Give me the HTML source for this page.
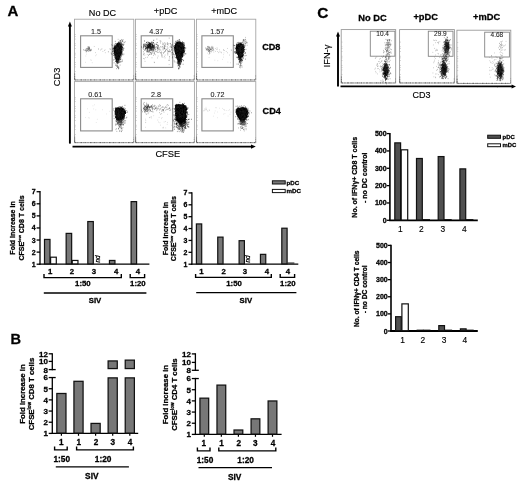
<!DOCTYPE html>
<html lang="en">
<head>
<meta charset="utf-8">
<title>Figure</title>
<style>
html,body{margin:0;padding:0;background:#fff;}
body{width:520px;height:482px;overflow:hidden;}
svg{display:block;filter:grayscale(1) blur(0.3px);}
</style>
</head>
<body>
<svg width="520" height="482" viewBox="0 0 520 482" font-family='"Liberation Sans", Arial, Helvetica, sans-serif'>
<rect width="520" height="482" fill="#fff"/>
<text x="7.6" y="15.8" font-size="15px" font-weight="bold" stroke="#000" stroke-width="0.28">A</text>
<text x="102.5" y="15.9" font-size="9.1px" text-anchor="middle" stroke="#000" stroke-width="0.14">No DC</text>
<text x="165.6" y="13.6" font-size="9.1px" text-anchor="middle" stroke="#000" stroke-width="0.14">+pDC</text>
<text x="224.2" y="13.6" font-size="9.1px" text-anchor="middle" stroke="#000" stroke-width="0.14">+mDC</text>
<text x="262.2" y="50.4" font-size="9.1px" font-weight="bold" stroke="#000" stroke-width="0.28">CD8</text>
<text x="262.6" y="114.4" font-size="9.1px" font-weight="bold" stroke="#000" stroke-width="0.28">CD4</text>
<text transform="translate(60.3 77) rotate(-90)" font-size="9.3px" text-anchor="middle" stroke="#000" stroke-width="0.14">CD3</text>
<text x="167.8" y="157.4" font-size="9.3px" text-anchor="middle" stroke="#000" stroke-width="0.14">CFSE</text>
<line x1="69.9" y1="143.6" x2="69.9" y2="25" stroke="#000" stroke-width="1.9"/>
<path d="M69.9 21.6L67.9 26.5L71.9 26.5Z" fill="#000"/>
<line x1="72.5" y1="146.6" x2="252" y2="146.6" stroke="#000" stroke-width="1.9"/>
<path d="M255.8 146.6L251 144.5L251 148.7Z" fill="#000"/>
<rect x="74.5" y="19.2" width="59.3" height="60.8" fill="none" stroke="#a2a2a2" stroke-width="0.85"/>
<line x1="75.1" y1="79.9" x2="133.2" y2="79.9" stroke="#4a4a4a" stroke-width="0.8" stroke-dasharray="1.2 1.1 0.5 0.9 0.4 1.3 1.6 1.2 0.5 0.8"/>
<line x1="75.3" y1="72" x2="75.3" y2="31.2" stroke="#888" stroke-width="0.7" stroke-dasharray="0.5 4.3 0.5 2.2 0.5 1.3"/>
<line x1="74.7" y1="79.7" x2="74.7" y2="73.2" stroke="#444" stroke-width="0.8" stroke-dasharray="2.2 0.6 1.2 0.7 0.6 0.8"/>
<line x1="133.6" y1="79.7" x2="133.6" y2="75" stroke="#777" stroke-width="0.7" stroke-dasharray="1.6 0.8 0.8 1.0"/>
<rect x="80.6" y="35.8" width="31.6" height="31.6" fill="none" stroke="#8a8a8a" stroke-width="1.1"/>
<text x="96" y="33.9" font-size="7.2px" text-anchor="middle" fill="#1c1c1c" stroke="#1c1c1c" stroke-width="0.08">1.5</text>
<rect x="135.5" y="19.2" width="58.9" height="60.8" fill="none" stroke="#a2a2a2" stroke-width="0.85"/>
<line x1="136.1" y1="79.9" x2="193.8" y2="79.9" stroke="#4a4a4a" stroke-width="0.8" stroke-dasharray="1.2 1.1 0.5 0.9 0.4 1.3 1.6 1.2 0.5 0.8"/>
<line x1="136.3" y1="72" x2="136.3" y2="31.2" stroke="#888" stroke-width="0.7" stroke-dasharray="0.5 4.3 0.5 2.2 0.5 1.3"/>
<line x1="135.7" y1="79.7" x2="135.7" y2="73.2" stroke="#444" stroke-width="0.8" stroke-dasharray="2.2 0.6 1.2 0.7 0.6 0.8"/>
<line x1="194.2" y1="79.7" x2="194.2" y2="75" stroke="#777" stroke-width="0.7" stroke-dasharray="1.6 0.8 0.8 1.0"/>
<rect x="141.2" y="35.8" width="31.5" height="31.6" fill="none" stroke="#8a8a8a" stroke-width="1.1"/>
<text x="156.2" y="33.9" font-size="7.2px" text-anchor="middle" fill="#1c1c1c" stroke="#1c1c1c" stroke-width="0.08">4.37</text>
<rect x="196.4" y="19.2" width="59.4" height="60.8" fill="none" stroke="#a2a2a2" stroke-width="0.85"/>
<line x1="197" y1="79.9" x2="255.2" y2="79.9" stroke="#4a4a4a" stroke-width="0.8" stroke-dasharray="1.2 1.1 0.5 0.9 0.4 1.3 1.6 1.2 0.5 0.8"/>
<line x1="197.2" y1="72" x2="197.2" y2="31.2" stroke="#888" stroke-width="0.7" stroke-dasharray="0.5 4.3 0.5 2.2 0.5 1.3"/>
<line x1="196.6" y1="79.7" x2="196.6" y2="73.2" stroke="#444" stroke-width="0.8" stroke-dasharray="2.2 0.6 1.2 0.7 0.6 0.8"/>
<line x1="255.6" y1="79.7" x2="255.6" y2="75" stroke="#777" stroke-width="0.7" stroke-dasharray="1.6 0.8 0.8 1.0"/>
<rect x="201.9" y="35.8" width="31.4" height="31.6" fill="none" stroke="#8a8a8a" stroke-width="1.1"/>
<text x="217.2" y="33.9" font-size="7.2px" text-anchor="middle" fill="#1c1c1c" stroke="#1c1c1c" stroke-width="0.08">1.57</text>
<rect x="74.5" y="81.6" width="59.3" height="61.1" fill="none" stroke="#a2a2a2" stroke-width="0.85"/>
<line x1="75.1" y1="142.6" x2="133.2" y2="142.6" stroke="#4a4a4a" stroke-width="0.8" stroke-dasharray="1.2 1.1 0.5 0.9 0.4 1.3 1.6 1.2 0.5 0.8"/>
<line x1="75.3" y1="134.7" x2="75.3" y2="93.6" stroke="#888" stroke-width="0.7" stroke-dasharray="0.5 4.3 0.5 2.2 0.5 1.3"/>
<line x1="74.7" y1="142.4" x2="74.7" y2="135.9" stroke="#444" stroke-width="0.8" stroke-dasharray="2.2 0.6 1.2 0.7 0.6 0.8"/>
<line x1="133.6" y1="142.4" x2="133.6" y2="137.7" stroke="#777" stroke-width="0.7" stroke-dasharray="1.6 0.8 0.8 1.0"/>
<rect x="80.6" y="98.8" width="31.6" height="32.1" fill="none" stroke="#8a8a8a" stroke-width="1.1"/>
<text x="95.3" y="97.3" font-size="7.2px" text-anchor="middle" fill="#1c1c1c" stroke="#1c1c1c" stroke-width="0.08">0.61</text>
<rect x="135.5" y="81.6" width="58.9" height="61.1" fill="none" stroke="#a2a2a2" stroke-width="0.85"/>
<line x1="136.1" y1="142.6" x2="193.8" y2="142.6" stroke="#4a4a4a" stroke-width="0.8" stroke-dasharray="1.2 1.1 0.5 0.9 0.4 1.3 1.6 1.2 0.5 0.8"/>
<line x1="136.3" y1="134.7" x2="136.3" y2="93.6" stroke="#888" stroke-width="0.7" stroke-dasharray="0.5 4.3 0.5 2.2 0.5 1.3"/>
<line x1="135.7" y1="142.4" x2="135.7" y2="135.9" stroke="#444" stroke-width="0.8" stroke-dasharray="2.2 0.6 1.2 0.7 0.6 0.8"/>
<line x1="194.2" y1="142.4" x2="194.2" y2="137.7" stroke="#777" stroke-width="0.7" stroke-dasharray="1.6 0.8 0.8 1.0"/>
<rect x="141.2" y="98.8" width="31.5" height="32.1" fill="none" stroke="#8a8a8a" stroke-width="1.1"/>
<text x="156" y="97.3" font-size="7.2px" text-anchor="middle" fill="#1c1c1c" stroke="#1c1c1c" stroke-width="0.08">2.8</text>
<rect x="196.4" y="81.6" width="59.4" height="61.1" fill="none" stroke="#a2a2a2" stroke-width="0.85"/>
<line x1="197" y1="142.6" x2="255.2" y2="142.6" stroke="#4a4a4a" stroke-width="0.8" stroke-dasharray="1.2 1.1 0.5 0.9 0.4 1.3 1.6 1.2 0.5 0.8"/>
<line x1="197.2" y1="134.7" x2="197.2" y2="93.6" stroke="#888" stroke-width="0.7" stroke-dasharray="0.5 4.3 0.5 2.2 0.5 1.3"/>
<line x1="196.6" y1="142.4" x2="196.6" y2="135.9" stroke="#444" stroke-width="0.8" stroke-dasharray="2.2 0.6 1.2 0.7 0.6 0.8"/>
<line x1="255.6" y1="142.4" x2="255.6" y2="137.7" stroke="#777" stroke-width="0.7" stroke-dasharray="1.6 0.8 0.8 1.0"/>
<rect x="201.9" y="98.8" width="31.4" height="32.1" fill="none" stroke="#8a8a8a" stroke-width="1.1"/>
<text x="217.4" y="97.3" font-size="7.2px" text-anchor="middle" fill="#1c1c1c" stroke="#1c1c1c" stroke-width="0.08">0.72</text>
<path d="M118.95 42.55C119.56 42.74 120.35 44.05 120.85 44.92C121.35 45.78 121.89 46.56 121.94 47.74C121.99 48.91 121.47 50.56 121.15 51.97C120.83 53.38 120.45 54.83 120.04 56.19C119.62 57.55 119.13 59.04 118.66 60.15C118.19 61.26 117.66 63.02 117.21 62.85C116.77 62.68 116.34 60.43 115.98 59.16C115.61 57.89 115.31 56.42 115.01 55.22C114.7 54.02 114.39 53.02 114.15 51.97C113.91 50.91 113.42 49.87 113.59 48.9C113.76 47.92 114.54 46.98 115.15 46.12C115.75 45.26 116.59 44.34 117.22 43.75C117.85 43.15 118.35 42.35 118.95 42.55Z" fill="#000"/>
<path d="M116.13 45.38h0.8M118.88 50.28h0.8M117.51 59.7h0.8M118.63 50.57h0.8M120.99 48.72h0.8M116.58 60h0.8M118.67 50.03h0.8M118.89 52.13h0.8M117.69 47.54h0.8M114.15 53.97h0.8M120.05 48.35h0.8M117.57 58.61h0.8M120.43 53.73h0.8M118.69 54.22h0.8M118.61 56.46h0.8M119.63 49.04h0.8M113.52 48.52h0.8M112.81 51.2h0.8M114.95 52.16h0.8M115.15 48.1h0.8M119.28 47.9h0.8M117.75 53.72h0.8M117.79 54.87h0.8M117.7 51.28h0.8M115.92 50.17h0.8M118.71 46.24h0.8M117.98 43.16h0.8M117.77 52.55h0.8M116.66 47.54h0.8M117.84 45.48h0.8M116.4 51.09h0.8M117.79 58.82h0.8M115.37 53.2h0.8M116.53 56.39h0.8M115.59 47.62h0.8M119.85 51.2h0.8M120.42 53.42h0.8M117.09 58.68h0.8M116.87 61.33h0.8M116.6 53.78h0.8M117.45 59.8h0.8M115.75 49.47h0.8M116.85 52.24h0.8M115.17 51.05h0.8M116.2 61.17h0.8M118.58 46.3h0.8M114.88 51.23h0.8M115.1 52.63h0.8M115.79 47.3h0.8M118.96 57.56h0.8M117.58 52.73h0.8M115.63 53.62h0.8M119.82 47.17h0.8M121.18 45.88h0.8M120.53 44.16h0.8M118.3 52.35h0.8M114.27 51.24h0.8M115.2 48.87h0.8M118.87 51.56h0.8M120.76 53.79h0.8M115.7 48.25h0.8M117.36 60.54h0.8M118.57 56.9h0.8M120.9 51.94h0.8M120.14 59.55h0.8M115.79 48.88h0.8M118.33 47.66h0.8M116.23 48.13h0.8M117.69 46.27h0.8M120.02 54.51h0.8M119.04 51.37h0.8M116.08 50.9h0.8M116.17 58.44h0.8M117.34 49.73h0.8M116.94 46.58h0.8M115.73 48.25h0.8M114.75 53.47h0.8M116.9 49.79h0.8M117.82 53.58h0.8M114.49 50.7h0.8M115.36 46.81h0.8M119.54 54.42h0.8M117.26 49.13h0.8M120.98 55.99h0.8M113.36 53.14h0.8M119.32 56.81h0.8M115.81 50.73h0.8M117.48 54.5h0.8M117.64 53.18h0.8M120.26 47.93h0.8M119.55 44.71h0.8M116.61 50.46h0.8M119.81 54.84h0.8M114.79 47.08h0.8M113.57 47.01h0.8M118.42 48.37h0.8M117.87 44.65h0.8M117.79 49.72h0.8M115.91 55.05h0.8M121.31 52.13h0.8M117.78 49.2h0.8M117.46 59.62h0.8M121.64 44.47h0.8M120.61 48.96h0.8M116.57 51.47h0.8M115.2 47.91h0.8M119.51 42.75h0.8M119.82 55.86h0.8M117.18 50.68h0.8M121.4 47.31h0.8M118.46 50.93h0.8M119.8 45.64h0.8M117.46 45.68h0.8M114.2 47.14h0.8M119.08 51.39h0.8M117.29 49.64h0.8M118.13 54.94h0.8M115.21 48.06h0.8M121.06 52.15h0.8M117.52 60.08h0.8M122.04 47.86h0.8M119.05 55.97h0.8M118.1 58.32h0.8M119.37 49.12h0.8M119.12 56.91h0.8M117.57 54.72h0.8M117.13 51.63h0.8M121.02 52.75h0.8M117.26 56.51h0.8M116.21 50.64h0.8M118.43 46.59h0.8M120.66 48.46h0.8M117.86 47.1h0.8M115.27 52.47h0.8M115.32 49.62h0.8M122.05 50.81h0.8M118.68 50.7h0.8M116.29 49.58h0.8M116.91 58.52h0.8M116.95 61.87h0.8M117.04 58.82h0.8M121.25 46.19h0.8M117.4 47.81h0.8M115.54 57.64h0.8M117.3 51.71h0.8M116.04 48.01h0.8M121.73 45.12h0.8M118.37 49.83h0.8M120.52 45.31h0.8M114.2 51.89h0.8M114.75 50.26h0.8M119.47 44.49h0.8M118.29 49.63h0.8M116.53 48.78h0.8M116.6 50.57h0.8M118.21 46.25h0.8M118.43 57.8h0.8M114.28 48.83h0.8M121.89 49.51h0.8M118.71 55.82h0.8M115.43 54.31h0.8M113.48 48.77h0.8M116.46 45.79h0.8M116.69 53.47h0.8M116.37 50h0.8M115.72 54.65h0.8M116.56 46.06h0.8M115.86 60.05h0.8M118.37 45.93h0.8M117.05 53.27h0.8M118.6 61.88h0.8M118.27 43.3h0.8M120.59 45.29h0.8M117.19 59.32h0.8M114.69 50.58h0.8M114.37 46.01h0.8M119.84 44.39h0.8M117.98 49.23h0.8M116.4 56.18h0.8M117.79 46.05h0.8M117.07 46.25h0.8M115.33 51.72h0.8M117.65 43.14h0.8M117.15 43.63h0.8M114.15 49.24h0.8M121.24 47.76h0.8M117.93 61.78h0.8M118.27 49.13h0.8M114.1 52.8h0.8M120.27 61.88h0.8M119.02 50h0.8M116.17 58.23h0.8M119.08 46.07h0.8M118.47 56.06h0.8M117.18 51.2h0.8M114.6 47.03h0.8M114.64 50.76h0.8M117.92 46.11h0.8M116.49 46.17h0.8M118 47.99h0.8M117.8 49.03h0.8M118.17 47.83h0.8M114.2 54.85h0.8M120.16 46.67h0.8M119.77 51.19h0.8M115.91 56.43h0.8M118.79 47.69h0.8M120.07 54.22h0.8M115.7 45.57h0.8M120.3 48.73h0.8M117.82 54.85h0.8M117.04 58.22h0.8M116.67 56.99h0.8M116.79 55.95h0.8M116.68 45.47h0.8M118.98 54.28h0.8M117.28 57.74h0.8M118.48 58.85h0.8M119.59 47.41h0.8M115.51 57.56h0.8M116.58 59.18h0.8M118.29 46.7h0.8M120.93 46.01h0.8M118.04 59.51h0.8M116.37 61.2h0.8M115.69 46.09h0.8M118.24 50.2h0.8M116.02 47.39h0.8M116.84 61.31h0.8M118.05 56.81h0.8M117.29 50.35h0.8M119.5 58.3h0.8M120.62 54.89h0.8M121.21 47.96h0.8M115.23 49.12h0.8M117.5 46.2h0.8M115.74 50.22h0.8M120.06 52.37h0.8M116.62 57.8h0.8M119.5 52.73h0.8M117.62 57.16h0.8M117.92 58.01h0.8M118.55 52.72h0.8M114.64 49.93h0.8M118.13 48h0.8M118.01 49.35h0.8M118.1 50.57h0.8M117.06 57.03h0.8M119 54.09h0.8M114.37 57.22h0.8M116.64 50.73h0.8M116.76 57.19h0.8M117.74 47.78h0.8M117.79 55.83h0.8M117.11 54.29h0.8M117.14 48.41h0.8M120.9 49.28h0.8M116.31 47.91h0.8M115.67 48.32h0.8M116.79 54.9h0.8M120.68 42.98h0.8M119.4 47.87h0.8M117.56 44.91h0.8M117.91 57.05h0.8M116.61 58.18h0.8M118.27 48.32h0.8M117.31 43.82h0.8M116.27 52.3h0.8M116.78 52.76h0.8M117 50.98h0.8M119.9 55.64h0.8M118.01 52.27h0.8M118.82 56.48h0.8M115.4 51.98h0.8M114.53 51.82h0.8M120.85 47.83h0.8M115.8 47.98h0.8M118.74 59.19h0.8M115.24 53.49h0.8M114.48 48.66h0.8M119.94 58.02h0.8M118.41 54.34h0.8M118.87 46.16h0.8M120.04 44.79h0.8M119.64 48.88h0.8M118.04 48.51h0.8M115.17 49.96h0.8M121.06 53.84h0.8M116.72 44.22h0.8M119.55 46.99h0.8M118.89 43.42h0.8M117.39 63.37h0.8M116.92 58.62h0.8M117 44.47h0.8M118.06 57.33h0.8M116.1 55.08h0.8M118.02 58.07h0.8M120.17 49.22h0.8M117.74 54.65h0.8M117.22 49.48h0.8M115.48 55.52h0.8M120.91 48.3h0.8M117.74 53.05h0.8M119.16 47.03h0.8M118.59 59.9h0.8M120.51 46.61h0.8M117.44 47.97h0.8M121.34 52.58h0.8M118.66 46.52h0.8M117.75 54.96h0.8M115.89 54.52h0.8M119.61 45.33h0.8M120.3 52.19h0.8M121.28 50.78h0.8M115.47 46.34h0.8M116.52 60.69h0.8M119.94 51.89h0.8M114.57 52.59h0.8M118.77 50.67h0.8M117.03 48.78h0.8M118.2 47.94h0.8M114.45 49.5h0.8M117.64 46.38h0.8M121.22 46.89h0.8M116.14 52.59h0.8M117.74 48.69h0.8M118.88 45.69h0.8M120.46 54.96h0.8M116.14 51.39h0.8M121.02 50.08h0.8M118.57 46.92h0.8M114.26 48.34h0.8M114.61 48.27h0.8M119.79 48.49h0.8M120.36 49.5h0.8M120.85 53.96h0.8M120.85 46.8h0.8M119.81 46.69h0.8M118.6 53.1h0.8M119.07 56.02h0.8M119.67 50.59h0.8M121.16 48.12h0.8M121.42 49.23h0.8M115.97 46.58h0.8M118.16 53.82h0.8M115.37 57.82h0.8M117.73 53.28h0.8M121.81 47.4h0.8M120.42 46.62h0.8M118.3 52.84h0.8M117.64 53.08h0.8M115.75 44.53h0.8M114.81 53.74h0.8M117.32 50.33h0.8M117.01 61h0.8M113.69 50.17h0.8M115.2 50.6h0.8M117.23 44.31h0.8M118.69 47.41h0.8M118 47.53h0.8M121.17 49.38h0.8M115.42 51.93h0.8M115.91 51.33h0.8M118.7 56.85h0.8M116.81 53.14h0.8M116.34 48.33h0.8M117.47 54.49h0.8M119.99 47.09h0.8M116.21 58.45h0.8M121.54 51.76h0.8M117.67 57.81h0.8M114.22 50.27h0.8M119.12 59h0.8M120.19 51.07h0.8M118.1 54.47h0.8M118.68 49.57h0.8M117.89 50.49h0.8M118.91 49.09h0.8M117.13 47.69h0.8M118.01 52.14h0.8M114.53 54.08h0.8M122.05 47.95h0.8M117.38 61.05h0.8M119.42 52.04h0.8M117.62 52.38h0.8M115.52 56.06h0.8M119.82 53.63h0.8M115.59 53.26h0.8M117.94 55.21h0.8M118.33 59.68h0.8M118.76 44.1h0.8M121.35 51.6h0.8M118.04 53.23h0.8M117.44 56.66h0.8M117.81 44.09h0.8M116.78 56.59h0.8M118.24 46.55h0.8M113.35 55.19h0.8M118.7 51.19h0.8M120.3 44.98h0.8M116.94 58.39h0.8M119.88 48.43h0.8M116.3 48.89h0.8M117.76 49.86h0.8M117.26 55.36h0.8M118.91 47.59h0.8M117.76 62.56h0.8M119.05 48.44h0.8M117.65 59.1h0.8M117.18 46.23h0.8M117.57 44.73h0.8M116.74 48.08h0.8M119.78 50.43h0.8M114.56 47.69h0.8M117.44 59.12h0.8M115.21 58.51h0.8M117.43 47.28h0.8M120.28 47.26h0.8M116.27 47.23h0.8M119.96 44.96h0.8M115.04 58.93h0.8M118.09 49.06h0.8M117 56.6h0.8M116.53 52.97h0.8M117.01 47.98h0.8M117.02 50.05h0.8M115.78 48.37h0.8M118.21 50.24h0.8M119.82 47.03h0.8M120.06 47.31h0.8M119.92 57.07h0.8M114.71 47.25h0.8M113.62 48.51h0.8M118.55 48.16h0.8M119.6 43.6h0.8M119.91 52.12h0.8M117.51 52.77h0.8M116.8 53.44h0.8M118.78 47.87h0.8M116.88 47.01h0.8M119.54 56.7h0.8M118.52 51.31h0.8M114.1 55.15h0.8M118.7 58.94h0.8M118.73 50.53h0.8M114.23 48.81h0.8M114.47 49.33h0.8M116.96 45.58h0.8M116.72 46.01h0.8M114.06 52.66h0.8M119.05 48.05h0.8M121.01 49.53h0.8M116.61 45.72h0.8M115.72 54.75h0.8M118.81 54.26h0.8M118.06 53.21h0.8" stroke="#000" stroke-width="0.8" fill="none"/>
<path d="M118.01 43.12h0.65M117.75 62.53h0.65M117.24 46.28h0.65M119.58 53.92h0.65M116.81 52.83h0.65M120.56 47.86h0.65M118.56 50.37h0.65M120.38 51.15h0.65M118.52 57.28h0.65M116.81 51.91h0.65M121.66 53.05h0.65M114.68 55.51h0.65M119.21 51.38h0.65M115.61 47.82h0.65M117.21 55.66h0.65M117.88 44.58h0.65M114.4 59.14h0.65M122.94 44.7h0.65M119.23 45.42h0.65M120.17 44.68h0.65M118.11 50.35h0.65M114.84 46.71h0.65M114.94 54.83h0.65M114.25 45.51h0.65M118.93 42.9h0.65M121.46 61.67h0.65M119.95 49.65h0.65M114.42 56.61h0.65M118.45 43.81h0.65M112.59 45.57h0.65M118.16 50.69h0.65M122.47 48.67h0.65M115.07 53.17h0.65M119.38 45.01h0.65M116.14 55.41h0.65M118.87 50.3h0.65M111.09 53.26h0.65M120.55 55.84h0.65M117.87 56.6h0.65M115.98 55.78h0.65M117.05 49.05h0.65M111.58 54.48h0.65M117.67 51.39h0.65M120.35 45.47h0.65M115.91 50.92h0.65M115.76 46.43h0.65M123.63 48.27h0.65M113.13 59.94h0.65M121.08 48.56h0.65M114.59 46.71h0.65M113.9 44.33h0.65M118.51 41.68h0.65M120.03 40.55h0.65M117.33 47.5h0.65M119.83 49.66h0.65M118.27 49.22h0.65M116.63 51.71h0.65M115.19 51.74h0.65M118.32 57.99h0.65M120.78 42.54h0.65M115.47 53.55h0.65M118.53 47.8h0.65M120.81 43.65h0.65M112.9 47.54h0.65M117.84 54.07h0.65M120.91 44.55h0.65M119.91 45.57h0.65M122.31 47.22h0.65M119.56 47.53h0.65M119.22 60.99h0.65M119.52 60.3h0.65M115.31 49.68h0.65M115.68 43.95h0.65M117.49 57.27h0.65M120.88 44.44h0.65M111.97 49.64h0.65M115.12 49.87h0.65M117.39 57.47h0.65M117.02 47.98h0.65M117.97 43.27h0.65M122.96 45.4h0.65M115.92 53.96h0.65M116.42 46.6h0.65M122.34 54.5h0.65M115.8 46.86h0.65M116.82 54.06h0.65M117.03 55.15h0.65M112.46 51.49h0.65M115.93 50.94h0.65M114.71 55.94h0.65M117.93 47.23h0.65M115.57 49.53h0.65M115.47 53.48h0.65M116.96 50.11h0.65M117.61 47.36h0.65M115.07 59.12h0.65M115.4 56.9h0.65M118.51 51.96h0.65M119.32 51.99h0.65M117.18 58.56h0.65M116.3 48.73h0.65M119.52 53.37h0.65M116.03 52.13h0.65M119.16 43.94h0.65M116.75 48.63h0.65M116.38 54.55h0.65M118.95 49.39h0.65M115.97 48.6h0.65M116.92 48.46h0.65M117.66 54.06h0.65M117.91 53.73h0.65M116.35 56.7h0.65M117.71 49.89h0.65M118.5 50.27h0.65M115.49 61.44h0.65M116.37 56.55h0.65M119.66 50.56h0.65M122.58 54.98h0.65M122.27 53.33h0.65M120.58 54.36h0.65M119.71 47.48h0.65M115.32 49.22h0.65M119.39 51.59h0.65M120.93 48.36h0.65M115.93 50.63h0.65M118.87 48.77h0.65M112.11 48.53h0.65M117.81 52.47h0.65M116.85 54.57h0.65M113.72 62.85h0.65M113.69 50.89h0.65M120.72 45.06h0.65M118.97 50.13h0.65M116.62 45.92h0.65M121.94 47.25h0.65M116.86 60.05h0.65M122.07 46.71h0.65M114.59 46.45h0.65M119.7 44.79h0.65M122.24 40.57h0.65M117.16 57.91h0.65M114.1 49.98h0.65M119.72 44.01h0.65M116.02 47.39h0.65M115.7 58.72h0.65M121.08 46.94h0.65M118.04 45.36h0.65M117.1 60.64h0.65M115.09 43.42h0.65M120.79 52.39h0.65M115.95 49.18h0.65M117.88 58.1h0.65M119.31 54.87h0.65M113.15 53.34h0.65M115.53 51.69h0.65M122.31 61.06h0.65M115.05 57.36h0.65M116.74 48.28h0.65M118.53 47.97h0.65M115.67 45.42h0.65M119.6 46.38h0.65M119.44 55h0.65M120.61 51.79h0.65M117.09 47.42h0.65M118.68 46.48h0.65M112.72 51.54h0.65M118.36 48.56h0.65M120.7 57.99h0.65M119.28 45.23h0.65M121.93 41.35h0.65M120.04 48.42h0.65M123.13 48.05h0.65M114.18 46.93h0.65M116.52 58.24h0.65M117.64 55.69h0.65M114.9 41.36h0.65M118.17 51.74h0.65M118.71 49.76h0.65M114.17 49.8h0.65M120.05 49.27h0.65M117.62 48.6h0.65M116.87 47.59h0.65M119.06 52.07h0.65M120.48 45.83h0.65M117.38 60.75h0.65M117.67 56.03h0.65M115.49 64.13h0.65M116.04 49.78h0.65M116.3 54.89h0.65M120.14 44.16h0.65M115.95 45.47h0.65M119.07 46.68h0.65M120.86 50.71h0.65M119.32 57.69h0.65M118.87 57.63h0.65M115.57 52.24h0.65M119.52 46.59h0.65M120.83 49.32h0.65M116.34 48.39h0.65M117.42 52.37h0.65M118.34 50.03h0.65M115.2 57.04h0.65M116.31 43.49h0.65M118.28 54.64h0.65M117 47.33h0.65M117.76 57.63h0.65M117.98 48.51h0.65M116.94 58.11h0.65M111.47 44.86h0.65M119.18 54.72h0.65M117.05 48.86h0.65M116.05 49.55h0.65M116.5 50.21h0.65M116.55 57.67h0.65M116.42 57.82h0.65M123.15 50.29h0.65M119.36 55.68h0.65M118.44 60.58h0.65M120.06 49.15h0.65M123.27 49.21h0.65M116.67 48.88h0.65M121.68 59.82h0.65M117.65 51.6h0.65M123.58 54.08h0.65M117.2 56.28h0.65" stroke="#222" stroke-width="0.65" fill="none"/>
<path d="M116.85 63.02h0.6M117.06 67.01h0.6M118.17 68.74h0.6M115.24 61.49h0.6M118.32 68.61h0.6M117.84 60.35h0.6M116.82 62.49h0.6M116.11 62.49h0.6M117.74 61.58h0.6M118.25 61.16h0.6M117.3 60.64h0.6M116.32 62.35h0.6M117.23 60.66h0.6M116.83 61.06h0.6M116.67 63.48h0.6M115.09 65.53h0.6M118.66 68.08h0.6M116.71 65.2h0.6M117.44 60.1h0.6M117.54 66.96h0.6M116.92 65.23h0.6M116.89 61.68h0.6M115.53 60.49h0.6M115.35 61.32h0.6M117.78 60.06h0.6M118.15 67.42h0.6M117 66.21h0.6M117.52 60.25h0.6M117.57 60.44h0.6M116.4 68.67h0.6M117.68 67.59h0.6M116.42 66.43h0.6M118.3 60.33h0.6M118.13 62.98h0.6M117.4 60.72h0.6M117.59 67.55h0.6M119.78 65.09h0.6M116.55 62.34h0.6M116.17 65.35h0.6M118.49 66.68h0.6M118.02 60.35h0.6M117.45 63.74h0.6M119.09 61.86h0.6M117.5 65.99h0.6M119.22 62.57h0.6" stroke="#333" stroke-width="0.6" fill="none"/>
<path d="M122.51 41.68h0.55M121.35 41.13h0.55M123.76 44.4h0.55M120.13 41.54h0.55M120.56 42.7h0.55M125.41 41.74h0.55M122.07 41.54h0.55M120.99 43.25h0.55M123.39 39.81h0.55M120.19 41.87h0.55M119.63 45.72h0.55M122.69 44.84h0.55M122.17 39.84h0.55M123.08 42.13h0.55M120.2 40.51h0.55M119.27 41.3h0.55M121.68 45h0.55M120.18 44h0.55M122.01 44.08h0.55M121.39 39.48h0.55M123.49 43.9h0.55M119.22 42.47h0.55M121 47.5h0.55M124.23 42.7h0.55M121.03 44.06h0.55M121.9 43.9h0.55M120.97 40.11h0.55M117.84 39.32h0.55M118.41 42.4h0.55M122.54 46.18h0.55M121.85 47.2h0.55M124.44 42.15h0.55M120.38 42.96h0.55M120.5 41.46h0.55M121.44 43.56h0.55M117.82 42.63h0.55M121.44 44.17h0.55M119.66 43.63h0.55M119.58 40.34h0.55M119.85 42.77h0.55" stroke="#444" stroke-width="0.55" fill="none"/>
<path d="M88.99 48.84h0.65M86.92 49.85h0.65M89.78 50.56h0.65M90.09 49.4h0.65M87.93 49.67h0.65M88.67 48.07h0.65M87.72 50.61h0.65M90.46 50.63h0.65M85.96 51.58h0.65M89.25 48.98h0.65M89.01 50.47h0.65M88.24 47.41h0.65M86.47 50.04h0.65M88.53 51.38h0.65M89.84 50.72h0.65M87.88 49.02h0.65M89.04 49.32h0.65M85.82 50.61h0.65M85.95 48.45h0.65M85.64 49.67h0.65M89.17 48.19h0.65M88.16 48.32h0.65M88.23 46.76h0.65M89.16 47.67h0.65M88.24 49.68h0.65M87.91 48.27h0.65M88.74 48.78h0.65M87.01 48.84h0.65M86.9 48.42h0.65M87 50.44h0.65M83.35 49.82h0.65M85.33 50.58h0.65M87.47 47.01h0.65M89.23 47.02h0.65" stroke="#444" stroke-width="0.65" fill="none"/>
<path d="M91.4 50.4h0.55M90.74 50.22h0.55M90.23 50.67h0.55M107.93 51.76h0.55M104.8 49.82h0.55M104.92 52.69h0.55M98.36 48.68h0.55M86.83 51.13h0.55M100.93 49.26h0.55M93.91 46.46h0.55M88.35 49.54h0.55M98.33 49.33h0.55M109.32 48.89h0.55M95 52.6h0.55M110.12 49.24h0.55M86.42 50.81h0.55M108.48 51.78h0.55M84.37 50.34h0.55M110.72 53.03h0.55M88.76 48.24h0.55M102.65 51.43h0.55M104.14 50.52h0.55M90.94 49.29h0.55M84.75 50.1h0.55M91.01 49.48h0.55M110.04 49.17h0.55M101.72 48.82h0.55M100.14 50.04h0.55M85.73 49.22h0.55M85.81 52.01h0.55" stroke="#777" stroke-width="0.55" fill="none"/>
<path d="M86.28 54.13h0.5M91.9 62.7h0.5M95 55.73h0.5M96.31 54.78h0.5M85.6 56.03h0.5M90.54 59.9h0.5M91.12 60.28h0.5M85.52 62.32h0.5" stroke="#999" stroke-width="0.5" fill="none"/>
<path d="M178.81 41.6C179.84 41.57 181.18 42.28 182.01 43.17C182.84 44.06 183.6 45.54 183.8 46.95C184 48.36 183.59 49.94 183.21 51.61C182.83 53.28 182.12 55.18 181.51 56.98C180.9 58.77 179.98 61.03 179.56 62.4C179.15 63.77 179.25 65.37 179 65.2C178.75 65.03 178.51 62.85 178.06 61.4C177.61 59.95 176.83 57.98 176.32 56.5C175.81 55.01 175.29 54.07 175 52.49C174.71 50.9 174.44 48.49 174.58 46.97C174.71 45.45 175.09 44.26 175.8 43.37C176.5 42.47 177.77 41.63 178.81 41.6Z" fill="#000"/>
<path d="M180.06 57.38h0.8M178.48 56.52h0.8M182.22 45.35h0.8M181.08 45h0.8M177.41 54.37h0.8M182.28 47.42h0.8M177.5 46.32h0.8M178.66 55.28h0.8M182.55 47.92h0.8M175.79 52.38h0.8M175.35 53.16h0.8M179.11 45.03h0.8M179.19 63.44h0.8M179.32 47.96h0.8M177.83 43.4h0.8M180.49 59.58h0.8M177.87 46.08h0.8M178.43 46.91h0.8M179.4 40.99h0.8M179.76 46.12h0.8M180.59 45.61h0.8M174.58 45.66h0.8M174.42 47.49h0.8M176.05 46.11h0.8M182.27 51.04h0.8M183.22 46.23h0.8M178.92 47.57h0.8M178.18 49.62h0.8M177.89 45.43h0.8M180.17 46.78h0.8M181.41 44.87h0.8M176.21 52.59h0.8M174.35 47.61h0.8M179.6 52.08h0.8M177.64 43.11h0.8M174.56 47.97h0.8M184.47 50.11h0.8M179.05 44.39h0.8M181.06 62.02h0.8M175.24 44.16h0.8M176.36 46.59h0.8M181.49 43.28h0.8M177.9 57.49h0.8M178.86 57.33h0.8M180.8 45.42h0.8M177.27 52.79h0.8M177.52 57.3h0.8M176.25 46.65h0.8M176.03 50.92h0.8M180.04 49.77h0.8M175.44 54.06h0.8M176.18 51.54h0.8M180.14 58.71h0.8M181.54 48.65h0.8M180.87 58.69h0.8M176.98 47.33h0.8M173.84 48.88h0.8M178.34 52.89h0.8M175.6 46.3h0.8M181.56 48.11h0.8M176.58 53.84h0.8M181.31 43.45h0.8M179.06 58.69h0.8M183.28 43.41h0.8M181.63 47.96h0.8M180.39 45.2h0.8M177.71 46.9h0.8M181.68 46.55h0.8M181.97 56.51h0.8M177.16 57.21h0.8M177.86 49h0.8M179.95 44.54h0.8M182.94 52.62h0.8M179.6 53.14h0.8M180.34 60.12h0.8M178.32 52.99h0.8M177.72 47.96h0.8M181.85 48.78h0.8M176.1 51.97h0.8M178.42 56.13h0.8M178.88 43.37h0.8M176.03 44.51h0.8M179.67 61.48h0.8M182.03 51.45h0.8M175.98 47.63h0.8M175.69 52.33h0.8M174.6 46.51h0.8M181.99 49.6h0.8M178.1 45.66h0.8M175.64 52.11h0.8M180.3 57.38h0.8M181.06 47.4h0.8M178.36 50.93h0.8M183.3 50.28h0.8M180.39 48.53h0.8M176.27 56.05h0.8M176.77 53.62h0.8M181.76 43.37h0.8M178.11 49.87h0.8M181.34 46.35h0.8M175.97 50.61h0.8M176.89 44.37h0.8M176.91 51.43h0.8M184.14 47.86h0.8M177.76 62.77h0.8M181.59 53.08h0.8M176.57 48.94h0.8M182.4 44.71h0.8M179.93 51.65h0.8M177.1 46.8h0.8M176.77 58.8h0.8M177.15 49.31h0.8M179.15 53.21h0.8M179.4 61.02h0.8M181.14 60h0.8M182.59 47.35h0.8M182.12 51.15h0.8M176.78 50.7h0.8M177.65 58.51h0.8M176.39 54.24h0.8M183.81 45.36h0.8M180.53 48.91h0.8M177.24 44.83h0.8M181.38 43.94h0.8M181.91 47.52h0.8M178.77 56.05h0.8M177.01 43.83h0.8M179.83 45.15h0.8M176.5 55.85h0.8M178.2 50.96h0.8M179.1 45.83h0.8M180.58 48.83h0.8M177.08 51.53h0.8M181.58 59.34h0.8M181.74 55.23h0.8M177.69 47.08h0.8M178.6 52.22h0.8M182.85 48.2h0.8M180.14 52.49h0.8M180.83 60.1h0.8M178.86 50.94h0.8M176.65 49.63h0.8M181.62 45.1h0.8M183.36 52.27h0.8M183.64 51.95h0.8M182.35 55.89h0.8M180.36 44.49h0.8M180.59 58.15h0.8M178.05 47.79h0.8M178.17 46.24h0.8M181.94 41.9h0.8M181.66 53.74h0.8M180.58 48.15h0.8M180.82 45.29h0.8M182.58 50.91h0.8M180.46 53.02h0.8M177.04 50.3h0.8M182.5 49.14h0.8M179.64 45.87h0.8M180.9 45.18h0.8M174.57 49.25h0.8M179.63 58.69h0.8M181.75 42.73h0.8M176.6 56.92h0.8M180.55 60.72h0.8M181.73 51.86h0.8M179.31 59.78h0.8M178.82 47.55h0.8M178.81 44.58h0.8M177.65 58.47h0.8M182.51 46.86h0.8M176.71 45.32h0.8M178.95 60.14h0.8M181.12 61.46h0.8M176.83 53.37h0.8M179.2 54.31h0.8M176.09 52.12h0.8M177.99 54.75h0.8M177.15 54.45h0.8M176.63 44.31h0.8M181.91 51.14h0.8M179.26 61.62h0.8M179.55 49.23h0.8M176.37 54.61h0.8M181.7 59.8h0.8M179.82 58.66h0.8M177.47 55.78h0.8M176.49 46h0.8M182.88 48.56h0.8M177.71 59.32h0.8M182.03 48.4h0.8M180.89 57.65h0.8M180.67 50.53h0.8M175.55 45.91h0.8M182.75 44.42h0.8M179.73 51.22h0.8M175.08 51.68h0.8M178.04 43.06h0.8M177.78 59.85h0.8M183.35 50.62h0.8M180.12 46.15h0.8M177.77 43.24h0.8M176.8 54.19h0.8M175.79 48.08h0.8M182.53 51.83h0.8M180.75 45.12h0.8M179.07 50.48h0.8M181.92 54.19h0.8M179.53 58.54h0.8M179.11 47.24h0.8M177.62 57.56h0.8M181.66 51.92h0.8M179.44 53.5h0.8M180.18 60.24h0.8M183.74 53.31h0.8M181.67 55.47h0.8M175.59 50.12h0.8M181.57 49.58h0.8M180.49 48.92h0.8M180.34 46.08h0.8M174.8 50.55h0.8M174.91 51.68h0.8M178.05 45.4h0.8M177.59 49.44h0.8M176.57 47.28h0.8M178.42 57.63h0.8M180.18 48.26h0.8M177.64 47.51h0.8M182.79 52.93h0.8M178.24 49.81h0.8M177.14 47.35h0.8M179.77 56.39h0.8M174.59 51.95h0.8M179.8 58.72h0.8M176.42 50.57h0.8M182.2 52.71h0.8M179.5 59.54h0.8M181.71 51.4h0.8M176.34 49.5h0.8M182.12 52.13h0.8M179.22 45.06h0.8M177.79 55.64h0.8M178.32 51.26h0.8M181.65 49.02h0.8M179.87 55.89h0.8M177.2 54.85h0.8M174.62 48.66h0.8M178.5 44.63h0.8M179.04 50.47h0.8M183.47 47.61h0.8M179.56 51.78h0.8M182.36 48.09h0.8M177.26 46.07h0.8M177.25 60.92h0.8M181.87 52.31h0.8M178.82 46.94h0.8M175.42 49.51h0.8M177.61 56.1h0.8M175.93 52.94h0.8M182.55 47.04h0.8M177.19 55.56h0.8M177.75 43.8h0.8M176.85 49.73h0.8M177.35 51.66h0.8M181.63 51.69h0.8M182.16 52.74h0.8M180.25 56.72h0.8M176.41 44.99h0.8M176.07 57.48h0.8M176.93 53.26h0.8M176.67 52.71h0.8M177.16 56.64h0.8M181.48 55.22h0.8M182.31 48.35h0.8M180 42.58h0.8M178.99 62.41h0.8M179.19 44.08h0.8M176.14 45.21h0.8M179.21 60.06h0.8M178.33 44.59h0.8M178.43 59.68h0.8M183.53 48.19h0.8M175.48 57.59h0.8M178.29 53.46h0.8M182.66 50.19h0.8M181.99 56.38h0.8M179.43 53.67h0.8M180.77 50.06h0.8M176.82 55.89h0.8M179.99 46.7h0.8M181.96 48.05h0.8M179.31 57.27h0.8M183 51.06h0.8M174.71 43.23h0.8M176.41 47.31h0.8M175.41 45.5h0.8M178.74 53.48h0.8M183.48 47.52h0.8M180.13 54.55h0.8M178.66 58.89h0.8M181.51 50.1h0.8M180.55 58.44h0.8M182.1 44.77h0.8M173.78 47.95h0.8M175.66 53.15h0.8M179.46 50.65h0.8M174.49 47.53h0.8M181.59 51.98h0.8M177.15 44.15h0.8M178.36 52.08h0.8M177.59 44.52h0.8M179.2 56.44h0.8M179.58 46.01h0.8M174.79 51.8h0.8M177.53 44.33h0.8M182.4 45.76h0.8M177.81 48.72h0.8M177.02 54.61h0.8M180.98 43.36h0.8M181.19 50.62h0.8M179.87 52.03h0.8M178.73 52.14h0.8M179.46 57.22h0.8M180.91 48.35h0.8M178.86 62.46h0.8M182.37 48.63h0.8M183.58 46.51h0.8M182.74 47.75h0.8M174.99 48.69h0.8M177.9 44.46h0.8M175.99 47.13h0.8M176.53 54.71h0.8M179.46 47.62h0.8M179.75 55.93h0.8M179.74 58.47h0.8M177.15 51.72h0.8M178.29 47.89h0.8M181.72 53.35h0.8M179.63 53.36h0.8M177.68 62.36h0.8M185.33 48.07h0.8M178.79 43.78h0.8M176.62 56.42h0.8M181.93 43.68h0.8M178.67 56.84h0.8M177.98 50.83h0.8M182.21 56.16h0.8M179.88 47.84h0.8M178.28 61.47h0.8M180.17 48.08h0.8M181.72 46.15h0.8M177.32 49.88h0.8M181.45 47.26h0.8M181.87 48.66h0.8M183.26 52.32h0.8M176.69 47.9h0.8M181.18 54.78h0.8M180.98 54.74h0.8M179.16 47.49h0.8M181.39 55.31h0.8M181.06 54.2h0.8M179.5 43.43h0.8M182.75 50.91h0.8M177.8 43.21h0.8M175.95 58.03h0.8M175.59 52.33h0.8M177.74 43.26h0.8M179.05 52.05h0.8M179.77 46.92h0.8M179.03 56.19h0.8M176.42 49.85h0.8M175.11 52.17h0.8M179.01 56.02h0.8M177.05 57.09h0.8M178.41 52.93h0.8M180.29 43.12h0.8M179.84 49.33h0.8M182.17 46.81h0.8M179.93 47.8h0.8M179.22 59.76h0.8M178.79 55.45h0.8M181.72 46.83h0.8M181.44 53.57h0.8M176.46 53.27h0.8M182.43 44.55h0.8M176.62 53.64h0.8M182.16 49.36h0.8M174.67 49.6h0.8M177.7 57.81h0.8M181.79 54.42h0.8M183.22 47.96h0.8M182.58 48.55h0.8M176.1 47.16h0.8M180.68 44.7h0.8M176.17 43.67h0.8M180.12 61.03h0.8M176.36 43.34h0.8M180.42 43.59h0.8M183.72 51.08h0.8M177.78 47.59h0.8M180.68 54.03h0.8M177.77 48.27h0.8M177.73 48.98h0.8M181.9 51.73h0.8M178.08 48.4h0.8M182.19 43.25h0.8M179.94 51.45h0.8M176.73 43.73h0.8M176.5 53.57h0.8M179.67 64.52h0.8M178.05 65.42h0.8M183.41 50.67h0.8M181.07 52.24h0.8M176.88 49.63h0.8M180.91 50.44h0.8M179.54 53.39h0.8M179.07 49.49h0.8M179.81 51.65h0.8M179.77 53.07h0.8M175.92 50.07h0.8M177.14 54.07h0.8M180.89 51.77h0.8M176.7 42.17h0.8M178.72 42.32h0.8M176.13 52.17h0.8M179.23 57.72h0.8M181.16 56.3h0.8M181.37 53.95h0.8M177.4 47.11h0.8M178.58 62.34h0.8M176.21 46.91h0.8M180.65 49.92h0.8M177.2 59.57h0.8M182.27 54.62h0.8M175.74 53.3h0.8M180.45 51.94h0.8M175.39 53.26h0.8M175.72 48.75h0.8M178.07 58.42h0.8M181.11 44.36h0.8M175.05 46.96h0.8M180.94 54.79h0.8M179.42 49.42h0.8M183.03 50.46h0.8M177.22 47.13h0.8M176.15 45.84h0.8M179.66 47.55h0.8M181.05 50.84h0.8M179.12 52.63h0.8M181.39 45.86h0.8M177.5 53.12h0.8M179.94 52.11h0.8M177.05 44.91h0.8M183.24 44.84h0.8M180.14 63.21h0.8M184.04 51.23h0.8M176.1 54.82h0.8M181.36 57.28h0.8M182.34 48.79h0.8M182.49 50.95h0.8M181.29 48.55h0.8M179.04 44.17h0.8M180.43 57.56h0.8M178.79 55.88h0.8M180.86 47.5h0.8M181.96 55.87h0.8M179 43.29h0.8M180.99 52.82h0.8M179.32 61.55h0.8M179.56 47.94h0.8M181.36 55.73h0.8M177.05 49.54h0.8M179.58 61.95h0.8M180.45 48.65h0.8M179.2 55.72h0.8M175.23 47.48h0.8M182.19 57.06h0.8M179.69 56.35h0.8M181.1 55.65h0.8M179.02 51.16h0.8M177.92 50.32h0.8M182.65 49.99h0.8M178.27 48.73h0.8M183.38 47.71h0.8M182.43 47.25h0.8M183.06 52.28h0.8M182.84 42.52h0.8M179.99 52.6h0.8M181.53 43.61h0.8M177.93 63.57h0.8M178.04 48.56h0.8M175.18 46.48h0.8M178.37 52.16h0.8M180.79 51.1h0.8M176.98 56.48h0.8M180.81 56.55h0.8M176.32 47.66h0.8M178.26 47.1h0.8M181.49 45.22h0.8M183.74 45.64h0.8M176.91 48.46h0.8M179.06 51.8h0.8M183.68 52.13h0.8M180.6 50.55h0.8M183.14 49.83h0.8M178.66 46.78h0.8M181.46 55.58h0.8M178.59 43.2h0.8M182.67 54.32h0.8M177.76 47.47h0.8M177.16 46.35h0.8M179.74 51.84h0.8M183.6 51.65h0.8M177.91 44.4h0.8M182.13 48.21h0.8M180.54 50.16h0.8M183.89 47.98h0.8M181.53 54.29h0.8M176.95 45.75h0.8M179.85 54.44h0.8M177.36 42.66h0.8M177.39 43.95h0.8M175 49.21h0.8M181 51.85h0.8M178.41 45.14h0.8M176.39 49.81h0.8M178.01 61.04h0.8M179.86 59.86h0.8M176.77 44.36h0.8M177.88 55.23h0.8M183.39 49.85h0.8M181.96 50.13h0.8M182.6 52.73h0.8M176.92 53.67h0.8M176.31 56.76h0.8M182.42 54.32h0.8M177.84 44.24h0.8M181.24 53.94h0.8M179.53 44.02h0.8M175.82 54.19h0.8M179.02 62.85h0.8M178.25 49.4h0.8M180.54 48.68h0.8M181.1 51.01h0.8M177.98 55.19h0.8M178.24 62.05h0.8M181.1 42.88h0.8M180.04 49.14h0.8M179.48 48.34h0.8M177.36 42.68h0.8M177.63 47.42h0.8M177.44 56.58h0.8" stroke="#000" stroke-width="0.8" fill="none"/>
<path d="M176.38 57.82h0.65M176.13 52.43h0.65M179.41 57.61h0.65M185.57 53.8h0.65M179.19 49.08h0.65M181.83 51h0.65M176.47 48.23h0.65M179.04 63.34h0.65M175.08 52.76h0.65M183.39 52.12h0.65M177.74 53.23h0.65M184.58 47.82h0.65M176.6 49.05h0.65M180.43 60.53h0.65M180.19 50.84h0.65M185.08 53.82h0.65M172.28 56.89h0.65M177.99 55.53h0.65M178.5 57.77h0.65M182.04 43.81h0.65M177.13 48.97h0.65M179.17 48.9h0.65M180.21 52.21h0.65M177 56.77h0.65M175.41 41.71h0.65M179.64 47.94h0.65M178.46 56.61h0.65M179.31 42.54h0.65M176.5 42.19h0.65M176.87 51.73h0.65M176.09 43.65h0.65M180.26 49.81h0.65M184.03 44.82h0.65M171.92 57.85h0.65M174.23 45.72h0.65M179.02 39.58h0.65M177.44 54.8h0.65M176.49 50.82h0.65M173.4 45.99h0.65M175.98 52.17h0.65M182.01 48.43h0.65M181.57 55.91h0.65M179.18 47.26h0.65M177.86 43.71h0.65M178.81 54.14h0.65M179.42 54.69h0.65M178.47 60.6h0.65M174.29 46.17h0.65M179.9 56.41h0.65M183.89 54.95h0.65M177.27 51.25h0.65M179.81 50.7h0.65M177.33 50.54h0.65M175.16 49.38h0.65M180.68 45.84h0.65M176.79 45.22h0.65M176.31 46.88h0.65M181.16 45.46h0.65M177.38 46.62h0.65M179.92 55.81h0.65M180.12 45.62h0.65M181.52 46.89h0.65M178.38 47.92h0.65M176.85 47.71h0.65M179.71 48.15h0.65M172.08 52.55h0.65M177.17 54.95h0.65M177.93 50.83h0.65M181.82 44.93h0.65M183.3 51.96h0.65M179.3 57.68h0.65M178.13 44.34h0.65M183.13 55.91h0.65M173.99 54.9h0.65M177.17 41.08h0.65M183.83 44.16h0.65M181.96 44.27h0.65M181.49 43.7h0.65M178.62 51.64h0.65M182.11 48.07h0.65M178.64 55.41h0.65M172.91 53.74h0.65M182.3 46.27h0.65M176.38 57.37h0.65M171.34 52.88h0.65M178.83 52.15h0.65M179.84 50.6h0.65M176.57 44h0.65M179.8 53.33h0.65M184.18 47.24h0.65M182.76 53.3h0.65M175.61 45.16h0.65M180.04 57.84h0.65M177.04 44.72h0.65M179.33 43.12h0.65M178.67 49.88h0.65M175.73 42.67h0.65M176.08 46.78h0.65M177.68 59.3h0.65M174.59 56.87h0.65M179.69 48.98h0.65M184.35 43.04h0.65M175.84 50.5h0.65M177.84 59.01h0.65M176.45 43.58h0.65M175.97 42.33h0.65M178.63 54.61h0.65M181.88 51.14h0.65M171.33 49.38h0.65M176.31 57.44h0.65M177.93 41.86h0.65M182.45 44.98h0.65M183.25 60.75h0.65M180.04 42.1h0.65M179.96 44.93h0.65M177.39 61.53h0.65M181.57 45.37h0.65M176.99 44.61h0.65M181.19 56.5h0.65M176.78 48.45h0.65M179.08 58.55h0.65M180.33 58.87h0.65M176.53 57.81h0.65M180.05 52.46h0.65M176.21 56.07h0.65M177.15 57.93h0.65M176.03 54.4h0.65M181.2 46.15h0.65M176.83 56.11h0.65M180.7 54.71h0.65M182.37 49.91h0.65M180.48 42.99h0.65M177.37 51.56h0.65M176.92 59.11h0.65M173.24 46.7h0.65M180.96 57.26h0.65M178.24 43.89h0.65M178.83 44.65h0.65M177.38 63.54h0.65M179.27 56.48h0.65M178.74 60.86h0.65M179.26 44.32h0.65M177.86 40.29h0.65M178.51 46.97h0.65M174.04 50.69h0.65M183.37 45h0.65M177.38 47.74h0.65M176.28 45.46h0.65M178.13 42.56h0.65M175.47 49.48h0.65M181.43 50.7h0.65M181.43 51.8h0.65M173.78 50.38h0.65M177.31 56.49h0.65M179.76 41.8h0.65M181.04 46.28h0.65M178.93 58.7h0.65M183.16 60.24h0.65M177.13 53.57h0.65M182.71 49.41h0.65M174.12 49.13h0.65M177 48.18h0.65M179.92 55.16h0.65M179.03 48.69h0.65M180.28 48.46h0.65M180.62 63.42h0.65M179.52 57.73h0.65M183.21 45.15h0.65M177.25 58.85h0.65M182.31 45.62h0.65M174.64 61.98h0.65M178.24 44.92h0.65M179.03 45.13h0.65M177.61 59.15h0.65M178.08 53.94h0.65M179.02 53.57h0.65M180.08 59.85h0.65M180.84 44.92h0.65M183.53 50.19h0.65M180.33 49.41h0.65M175.44 52.74h0.65M179.79 50.85h0.65M179.31 54.87h0.65M178.84 49.54h0.65M179.53 52.52h0.65M176.41 47.08h0.65M179.29 47.83h0.65M181.84 55.22h0.65M184.27 49.55h0.65M176.9 40.74h0.65M181.48 59.46h0.65M184.28 48.82h0.65M178.55 48.55h0.65M182.35 54.38h0.65M176.7 54.38h0.65M183.62 47.18h0.65M181.53 45.08h0.65M175.65 41.18h0.65M182.32 47.03h0.65M183.47 46.76h0.65M178.8 39.81h0.65M178.95 52.77h0.65M181.01 49.53h0.65M179.26 54.63h0.65M175.67 55.33h0.65M180.71 58.69h0.65M179.48 65.33h0.65M179.91 46.09h0.65M180.35 46.42h0.65M179.82 55.07h0.65M172.78 54.5h0.65M182.53 51.96h0.65M180.6 50.83h0.65M176.19 51.71h0.65M176.9 62.53h0.65M178.93 44.34h0.65M182.03 49.03h0.65M183.2 49.3h0.65M178.18 50.03h0.65M181.12 50.62h0.65M180.03 63.18h0.65M178.1 62.52h0.65M180.9 57.22h0.65M183.08 49.67h0.65M179.69 56.46h0.65M181.27 43.4h0.65M176.12 43.41h0.65M183.48 55.27h0.65M179.69 44.29h0.65M182.54 46.34h0.65M178.84 58.92h0.65M178.7 56.07h0.65M177.41 47.09h0.65M181.15 44.5h0.65M180.52 59.31h0.65M178.76 48.15h0.65M181.11 46.17h0.65M182.43 49.49h0.65M178.58 41.87h0.65M181.71 56.81h0.65M178.65 45.03h0.65M177.59 54.63h0.65M182.76 64.26h0.65M181.18 56.73h0.65M181.25 57.73h0.65M176.82 62.02h0.65M179.88 57.44h0.65M180.88 61.32h0.65M177.98 55.43h0.65M182.65 47.71h0.65M175.53 51.02h0.65M180.41 44.97h0.65M173.8 60.9h0.65M177.89 55.39h0.65M177.88 58.02h0.65" stroke="#222" stroke-width="0.65" fill="none"/>
<path d="M178.2 64.3h0.6M179.15 64.37h0.6M179.68 67.34h0.6M178.55 67.36h0.6M177.7 64.38h0.6M178.95 64.87h0.6M178.91 63.91h0.6M179.28 68.66h0.6M179.97 62.12h0.6M179.1 62.79h0.6M178.79 66.89h0.6M179.47 66.88h0.6M178.49 68.25h0.6M176.9 63.44h0.6M179.68 64.65h0.6M179.07 65.78h0.6M179.06 62.83h0.6M179.31 62.19h0.6M178.39 68.53h0.6M179.51 65.76h0.6M180.32 63.12h0.6M180.51 64.51h0.6M179.78 66.77h0.6M178.7 64.94h0.6M178.24 62.26h0.6M178.93 63.16h0.6M177.84 62.28h0.6M178.85 62.72h0.6M179.02 62.05h0.6M180.26 63.95h0.6M180.41 62.26h0.6M179.22 66.41h0.6M178.25 64.63h0.6M178.34 68.91h0.6M178.4 68.73h0.6M179.74 62.81h0.6M178.79 63.76h0.6M177.92 63.11h0.6M177.48 65.86h0.6M180.44 62.46h0.6" stroke="#333" stroke-width="0.6" fill="none"/>
<path d="M144.79 46.4h0.7M152.21 46.44h0.7M150.57 48.54h0.7M149.27 43.06h0.7M147.71 45.93h0.7M147.64 46.85h0.7M146.84 45.27h0.7M145.13 47.38h0.7M149.25 44.27h0.7M150.09 48.41h0.7M152.88 47.63h0.7M150.9 42.78h0.7M153.72 48.15h0.7M156.3 44.22h0.7M149.31 45.71h0.7M149.61 47.41h0.7M151.5 49.32h0.7M145.87 46.77h0.7M150.32 47.19h0.7M149.07 47.57h0.7M150.44 47.48h0.7M151.18 47.35h0.7M152.93 42.49h0.7M151.61 47.7h0.7M148.38 44.06h0.7M150.27 50.65h0.7M151.3 46.95h0.7M153.12 46.18h0.7M150.56 44.81h0.7M148.75 46.9h0.7M147.82 45.66h0.7M149.88 43.89h0.7M150.8 49.2h0.7M146.99 51.13h0.7M149.05 44.25h0.7M152.78 46.09h0.7M146.73 44.2h0.7M145.47 46.34h0.7M147.63 46.79h0.7M147.91 46.25h0.7M152.61 46.45h0.7M152.34 46.69h0.7M150.25 44.17h0.7M146.75 49.25h0.7M146.94 45.22h0.7M147.65 47.28h0.7M146.24 42.59h0.7M149.07 46.24h0.7M149.48 45.64h0.7M147.83 48.59h0.7M147.18 48.72h0.7M149.36 54.34h0.7M148.04 44.59h0.7M151 42.06h0.7M151.94 49.33h0.7M152.74 46.08h0.7M149.1 43.96h0.7M150.5 47.76h0.7M148.15 44.56h0.7M148.88 48.67h0.7M152.36 42.19h0.7M150.57 44.81h0.7M151.27 48.57h0.7M148.76 46.67h0.7M148.29 47.81h0.7M148.13 46.78h0.7M149.67 44.83h0.7M149.34 50.1h0.7M151.81 47.05h0.7M150.85 43.61h0.7M149.29 45.39h0.7M153.55 50.14h0.7M147.8 51.37h0.7M151.29 44.43h0.7M143.38 47.2h0.7M151.65 49.59h0.7M155.48 49.03h0.7M149.52 49.48h0.7M149.59 42.76h0.7M149.64 45.28h0.7M148.62 47.25h0.7M150.17 46.33h0.7M153.47 47.92h0.7M148.27 44.82h0.7M150.34 52.56h0.7M146.28 47.67h0.7M153.19 49.43h0.7M145.3 48.96h0.7M149.24 45.57h0.7M152.86 47.18h0.7M145.36 48.75h0.7M150.23 46.44h0.7M150.77 48.37h0.7M149.18 50.96h0.7M149.5 45.43h0.7M147.78 46.02h0.7M149.96 46.97h0.7M149.06 43.27h0.7M152.79 45.33h0.7M149.48 47.48h0.7M152.37 46.33h0.7M148.08 42.79h0.7M146.28 48.73h0.7M148.22 42.71h0.7M149.9 44.56h0.7M152.25 44.18h0.7M147.66 47.19h0.7M148.21 47.67h0.7M148.03 47.6h0.7M151.68 50.13h0.7M150.27 45.07h0.7M145.7 45.7h0.7M150.07 46.26h0.7M152.37 44.56h0.7M146.79 51.69h0.7M148.98 44.66h0.7M147.3 47.53h0.7M152.29 45.68h0.7M149.7 44.63h0.7M149.62 43.87h0.7M152.68 45.47h0.7M148.28 46.54h0.7M152.74 45.82h0.7M149.05 48.55h0.7M149.53 43.52h0.7M150.01 49.26h0.7M150.36 43.62h0.7M149.66 46.11h0.7M147.46 46.26h0.7M151.68 44.76h0.7M147.12 47.68h0.7M151.69 42.93h0.7M149.95 47.88h0.7M153.95 45.6h0.7M148.83 43.5h0.7M150.68 47.92h0.7M146.18 47.88h0.7M152.55 48.36h0.7M151.97 45.56h0.7M149.58 45.96h0.7M149.13 46.57h0.7M152.67 46.84h0.7M151.19 49.69h0.7M146.59 47.88h0.7M150.76 46.18h0.7M148.47 46.81h0.7M151.73 44.68h0.7M142.78 48.04h0.7M151.11 53.08h0.7M152.42 47.03h0.7M153.8 47.92h0.7M151.85 45.71h0.7M145.28 48.45h0.7M148.69 51.53h0.7M149.51 43.84h0.7M147.2 49.06h0.7M148.62 46.26h0.7M143.27 46.24h0.7M147.21 49.84h0.7M149.7 48.22h0.7M149.44 42.76h0.7M149.25 44.55h0.7M149.29 45.24h0.7M150.14 46.35h0.7M147.15 47.93h0.7M154.67 49.62h0.7M154.74 47.21h0.7M152.88 49.67h0.7M152.63 45.69h0.7M146.06 42.39h0.7M153.85 48.06h0.7M147.02 47.47h0.7M150.11 43.68h0.7M146.22 47.37h0.7M149.01 46.19h0.7M144.02 45.38h0.7M149.52 44.31h0.7M153.22 50.86h0.7M147.28 45.83h0.7M148.34 47.48h0.7M151.41 46.84h0.7M152.08 47.44h0.7M146.29 50.97h0.7M144.67 50.18h0.7M152.43 44.87h0.7M148.03 44.6h0.7M147.61 47.15h0.7M149.94 45.89h0.7M148.16 46.05h0.7M147.09 45.15h0.7M157.49 47.98h0.7M145.85 45.86h0.7M152.54 51.12h0.7M148.13 45.9h0.7M150.28 46.06h0.7M149.97 44.25h0.7M147.59 41.87h0.7M148.5 44.33h0.7M148.75 46.26h0.7M152.56 46.81h0.7M148.62 52.45h0.7M148.79 47.45h0.7M148.19 46.92h0.7M150.28 45.66h0.7M149.97 49.81h0.7M148.89 46.44h0.7M147.4 43.89h0.7M151.92 46.8h0.7M147.36 46.75h0.7M151.84 46.32h0.7M152.17 46.53h0.7M150.26 43.44h0.7M145.43 44.25h0.7M150.92 46.62h0.7M152.5 47.71h0.7M143.62 46.82h0.7M151.91 48.26h0.7M148.48 45.7h0.7M149.66 46.63h0.7M151.76 44.06h0.7M151.18 50.69h0.7M141.17 47h0.7M150.87 47.72h0.7M150.18 47.99h0.7M149.99 44.76h0.7M149.76 46.42h0.7M150.27 48.57h0.7M147.31 45.8h0.7M153.07 42.71h0.7M152.23 45.99h0.7M149.85 47.43h0.7M149.78 47.75h0.7M148.42 50.35h0.7M149.4 46.1h0.7M153.35 47.43h0.7M143.88 45.03h0.7M151.29 47.61h0.7M149.56 46.4h0.7M147.27 48.1h0.7M145.82 44.56h0.7" stroke="#111" stroke-width="0.7" fill="none"/>
<path d="M158.36 46.91h0.6M152.13 43.92h0.6M144.45 41.11h0.6M157.1 50.68h0.6M155.51 51.32h0.6M167.33 43.83h0.6M159.81 40.86h0.6M160.27 52.84h0.6M152.8 46.63h0.6M146 48.46h0.6M169.78 46.98h0.6M170.07 43.64h0.6M160.61 41.29h0.6M164.63 45.75h0.6M145.29 46.29h0.6M164.55 46.02h0.6M159.21 47.97h0.6M150.68 47.03h0.6M160.93 53.61h0.6M164.7 48.81h0.6M156.09 44.57h0.6M155.53 44.24h0.6M168.65 51.57h0.6M151.64 47h0.6M143.23 45.47h0.6M162.87 47.94h0.6M171.85 44.85h0.6M163.85 45.31h0.6M167.47 52.07h0.6M147.07 50.22h0.6M150.95 45.81h0.6M153.95 43.89h0.6M151.54 46.84h0.6M144.74 44.25h0.6M163.16 44h0.6M154.5 47.85h0.6M146.75 47.06h0.6M143.53 44.06h0.6M149.6 46.28h0.6M158.24 48.31h0.6M170.91 47.52h0.6M168.68 51.47h0.6M157.74 49.35h0.6M158.61 49.81h0.6M170.29 43.88h0.6M162.77 48.79h0.6M166.85 46.74h0.6M152.27 52.17h0.6M171.02 44.96h0.6M164.9 44.67h0.6M165.69 49.81h0.6M144.68 43.73h0.6M163.82 46.55h0.6M152.92 43.65h0.6M154.07 44.47h0.6M162.77 49.87h0.6M158.26 45.86h0.6M157.03 48.76h0.6M151.3 45.48h0.6M154.38 46.5h0.6M171.38 46.08h0.6M157.59 47.12h0.6M143.79 44.43h0.6M154.18 46.32h0.6M171.42 46.93h0.6M160.03 46.8h0.6M150.15 47.68h0.6M152.78 46.41h0.6M157.07 46h0.6M150.85 43.29h0.6M158.02 45.69h0.6M164.75 46.6h0.6M162.04 46.63h0.6M157.03 47.9h0.6M153.2 40.46h0.6M167.65 48.05h0.6M143.16 51.81h0.6M166.92 44.38h0.6M157.43 48.6h0.6M153.8 48.08h0.6M161.19 52.07h0.6M144.58 46.61h0.6M151.2 54.39h0.6M151.51 44.94h0.6M170.48 46.13h0.6M171.5 48.97h0.6M147.96 49.05h0.6M155.9 46.55h0.6M168.68 51.89h0.6M145.07 48.94h0.6M151.99 47.74h0.6M146.88 44.91h0.6M164.09 48.68h0.6M171.04 50.6h0.6M161.65 47.06h0.6M146.83 42.72h0.6M168.67 43.52h0.6M147.06 50.75h0.6M163.22 53.09h0.6M165.11 51.3h0.6M143.66 49.21h0.6M164.37 48.23h0.6M143.08 44.96h0.6M164.26 51.68h0.6M153.61 47.46h0.6M152.54 50.49h0.6M153.59 40.19h0.6M149.41 50.67h0.6M155.83 47.43h0.6M152.01 46.16h0.6M156.61 39.07h0.6M167.8 44.95h0.6M166.26 49.34h0.6M171.15 47.65h0.6M166.99 42.82h0.6M169.66 51.04h0.6M154.24 46.43h0.6M143.2 44.73h0.6M143.01 47.03h0.6M171.8 45.04h0.6M143.46 54.01h0.6M153.44 48.44h0.6M162.51 43.11h0.6M157.16 52.25h0.6M165.07 50.57h0.6M156.86 42.49h0.6M157.34 45.44h0.6M156.79 42.63h0.6M164.33 47.97h0.6M152.71 47.98h0.6M162.54 44.63h0.6M153.94 53.24h0.6M165.55 43.29h0.6M154.05 45.6h0.6M160.54 50.07h0.6M143.98 40.89h0.6M144.86 45.56h0.6M168.85 38.12h0.6M163.97 42.92h0.6M163.85 47.56h0.6M146.42 44.36h0.6M167.79 50.94h0.6M149.31 44.16h0.6M157.48 44.66h0.6M157.2 47.24h0.6M156.27 51.68h0.6M171.31 46.99h0.6M169.34 49.77h0.6M154.05 52.13h0.6M160.32 42.96h0.6" stroke="#333" stroke-width="0.6" fill="none"/>
<path d="M151.72 53.43h0.55M162.66 57.35h0.55M157.31 57.93h0.55M161.66 54.68h0.55M143.14 49.12h0.55M168.97 58.97h0.55M167.08 50.57h0.55M168.82 64.59h0.55M154.32 62.58h0.55M164.07 52.27h0.55M155.18 54.79h0.55M153.63 52.95h0.55M167.59 55.04h0.55M144.76 61.35h0.55M159.22 49.83h0.55M161.62 52.65h0.55M168.35 60.33h0.55M154.08 53.92h0.55M150.27 49.02h0.55M167.71 53.78h0.55M161.57 54.94h0.55M148.37 55.58h0.55M159.68 49.15h0.55M148.35 55h0.55M150.61 50.61h0.55M164.46 56.39h0.55M164.74 57.85h0.55M153.89 62.2h0.55M158.99 51.66h0.55M159.82 52.48h0.55M169.31 57.11h0.55M143.25 58.5h0.55M154.81 50.9h0.55M169.31 56.47h0.55M143.28 54.76h0.55M161.08 56.79h0.55M167.08 53.79h0.55M146.82 52.37h0.55M150.29 54.01h0.55M144.08 53.33h0.55M158.34 52.43h0.55M170.26 51.72h0.55M153.82 54.1h0.55M161.56 55.32h0.55M147.36 57.28h0.55M144.27 58.85h0.55M146.88 54.39h0.55M144.39 50.26h0.55M169.84 51.25h0.55M163.03 52.83h0.55M144.62 55.08h0.55M145.54 57.57h0.55M169.38 60.51h0.55M164.84 55.03h0.55M157.82 56.05h0.55M162.02 56.05h0.55M167.27 49.15h0.55M151.73 57.76h0.55M170.96 54.89h0.55M152.99 55.48h0.55" stroke="#555" stroke-width="0.55" fill="none"/>
<path d="M239.99 43.5C240.8 43.53 241.85 43.94 242.43 44.67C243 45.4 243.36 46.72 243.46 47.86C243.55 49 243.25 50.24 243 51.52C242.75 52.81 242.37 54.23 241.96 55.56C241.55 56.89 240.88 58.51 240.55 59.5C240.23 60.49 240.24 61.67 239.99 61.5C239.74 61.33 239.47 59.65 239.06 58.5C238.64 57.35 237.97 55.77 237.51 54.61C237.05 53.44 236.55 52.81 236.3 51.52C236.05 50.24 235.8 48.07 236.01 46.89C236.22 45.72 236.89 45.04 237.55 44.48C238.21 43.91 239.18 43.47 239.99 43.5Z" fill="#000"/>
<path d="M237.88 50h0.8M239.11 47.5h0.8M236.27 52.66h0.8M242.04 47.56h0.8M239.56 51.98h0.8M239.72 47.37h0.8M239.12 44.11h0.8M240.73 48.22h0.8M242.37 52.19h0.8M240.36 57.66h0.8M241.34 52.15h0.8M237.67 52.47h0.8M241.69 47.13h0.8M240.33 44.09h0.8M239.41 56.76h0.8M237.47 46.11h0.8M236.92 52.43h0.8M238.13 45.54h0.8M239.14 46.07h0.8M238.52 45.09h0.8M240.78 55.58h0.8M242.5 49.93h0.8M238.73 48.58h0.8M238.41 50.96h0.8M239.06 44.99h0.8M243.71 49.87h0.8M240.91 49h0.8M238.14 55.8h0.8M240.62 47.21h0.8M240.22 45.85h0.8M238.58 45.89h0.8M241.41 55.08h0.8M241 54.92h0.8M236.37 46.14h0.8M242.5 47.65h0.8M243.09 49.89h0.8M239.51 61.44h0.8M239.26 44.48h0.8M239.64 51.1h0.8M240.31 49.45h0.8M240.44 47.06h0.8M238.41 59.39h0.8M236.21 50h0.8M236.58 52.24h0.8M241.45 46.43h0.8M239.93 45.45h0.8M240.82 47.12h0.8M241.14 51.59h0.8M242.29 51.48h0.8M238.26 49.78h0.8M240.19 55.62h0.8M240.96 46.04h0.8M238.89 53.19h0.8M238.3 50.04h0.8M239.9 45.17h0.8M237.7 47.98h0.8M237.85 53.2h0.8M240.19 49.24h0.8M237.94 46.34h0.8M239.07 57.45h0.8M238.6 50.61h0.8M236.93 53.15h0.8M238.53 43.43h0.8M238.52 56.79h0.8M236.33 49.86h0.8M242.39 45.35h0.8M237.67 48h0.8M240.79 53.57h0.8M239.43 55.29h0.8M242.94 46.8h0.8M239.23 48.32h0.8M240.54 45.08h0.8M237.96 49.76h0.8M238.71 49.35h0.8M239.19 56.71h0.8M238.6 53.85h0.8M240.9 50.67h0.8M241.44 49.8h0.8M237.3 45.05h0.8M241.9 56.57h0.8M241.56 54.1h0.8M238.34 56.63h0.8M241.42 45.05h0.8M240.67 49.08h0.8M241.93 56.97h0.8M239.26 52.01h0.8M241.68 52.76h0.8M239.08 61.94h0.8M239.99 44.76h0.8M240.03 47.77h0.8M238.72 46.07h0.8M235.91 47.38h0.8M240.35 60.53h0.8M241.23 47.65h0.8M240.21 43.89h0.8M240.3 50.4h0.8M240.67 56.42h0.8M242.88 47.56h0.8M240 49.6h0.8M239.89 50.92h0.8M239.85 56.15h0.8M241.05 48.03h0.8M239.69 55.52h0.8M241.85 54.76h0.8M241.11 50.53h0.8M241.13 51.96h0.8M240.57 51.1h0.8M240.44 51.94h0.8M238.85 47.48h0.8M238.64 46.96h0.8M239.61 51.78h0.8M236.43 48.35h0.8M236.87 49.31h0.8M242.39 48.41h0.8M239.03 58.15h0.8M238.44 57.64h0.8M239.56 52.41h0.8M242.73 44.75h0.8M239.95 50.59h0.8M240.04 58.02h0.8M240.11 55.86h0.8M238.77 57.28h0.8M238.36 45.27h0.8M238.99 46.91h0.8M239.93 46.85h0.8M240.37 60.73h0.8M241.19 52.57h0.8M241.5 54.89h0.8M238.16 47.2h0.8M238.89 45.45h0.8M238.93 57.65h0.8M239.54 48.87h0.8M240.94 47.73h0.8M239.74 55.04h0.8M237.41 51.4h0.8M241.9 49.56h0.8M237.67 51.45h0.8M240.46 51.93h0.8M237.86 52.82h0.8M240.16 51.54h0.8M240.6 53.58h0.8M236.42 49.99h0.8M241.85 51.81h0.8M241.49 44.83h0.8M238.41 48.53h0.8M239.96 57.68h0.8M239.77 55.89h0.8M240.21 43.81h0.8M237.43 54.25h0.8M242.08 52.95h0.8M240.77 56.96h0.8M237.98 53.9h0.8M242.14 49.77h0.8M240.33 55.24h0.8M241.17 59.85h0.8M241.02 53.75h0.8M242.45 56.12h0.8M244.65 53.4h0.8M237.54 46.97h0.8M237.94 47.75h0.8M240.42 50.7h0.8M239.02 48.79h0.8M238.88 49.46h0.8M239.76 44.76h0.8M243.61 48.02h0.8M240.98 52.53h0.8M238.5 54.09h0.8M241.98 47.2h0.8M238.08 51.77h0.8M241.58 49.52h0.8M237.72 46.5h0.8M236.38 48.14h0.8M242.98 50.79h0.8M237.18 51.43h0.8M239.43 53.54h0.8M241.28 46.94h0.8M237.69 45.29h0.8M239.91 48.41h0.8M244.01 49.38h0.8M239.21 53.61h0.8M240.99 44.84h0.8M237.63 52.47h0.8M241.19 46.76h0.8M239.2 57.65h0.8M236.96 51.85h0.8M241.77 50.97h0.8M240.13 57.43h0.8M241.56 47.51h0.8M236.26 52.95h0.8M240.53 54.78h0.8M238.4 49.43h0.8M239.06 55.41h0.8M242.55 47.95h0.8M241.69 55.73h0.8M240.72 48.55h0.8M236.33 46.27h0.8M243.43 51.35h0.8M242.4 46.37h0.8M241.08 59.29h0.8M237.58 48.84h0.8M239.85 49.3h0.8M243.18 49.27h0.8M237.83 45.66h0.8M237.96 53.57h0.8M243.01 50.23h0.8M240.12 43.88h0.8M239.45 54.14h0.8M239.93 51.05h0.8M237.26 49.45h0.8M239.85 58.13h0.8M241.11 48.89h0.8M240.11 54.78h0.8M239.4 48.44h0.8M237.83 48.37h0.8M240.61 52.63h0.8M242.61 52.23h0.8M237.34 47.84h0.8M236.63 50.66h0.8M241.48 51.08h0.8M238.22 49.63h0.8M237.35 48.24h0.8M238.97 50.75h0.8M242.1 49.68h0.8M237.01 49.08h0.8M238.36 45.28h0.8M240.78 43.19h0.8M239.07 54.38h0.8M238.14 49.01h0.8M239.79 54.64h0.8M241.05 54.92h0.8M242.07 53.32h0.8M239.54 50.66h0.8M239.82 54.69h0.8M241.94 47.02h0.8M239.73 54.82h0.8M241.03 45.12h0.8M239.62 48.89h0.8M242.48 51.08h0.8M241.58 56.13h0.8M242.16 44.89h0.8M240.31 44.75h0.8M239.84 60.01h0.8M235.01 48.43h0.8M237.25 45.44h0.8M237.42 52.25h0.8M240.4 48.79h0.8M242.33 49.74h0.8M242.74 51.45h0.8M240.59 47.9h0.8M238.1 48.23h0.8M242.45 52.54h0.8M238.18 53.25h0.8M238.96 49.63h0.8M241.35 45.62h0.8M242.12 46.63h0.8M236.2 47.83h0.8M238.25 53.11h0.8M241.64 51.5h0.8M237.17 50.08h0.8M242.11 48.85h0.8M241.51 54.48h0.8M238.45 53.58h0.8M240.87 51.68h0.8M242.28 50.37h0.8M242.04 51.01h0.8M239.85 59.46h0.8M242.86 54.93h0.8M240.72 54.89h0.8M240.48 49.4h0.8M239.12 58.12h0.8M241.27 50.2h0.8M238.67 44.77h0.8M241.91 51.34h0.8M237.46 51.78h0.8M239.29 46.08h0.8M240.56 56.99h0.8M237.01 46.35h0.8M241.89 49.02h0.8M238.19 49.94h0.8M238.43 54.25h0.8M238.76 45.38h0.8M239.75 52.11h0.8M240.51 49.84h0.8M242.84 47.77h0.8M239.65 62.67h0.8M237.11 45.6h0.8M240.8 46.59h0.8M239.61 52.88h0.8M238.66 51.65h0.8M238.75 48.97h0.8M240.22 54.01h0.8M239.76 43.25h0.8M240.85 60.91h0.8M240.6 44.29h0.8M241.88 47.56h0.8M241.21 43.22h0.8M239.72 47.24h0.8M242.5 50.34h0.8M236.34 49.93h0.8M237.84 53.58h0.8M239.35 49.17h0.8M242.71 46.82h0.8M239.16 47.45h0.8M238.41 53.03h0.8M238.9 54.14h0.8M240.87 49.01h0.8M236.65 50.56h0.8M242.77 47.98h0.8M240.19 55.11h0.8M241.94 56.27h0.8M240.34 44.26h0.8M239.87 49.25h0.8M242.18 55.94h0.8M238.24 46.84h0.8M242.45 47.5h0.8M243.01 50.39h0.8M242.96 49.06h0.8M238.18 46.75h0.8M236.89 50.9h0.8M237.28 53.29h0.8M237.79 54.49h0.8M236.82 47.8h0.8M241.79 45.31h0.8M239.5 45.55h0.8M240.08 60.58h0.8M241.37 58.97h0.8M242.76 47.12h0.8M241.87 53.55h0.8M239.22 47.48h0.8M237.47 51.14h0.8M238.56 46.47h0.8M241.14 45.24h0.8M236.72 44.65h0.8M239.63 44.91h0.8M242.96 54.83h0.8M237.38 46.96h0.8M237.39 49.65h0.8M243.08 51.01h0.8M236.73 52.5h0.8M241.66 56.59h0.8M240.34 54.75h0.8M236.02 48.03h0.8M237.54 46.39h0.8M239.4 47.59h0.8M241.35 56.06h0.8M241.15 56.07h0.8M239.95 45.37h0.8M242.49 50.65h0.8M237.75 47.45h0.8M240.25 46.63h0.8M239.32 50.82h0.8M241.54 52.54h0.8M241.55 51.81h0.8M238.43 54.42h0.8M242.76 48.1h0.8M238.81 44.96h0.8M238.04 48.07h0.8M241.32 45.98h0.8M240.12 57.26h0.8M241.86 44.56h0.8M240.23 50.74h0.8M236.92 48.24h0.8M241.71 48.91h0.8M240.75 55.27h0.8M238.47 44.98h0.8M240.34 48.36h0.8M241.67 48.3h0.8M240.91 47.58h0.8M240.12 44.3h0.8M237.38 47.87h0.8M239.78 59.26h0.8M236.42 50.24h0.8M242.36 49.16h0.8M240.99 47.56h0.8M242.73 46.26h0.8M242.17 55.36h0.8M236.45 53.12h0.8M240.51 48.33h0.8M238.81 56h0.8M240.06 45.21h0.8M241.1 53.35h0.8M239.39 47.49h0.8M241.69 46.55h0.8M236.23 47.49h0.8M242.48 49.6h0.8M240.9 49.64h0.8M236.59 46.95h0.8M239.56 52.5h0.8M239.5 58.69h0.8M242.74 52.8h0.8M239.63 50.87h0.8M241.06 51.86h0.8M238.5 46.11h0.8M240.64 57.01h0.8M239.39 50.73h0.8M237.69 57.93h0.8M239.79 48.95h0.8M239.87 54.64h0.8M241.6 54.87h0.8M241.18 54.98h0.8M238.12 50.35h0.8M236.95 48.45h0.8M240.75 53.86h0.8M238.11 48.96h0.8M238.82 53.67h0.8M236.48 52.13h0.8M239.22 47.32h0.8M241.56 55.31h0.8M239.3 51.69h0.8M242.71 45.26h0.8M237.41 48.13h0.8M239.9 57.32h0.8M241.74 52.45h0.8M236.83 49.9h0.8M241.69 49.81h0.8M238.44 46.79h0.8M239.67 50.2h0.8M238.61 53.44h0.8M239.97 44.78h0.8M242.64 50.31h0.8M240.94 52.57h0.8M240.95 56.53h0.8M242.03 48.7h0.8M242.36 52.19h0.8M236.75 50.32h0.8M240.07 59.38h0.8M240.68 50.87h0.8M242.04 55.29h0.8M240.41 47.72h0.8M243.98 47.19h0.8M237.97 47.09h0.8M241.21 47.74h0.8M241.79 42.86h0.8M240.78 48.38h0.8M238.85 44.69h0.8M237.9 50.27h0.8M238.11 52.39h0.8M238.54 48.41h0.8M239.05 49.14h0.8M242.88 52.81h0.8M236.7 47.98h0.8M239.13 52.56h0.8M239.67 59.92h0.8M243.09 48.68h0.8M239.16 52.77h0.8M241.5 50.12h0.8M243.38 45.39h0.8M240.18 58.07h0.8M240.4 55.13h0.8M241.37 53.74h0.8M239.05 48.49h0.8M240.69 50.55h0.8M241.05 51.16h0.8M239.52 55.84h0.8M237.93 56.64h0.8M235.91 48.55h0.8M239.17 57.28h0.8M236.6 50.64h0.8M240.76 52.81h0.8M241.01 48.92h0.8M243.04 45.89h0.8M241.54 48.01h0.8M238.01 50.05h0.8M236.2 44.65h0.8M239.69 50.92h0.8M240.73 49.97h0.8M238.26 48.35h0.8M241.73 51.82h0.8M236.85 53.55h0.8M238.71 58.66h0.8M237.77 44.94h0.8M236.18 46.21h0.8M236.36 46.62h0.8M238.88 46.91h0.8M240.51 59.44h0.8M237.26 50.5h0.8M240.78 54.74h0.8M243.32 50.02h0.8M243.37 46.79h0.8M238.35 52.79h0.8" stroke="#000" stroke-width="0.8" fill="none"/>
<path d="M239.17 48.41h0.65M242.36 59.22h0.65M234.65 48.93h0.65M241.29 46.37h0.65M236.07 44.41h0.65M240.71 52.33h0.65M240.29 51.43h0.65M240.33 51.55h0.65M239.2 54.46h0.65M235.77 52.52h0.65M241.65 54.27h0.65M239.6 45.05h0.65M241.36 50.55h0.65M239.16 44.28h0.65M239.19 58.5h0.65M241.14 48.78h0.65M236.69 64.11h0.65M239.92 53.6h0.65M238.6 48.4h0.65M238.72 54.39h0.65M242.81 58.6h0.65M239.95 53.45h0.65M237.97 49.44h0.65M239.3 52.19h0.65M236.26 57.29h0.65M243.23 51.39h0.65M241.35 57.27h0.65M240.28 48.03h0.65M239.62 49.2h0.65M237.66 45.23h0.65M241.72 46.68h0.65M243.35 49.42h0.65M239.66 50.74h0.65M237.2 57.06h0.65M238.88 47.34h0.65M241.64 53.08h0.65M238.17 50.79h0.65M234.99 53.22h0.65M236 45.2h0.65M241.93 44.56h0.65M239.26 45.08h0.65M239.05 44.83h0.65M238.85 51.97h0.65M239.07 42.99h0.65M239.05 56.27h0.65M240.01 53.75h0.65M243.08 49.3h0.65M240.45 55.31h0.65M239.54 47.71h0.65M236.52 43.25h0.65M239.9 47h0.65M240.56 53.8h0.65M239.11 57.09h0.65M239.21 55.3h0.65M239.49 50.99h0.65M240.01 45.47h0.65M235.98 50.77h0.65M241.37 48.22h0.65M234.41 52.33h0.65M240.83 59.47h0.65M241.67 52.24h0.65M241.02 46.12h0.65M238.11 56.89h0.65M239.99 60.37h0.65M243.33 44.74h0.65M242.57 49.47h0.65M239.81 54.3h0.65M242.72 56.18h0.65M242.31 51.59h0.65M237.87 47.38h0.65M238.13 47.55h0.65M240.66 47.34h0.65M240.06 53.19h0.65M239.91 42.83h0.65M240.74 53.76h0.65M240.52 50.52h0.65M240.28 55.42h0.65M242.89 52.87h0.65M239.18 47.3h0.65M239.32 53.03h0.65M242.06 49.8h0.65M238.85 55.67h0.65M239.98 51.24h0.65M236.59 49.9h0.65M237.75 53.26h0.65M242.38 50.82h0.65M235.47 49.93h0.65M238.17 50.29h0.65M242.91 53.99h0.65M245.75 55.46h0.65M240.11 48.79h0.65M241.66 50.55h0.65M235.87 48.32h0.65M239.12 49.31h0.65M239.55 54.23h0.65M240.78 45.95h0.65M238.03 50.96h0.65M238.61 57.78h0.65M242.85 49.94h0.65M240.06 55.06h0.65M238.66 49.6h0.65M240.06 50.41h0.65M240.38 48.02h0.65M245.6 49.37h0.65M243.49 50.05h0.65M243.05 44.9h0.65M240.61 54.08h0.65M241.94 47.59h0.65M243.67 50.2h0.65M240.34 56.84h0.65M237.61 50.93h0.65M240.62 54.71h0.65M239.12 51.04h0.65M244.27 51.16h0.65M234.12 51.73h0.65M237.06 51.71h0.65M238.42 42.36h0.65M242.01 45.6h0.65M240.95 55.5h0.65M241.19 46.17h0.65M240.46 49.64h0.65M241.42 57.41h0.65M238.56 51.95h0.65M238.16 45.81h0.65M235.29 52.16h0.65M241.07 54.86h0.65M236.74 46.29h0.65M243.21 55.45h0.65M241.42 51.04h0.65M239.47 49.17h0.65M239.9 58.26h0.65M244.44 46.06h0.65M242.09 52.97h0.65M240.43 46.22h0.65M242.08 47.87h0.65M239.3 55.17h0.65M239.7 47.69h0.65M235.73 45.99h0.65M239.1 56.25h0.65M243.11 40.08h0.65M236.05 52.19h0.65M241.22 55.27h0.65M240.29 49.37h0.65M243.45 47.16h0.65M239.52 48.59h0.65M236.52 50.12h0.65M238.57 54.35h0.65M236.91 49.84h0.65M238.03 43.58h0.65M237.25 50.15h0.65M241.88 49.96h0.65M241.08 46.14h0.65M243.39 54.86h0.65M239.93 53.97h0.65M241.65 62.08h0.65M241.07 54.16h0.65M244.02 46.03h0.65M242.1 47.99h0.65M245.13 59.13h0.65M237.33 49.47h0.65M239.88 46.08h0.65M234.9 53.3h0.65M243.24 57.89h0.65M239.19 44.33h0.65M240.81 46.39h0.65M239.17 50.54h0.65M240.24 48.54h0.65M239.27 57.79h0.65M241.08 51.38h0.65M242.39 60.28h0.65M237.48 53.73h0.65M237.52 50.41h0.65M240.81 47.04h0.65M234.49 45.44h0.65M238.49 47.92h0.65M240.46 50.71h0.65M237.17 52.19h0.65M244.09 51.89h0.65M238.99 44.86h0.65M240.03 47.83h0.65M237.63 42.52h0.65M242.52 57.56h0.65M237.36 57.55h0.65M236.76 44.74h0.65M237.42 53.02h0.65M237.52 53.37h0.65M238.14 56.82h0.65M238.79 59.09h0.65M239.89 46.81h0.65M242.36 60.44h0.65M244.04 47.33h0.65M240 51.77h0.65M245.22 52.52h0.65M237.41 43.16h0.65M236.46 50.43h0.65M239.99 53.66h0.65M238.55 57.2h0.65M241.99 60.71h0.65M237.34 51.67h0.65M238.97 50.6h0.65M240.71 55.14h0.65M239.65 42.9h0.65M242.74 50.25h0.65M239.13 49.52h0.65M235.29 51.67h0.65M233.28 45.23h0.65M238.84 52.83h0.65M239.59 52.59h0.65M237.16 46.26h0.65M234.87 51.97h0.65M240.15 51.48h0.65M243 50.28h0.65M240.88 54.82h0.65M239.05 53.96h0.65M234.73 47.41h0.65M244.61 55.84h0.65M241.5 54.51h0.65M239.92 50.13h0.65M242.04 45.7h0.65M241.35 51.19h0.65M240.38 49.91h0.65M236.02 45.6h0.65M234.34 45.67h0.65M240.26 49.72h0.65M244.54 39.82h0.65" stroke="#222" stroke-width="0.65" fill="none"/>
<path d="M238.59 63.04h0.6M240.27 67.78h0.6M240.83 60.51h0.6M240.57 59.88h0.6M240.78 61.98h0.6M240.24 65.44h0.6M239.95 64.88h0.6M240.19 63.39h0.6M240.31 66.07h0.6M240.18 59.36h0.6M240.97 65.25h0.6M241.71 67.23h0.6M239.31 65.88h0.6M240.82 61.71h0.6M240.43 59.39h0.6M240.72 59.29h0.6M240.79 59.08h0.6M240.61 60.28h0.6M239.67 62.05h0.6M241.64 65.95h0.6M240.34 62.39h0.6M241.44 59.03h0.6M239.18 59.23h0.6M239.07 67.45h0.6M239.6 59.75h0.6M239.8 59.03h0.6M238.83 59.59h0.6M239.51 59.04h0.6M239.85 60.64h0.6M239.79 66.18h0.6M240.02 64.07h0.6M238.17 64.33h0.6M239.28 61.74h0.6M240.92 63.52h0.6M240.46 60.31h0.6M239.76 61.33h0.6M240.17 63.98h0.6M240.18 59.09h0.6M241.39 59.02h0.6M240.73 60.52h0.6M238.84 60.88h0.6M240.2 59.51h0.6M238.38 59.16h0.6M238.88 61.23h0.6M239.79 59.7h0.6" stroke="#333" stroke-width="0.6" fill="none"/>
<path d="M245.08 39.79h0.55M245.32 37.4h0.55M242.91 39.5h0.55M243.58 44.18h0.55M241.7 45.36h0.55M242.8 41.49h0.55M245.78 40.97h0.55M246.6 42.08h0.55M243.84 40.49h0.55M246.05 42.37h0.55M243.16 40.52h0.55M242.89 42.3h0.55M242.74 44.17h0.55M243.95 41.21h0.55M244.83 45.49h0.55M240.33 43.26h0.55M245.93 42.79h0.55M245.48 39.28h0.55M242.69 44.62h0.55M243.86 42.63h0.55M245.13 43.27h0.55M244.82 41.47h0.55M243.49 45.24h0.55M243.15 39.49h0.55M243.4 44.37h0.55M247.19 42.82h0.55M242.93 43.77h0.55M244.56 44.97h0.55M244.94 44.08h0.55M244.92 43.38h0.55M242.42 42.16h0.55M246.85 45.28h0.55M245.73 43.33h0.55M243.83 43.23h0.55M243.45 44.78h0.55M243.48 40.92h0.55M241.19 45.75h0.55M242.7 40.71h0.55M244.74 46.25h0.55M245.21 41.81h0.55" stroke="#444" stroke-width="0.55" fill="none"/>
<path d="M207.94 49.83h0.6M209.56 48.44h0.6M210.98 48.86h0.6M213.08 49.79h0.6M208.97 50.3h0.6M207.9 49.29h0.6M208.9 47.88h0.6M208.2 50.62h0.6M207.93 46.4h0.6M209.2 46.96h0.6M207.37 48.37h0.6M208.79 47.6h0.6M210.66 49.54h0.6M209.02 51.17h0.6M209.65 49.95h0.6M208.45 47.14h0.6M209.2 52.68h0.6M211.07 51.74h0.6M209.15 51.76h0.6M208.93 50.49h0.6M207.57 47.13h0.6M206.46 49.63h0.6M207.86 49.5h0.6M206.91 49.48h0.6M209.07 50.35h0.6M207.26 46.48h0.6M206.41 48.97h0.6M210.42 49.44h0.6M211.95 47.84h0.6M210.1 51.39h0.6M210.4 49.66h0.6M211.92 48.45h0.6M205.03 48.03h0.6M210.34 48.9h0.6M207.42 50.3h0.6M207.96 51.29h0.6M210.88 49.97h0.6M211.65 49.18h0.6M213.17 48.1h0.6M208.71 49.73h0.6M209.49 53.41h0.6M211.69 46.35h0.6M208.42 51.56h0.6M211.4 47.33h0.6M207.69 48.97h0.6M209.63 48.12h0.6M212.46 50.58h0.6M212.21 47.9h0.6" stroke="#444" stroke-width="0.6" fill="none"/>
<path d="M216.59 49.56h0.55M207.34 48.25h0.55M223.02 49.94h0.55M217.51 51.49h0.55M218.4 52.63h0.55M216.76 47.84h0.55M216.9 49.06h0.55M213.05 49.32h0.55M221.3 52.77h0.55M210.66 48.89h0.55M231.12 50.45h0.55M214.94 48.5h0.55M205.91 50.12h0.55M227.32 48.46h0.55M224.38 50.47h0.55M211.55 47.2h0.55M205.97 49.7h0.55M219.02 49.8h0.55M225.9 51.5h0.55M219.61 51.82h0.55M209.07 50.9h0.55M209.68 52.88h0.55M209.11 50.94h0.55M229.23 55.08h0.55M208.01 47.97h0.55M205.83 49h0.55M211.79 49.74h0.55M230.88 49.65h0.55M212.71 46.9h0.55M208.77 54.39h0.55M208.53 48.12h0.55M213.61 50.33h0.55M220.73 52.17h0.55M206.18 49.3h0.55M215.07 51.41h0.55M206.64 48.13h0.55M211.74 50.3h0.55M213.59 52.02h0.55M223.11 49.87h0.55M208.93 49.35h0.55M227.2 52.75h0.55M209.79 47.27h0.55" stroke="#777" stroke-width="0.55" fill="none"/>
<path d="M223.71 52.9h0.5M223.23 54.66h0.5M227.67 62.12h0.5M217.61 60.71h0.5M230.51 62.72h0.5M222.48 59.39h0.5M214.64 60.2h0.5M208.8 57.5h0.5M207.3 53.1h0.5M223.03 57.11h0.5" stroke="#999" stroke-width="0.5" fill="none"/>
<path d="M115.76 108.08C116.39 107.83 117.91 107.87 119.07 107.9C120.23 107.92 121.84 107.85 122.71 108.22C123.58 108.6 123.97 109.38 124.32 110.16C124.67 110.93 124.84 111.87 124.81 112.88C124.77 113.88 124.47 115.16 124.09 116.19C123.71 117.22 123.22 118.39 122.53 119.06C121.85 119.73 120.83 120.07 119.98 120.2C119.13 120.33 118.1 120.28 117.41 119.84C116.72 119.4 116.16 118.7 115.82 117.57C115.48 116.44 115.49 114.43 115.4 113.07C115.3 111.7 115.18 110.24 115.24 109.4C115.3 108.57 115.12 108.34 115.76 108.08Z" fill="#000"/>
<path d="M117.03 120.33h0.8M120.99 110.12h0.8M124.94 110.85h0.8M124.39 110.3h0.8M116.77 116.75h0.8M119.6 117.15h0.8M123.55 112.14h0.8M118.61 118.3h0.8M119.15 109.47h0.8M122.97 112.34h0.8M118.96 119.18h0.8M119.36 112.3h0.8M116.7 119.06h0.8M120.23 114.69h0.8M122.01 116.72h0.8M124.39 115.5h0.8M116.52 114.16h0.8M117.08 116.33h0.8M117.89 110.76h0.8M121.15 112.03h0.8M117.34 119.84h0.8M121.41 119.73h0.8M118.9 108.37h0.8M120.66 111.75h0.8M117.82 109.97h0.8M117.91 114.67h0.8M118.5 115.46h0.8M119.61 111.54h0.8M123.42 113.67h0.8M119.4 110.28h0.8M119.49 117.36h0.8M116.86 116.03h0.8M121.21 108.98h0.8M119.72 119.87h0.8M120.33 111.85h0.8M119.85 108.39h0.8M114.26 111.2h0.8M122.88 117.57h0.8M123.02 114.31h0.8M121.12 112.73h0.8M119.78 108.07h0.8M123.94 111.75h0.8M118.12 110.07h0.8M123.97 112.42h0.8M115.25 109.65h0.8M116.61 110.01h0.8M119.91 116.23h0.8M121.7 110.26h0.8M124.01 112.71h0.8M115.21 110.13h0.8M116.63 113.5h0.8M120.69 109.37h0.8M120.34 113.05h0.8M121.58 116.8h0.8M116.48 109.75h0.8M115.34 113.79h0.8M115.87 117.46h0.8M115.58 117.48h0.8M119.96 109.4h0.8M116.81 117.82h0.8M118.72 120.45h0.8M119.1 115.58h0.8M118.84 113.54h0.8M117.18 116.79h0.8M124.48 111.29h0.8M120.48 109.83h0.8M117.87 111.3h0.8M121.75 117.37h0.8M117.78 112.36h0.8M121.52 118.25h0.8M123.16 115.75h0.8M124.97 113.22h0.8M121.08 118.67h0.8M120.33 118.99h0.8M115.11 112.43h0.8M120.02 117.77h0.8M120.6 112.3h0.8M116.97 112.05h0.8M120.64 111.56h0.8M122.18 118.53h0.8M117.92 110.37h0.8M116.95 111.78h0.8M117.97 119.16h0.8M119.84 112.93h0.8M123.44 117.65h0.8M120.95 118.27h0.8M116.56 110.08h0.8M116.42 115.29h0.8M119.12 110.85h0.8M118.64 117.42h0.8M116.8 112.26h0.8M117.88 112.89h0.8M119.19 110.24h0.8M123.04 116.64h0.8M116.01 109.65h0.8M116.44 113.5h0.8M121.05 115.7h0.8M117.53 108.81h0.8M120.98 113.11h0.8M115.53 108.01h0.8M122.03 111.34h0.8M119.47 111.49h0.8M124.43 112.18h0.8M117.98 117.63h0.8M120.08 115.2h0.8M125.13 113.34h0.8M122.21 114.2h0.8M117.44 114.1h0.8M119.66 114.8h0.8M116.83 109.61h0.8M123.35 114.71h0.8M116.03 112.4h0.8M115.26 110.47h0.8M116.52 113.71h0.8M118.53 116.83h0.8M115.14 117.21h0.8M121.29 117.63h0.8M122.2 113.47h0.8M124.16 111.83h0.8M115.69 109.86h0.8M119.86 117.6h0.8M117.72 110.74h0.8M117.7 113.68h0.8M120.47 118.57h0.8M121.28 109.97h0.8M118.49 114.83h0.8M117.08 113.66h0.8M117.31 118.16h0.8M117.93 119.95h0.8M121.92 110.23h0.8M117.88 115.65h0.8M116.1 111.18h0.8M118.56 112.98h0.8M120.55 115.67h0.8M117.97 111.38h0.8M124.1 112.24h0.8M117.05 112.12h0.8M120.33 112.44h0.8M124.46 111.76h0.8M121.05 111.17h0.8M121.77 107.81h0.8M116.07 112.05h0.8M116.17 109.79h0.8M122.74 113.5h0.8M118.12 114.61h0.8M122.46 114h0.8M118.78 108.99h0.8M124.64 112.91h0.8M116.19 112.7h0.8M120.63 114.47h0.8M120.6 113.16h0.8M122.83 113.52h0.8M120.97 119.09h0.8M123.93 113.44h0.8M115.24 117.87h0.8M121.94 112h0.8M116.67 109.75h0.8M120.92 107.56h0.8M117.27 119.28h0.8M116.15 110.72h0.8M123.17 116.64h0.8M115.4 111.58h0.8M116.52 113.61h0.8M118.59 109.14h0.8M115.91 119.74h0.8M117.55 114.17h0.8M124.92 112.13h0.8M118.68 118.25h0.8M120.33 117.14h0.8M121.7 109.89h0.8M118.15 117.33h0.8M116.26 115.67h0.8M117.84 112.37h0.8M123.07 119.23h0.8M117.37 112.13h0.8M120.87 111.57h0.8M116.23 118.42h0.8M122.5 110.72h0.8M114.73 112.53h0.8M120.83 118.85h0.8M117.62 109h0.8M119.31 110.09h0.8M119.33 115.03h0.8M123.93 112.8h0.8M121.12 111.8h0.8M122.37 109.04h0.8M118.63 110.01h0.8M117.46 113.03h0.8M120.53 118.63h0.8M119.78 117.67h0.8M121.39 108.12h0.8M116.57 119.62h0.8M117.91 115.13h0.8M118.7 114.78h0.8M116.13 112.06h0.8M117.52 109.64h0.8M123.26 115.21h0.8M117.17 108.42h0.8M120.75 118.26h0.8M117.17 111.94h0.8M115.85 115.58h0.8M118.19 111.36h0.8M117.59 114.78h0.8M117.43 107.99h0.8M118.05 112.65h0.8M121.16 108.17h0.8M120.73 118.98h0.8M116.53 116.3h0.8M117.23 111.86h0.8M116.21 110.38h0.8M120.02 117.66h0.8M124.95 112.78h0.8M124.26 111.74h0.8M118.41 119.28h0.8M117.89 117.9h0.8M120.85 114.64h0.8M121.56 118.32h0.8M122.79 114.27h0.8M122.44 118.04h0.8M117.47 117.57h0.8M120.08 113.84h0.8M125.03 111.64h0.8M120 115.8h0.8M122.89 117.06h0.8M122.09 119.01h0.8M115.99 119.5h0.8M117.64 114.72h0.8M117.36 108.47h0.8M117.02 112.13h0.8M121.04 110.38h0.8M117.8 118.07h0.8M121.58 115.19h0.8M122.3 115.6h0.8M123.36 112.49h0.8M117.56 110.29h0.8M116.01 109.46h0.8M117.18 115.17h0.8M120.76 116.2h0.8M118.49 114.55h0.8M118.42 107.84h0.8M120.49 111.08h0.8M118.33 118.85h0.8M120.03 115.5h0.8M120.58 111.62h0.8M119.62 110.53h0.8M118.07 118.65h0.8M120.77 110.57h0.8M115.1 111.29h0.8M117.46 108.63h0.8M118.82 116.66h0.8M115.09 111.75h0.8M120.74 110.31h0.8M119.1 109.46h0.8M122.47 110.66h0.8M115.79 114.17h0.8M120.73 116.59h0.8M119.18 116.5h0.8M122.08 117.28h0.8M116.7 111.46h0.8M117.8 109.62h0.8M118.97 116.54h0.8M120.96 112.86h0.8M115.87 116.29h0.8M121.47 112.83h0.8M122.96 111.82h0.8M122.69 112.78h0.8M116.59 116.68h0.8M116.84 107.5h0.8M123.55 109.9h0.8M118.02 109.63h0.8M119.61 109.6h0.8M121.33 116.79h0.8M115.86 112.95h0.8M116.53 113.99h0.8M122.71 117.29h0.8M120.06 113.82h0.8M123.11 115.12h0.8M122.32 114.73h0.8M122.33 109.72h0.8M119.27 113.9h0.8M117.67 113.97h0.8M115.58 111.35h0.8M120.61 110.77h0.8M122.07 117.8h0.8M119.06 112.97h0.8M119.49 113.31h0.8M121.32 114.75h0.8M116.9 117.1h0.8M121.14 118.15h0.8M117.26 115.27h0.8M124.23 113.19h0.8M119.45 110.41h0.8M116.56 111.71h0.8M120.31 113.73h0.8M121.84 109.41h0.8M118.65 109.86h0.8M118.58 108.83h0.8M117.11 113.24h0.8M116.1 115.42h0.8M123.23 112.42h0.8M123.46 112.56h0.8M123.57 118.11h0.8M122.45 116.12h0.8M119.17 117.04h0.8M122.89 115.47h0.8M118.66 119.44h0.8M124.07 114.46h0.8M116.73 108.97h0.8M120.78 116.27h0.8M117.23 110.41h0.8M120.36 117.77h0.8M119.18 112.18h0.8M121.69 117.93h0.8M120.69 119.2h0.8M119.43 118.14h0.8M119.2 114h0.8M117.66 109.94h0.8M123.05 116.99h0.8M120.56 114.49h0.8M117.52 111.95h0.8M121.31 116.06h0.8M120.4 115.27h0.8M119.29 113.58h0.8M117.65 115.48h0.8M120.69 114.53h0.8M120.17 110.77h0.8M115.27 110.64h0.8M122.76 117.91h0.8M115.16 116.77h0.8M116.95 113.73h0.8M123.4 112.4h0.8M122.44 113.21h0.8M117.66 113.43h0.8M124.69 112.81h0.8M115.91 111.12h0.8M122.17 108.71h0.8M123.24 111.74h0.8M119.47 110.67h0.8M120.11 115.32h0.8M123.57 113.7h0.8M119.03 120.03h0.8M121.74 117.38h0.8M121.89 109.33h0.8M120.26 117.92h0.8M117.93 109.19h0.8M122.28 116.32h0.8M119.17 116.79h0.8M119.4 118.48h0.8M122.35 116.5h0.8M122.76 114.54h0.8M122.79 118.7h0.8M119.28 119.08h0.8M117.5 108.6h0.8M121.29 114.7h0.8M121.22 114.92h0.8M122.53 113.09h0.8M119.96 118.81h0.8M117.52 111.92h0.8M118.68 109.1h0.8M120.67 107.31h0.8M121.57 117.64h0.8M117.39 110.53h0.8M117.19 115.66h0.8M119.08 110.91h0.8M121.19 116.29h0.8M120.44 110.66h0.8M117.95 108.52h0.8M123.49 111.72h0.8M120.4 111.82h0.8M117.35 108.8h0.8M122.55 113.66h0.8M117.99 113.84h0.8M120.53 118.17h0.8M121.15 111.2h0.8M122.69 110.13h0.8M120.97 109.02h0.8M120.77 118.09h0.8M122.41 114.62h0.8M122.69 112.51h0.8M116.66 115.54h0.8M115.5 114.31h0.8M116.94 118.36h0.8M116.15 114.5h0.8M118.24 111.09h0.8M124.79 112.61h0.8M121.85 119.19h0.8M121.23 113.05h0.8M120.31 114.31h0.8M122.07 111.96h0.8M116.47 113.67h0.8M118.52 112.37h0.8M116.68 119.02h0.8M117.98 119.4h0.8M118.2 112.59h0.8M123.05 115.9h0.8M121.5 110.02h0.8M123.82 111.71h0.8M118.07 116.07h0.8M118.47 108.42h0.8M116.62 115.95h0.8M118.71 114.66h0.8M117.96 109.05h0.8M117.12 115.39h0.8M115.83 108.01h0.8M118.21 114.96h0.8M119.38 109.83h0.8M124.48 111.16h0.8M120.47 108.97h0.8M115.82 108.84h0.8M119.98 110.73h0.8M117.52 115.01h0.8M119.62 109.08h0.8M123.03 117.08h0.8M122.73 116.85h0.8M119.67 111.22h0.8M119.12 118.32h0.8M118.24 112.21h0.8M120.36 111.55h0.8M116.86 109.96h0.8M119.62 109.78h0.8M121.17 113.8h0.8M121.55 116.27h0.8M123.36 111.23h0.8M119.56 119.42h0.8M117.79 110.73h0.8M119.22 115.4h0.8M117.99 114.13h0.8M123.83 114.56h0.8M117.49 112.59h0.8M124.07 116.12h0.8M123.84 116.54h0.8M115.9 111.95h0.8M116.92 109.61h0.8M120.75 118.41h0.8M116.46 111.64h0.8M123.13 109.25h0.8M117.89 108.51h0.8M121.75 112.4h0.8M114.81 114.03h0.8M115.52 110.79h0.8M123.15 116.68h0.8M123.04 115.11h0.8M115.54 114.03h0.8M118.72 118.68h0.8M115.16 113.74h0.8M122.73 111.79h0.8M123.26 110.06h0.8M116.38 117.47h0.8M119.39 119.13h0.8M119.99 107.9h0.8M120.32 110.23h0.8M122.7 117.96h0.8M118.01 113.58h0.8M117.13 114.58h0.8M123.13 113.25h0.8M118.86 108.77h0.8M120.45 108.75h0.8M122.54 110.75h0.8M120.04 113.87h0.8M116.45 110.43h0.8M117.96 112.43h0.8M118.26 107.75h0.8M123.17 112.21h0.8M121.35 116.07h0.8M118.83 113.32h0.8M122.75 111.81h0.8M118.17 116.62h0.8M115.69 109.3h0.8M118.93 113.52h0.8M118.7 119.85h0.8M122.44 117.17h0.8M121.59 111.98h0.8M120.11 117.12h0.8M120.24 118.67h0.8M123.65 110.86h0.8M119.25 108.21h0.8M118.57 114.98h0.8M123.84 112.23h0.8M117.92 117.38h0.8M121.26 112.55h0.8M116.72 109.07h0.8M119.68 109.3h0.8M122.16 114.41h0.8M123.33 114.94h0.8M124.75 113.41h0.8M116.53 109.98h0.8M119.45 114.66h0.8M120.84 116.87h0.8M117.32 113.34h0.8M121.9 111.88h0.8M116.98 118.2h0.8M120.17 114.98h0.8M120.43 113.43h0.8M123.8 111.13h0.8M120.92 116.91h0.8M122.88 109.68h0.8M124.19 109.85h0.8M117.61 118.18h0.8M118.53 109.82h0.8M122.94 116.91h0.8M117.61 113.72h0.8M117.88 113.48h0.8M117.7 113.64h0.8M116.85 115.96h0.8" stroke="#000" stroke-width="0.8" fill="none"/>
<path d="M118.37 116.41h0.65M117.51 110.39h0.65M120.47 111.2h0.65M125.03 108.81h0.65M120.32 119.95h0.65M123.07 114.67h0.65M117.12 115.84h0.65M118.75 112.13h0.65M123.46 108.97h0.65M118.89 110.31h0.65M122.59 118.74h0.65M115.86 112.17h0.65M118.54 114.64h0.65M116.61 112.94h0.65M117.13 117.36h0.65M116.79 116.93h0.65M115.88 110.04h0.65M118.38 114.09h0.65M119.02 117h0.65M117.17 114.93h0.65M113.38 110.04h0.65M122.51 112.94h0.65M124.28 115.36h0.65M120.68 109.31h0.65M115.61 108.9h0.65M118.17 109.37h0.65M115.1 113.03h0.65M121.95 112.88h0.65M126.51 117.25h0.65M118.52 120.36h0.65M124.62 105.36h0.65M122.39 110.97h0.65M119.82 118.91h0.65M117.93 113.45h0.65M113.72 115.91h0.65M118.66 117h0.65M117.38 119.04h0.65M120 108.61h0.65M115.39 108.77h0.65M119.37 114.53h0.65M115.76 109.09h0.65M116.21 112.04h0.65M123.25 112.52h0.65M115.37 117.62h0.65M116.93 110.62h0.65M116.83 116.57h0.65M121.54 117.36h0.65M123.74 117.31h0.65M115.03 116.49h0.65M120.51 116.03h0.65M118.3 112.67h0.65M116.62 119.3h0.65M120.88 114.33h0.65M122.58 113.2h0.65M118.95 112.02h0.65M120.48 112.04h0.65M119.02 112.29h0.65M117 115.29h0.65M118.68 115.17h0.65M115.39 111.42h0.65M120.72 120.72h0.65M118.09 113.14h0.65M117.26 113.37h0.65M115.38 111.06h0.65M120.94 117.07h0.65M126.61 112.5h0.65M118.95 118.84h0.65M123.88 115.13h0.65M117.51 109.34h0.65M120.3 113.39h0.65M123.3 113.45h0.65M126.95 111.91h0.65M123.95 117.16h0.65M120.78 110.93h0.65M117.48 122.61h0.65M116.06 111.02h0.65M120.7 108.96h0.65M125.87 117.88h0.65M122.77 108.06h0.65M120.39 106.89h0.65M117.45 111.81h0.65M117.79 115.88h0.65M123.23 108.51h0.65M120.38 121.99h0.65M122.8 117.15h0.65M115.73 109.17h0.65M117.91 120.53h0.65M122.97 117.35h0.65M119.79 114.53h0.65M117.99 116.38h0.65M120.82 117.91h0.65M117.96 116.47h0.65M119.09 115.01h0.65M123.05 109.34h0.65M118.04 111.65h0.65M120.21 110.84h0.65M122.5 114.97h0.65M121.64 106.68h0.65M123.54 116.93h0.65M124.38 110.73h0.65M117.91 115.88h0.65M121.04 109.14h0.65M124.46 118.47h0.65M126.47 110.55h0.65M118.69 114.02h0.65M122.18 106.35h0.65M121.11 120.01h0.65M124.29 117.16h0.65M119.14 118.26h0.65M119.37 116.11h0.65M122.99 115.91h0.65M119.43 115.73h0.65M118.27 113.02h0.65M123.65 107.77h0.65M117.18 108.76h0.65M121.42 116.72h0.65M117.66 117.7h0.65M122.53 110.82h0.65M118.8 114.09h0.65M123.16 115.49h0.65M120.56 107.29h0.65M124.39 115.4h0.65M117.94 121.58h0.65M117.74 117.19h0.65M114.51 114.06h0.65M123.8 113.69h0.65M122.59 114.19h0.65M115.99 114.07h0.65M123.08 110.67h0.65M120.2 115.63h0.65M116.29 115.96h0.65M122.71 111.35h0.65M124.06 109.07h0.65M122.55 112.69h0.65M117.8 115.35h0.65M118.2 113.97h0.65M118.23 115.72h0.65M117.39 114.84h0.65M118.1 112.18h0.65M120.36 116.17h0.65M119.18 117.24h0.65M121.35 112.24h0.65M117.69 109.85h0.65M121.78 112.29h0.65M121.31 112.24h0.65M121.92 118.97h0.65M118.33 110.51h0.65M118.27 117.04h0.65M119.99 110.04h0.65M113.77 118.6h0.65M118.13 111.79h0.65M115.55 110.52h0.65M117.89 114.05h0.65M118.49 114.51h0.65M118.42 110.98h0.65M123.21 110.27h0.65M121.03 109.21h0.65M121.34 118.15h0.65M118.02 109.38h0.65M113.61 108.45h0.65M118.54 118.39h0.65M124.28 113.67h0.65M116.91 109.91h0.65M120.57 113.93h0.65M116.24 113.63h0.65M114.79 113.01h0.65M123.73 119.21h0.65M116.57 115.31h0.65M123.57 116.23h0.65M118.67 107.06h0.65M116.08 117.07h0.65M116.12 121.85h0.65M123 112.39h0.65M119.42 111.07h0.65M119.55 108.81h0.65M118 113.89h0.65M118.54 113.62h0.65M119.8 107.19h0.65M122.48 112.83h0.65M116.07 119.22h0.65M121.42 115.52h0.65M118.84 106.52h0.65M116.38 112.39h0.65M115.29 107.89h0.65M119.44 115.01h0.65M123.24 110.76h0.65M120.05 108.55h0.65M120.2 111.03h0.65M121.96 115.84h0.65M123.5 115.99h0.65M121.43 116.38h0.65M116.32 111.57h0.65M116.86 116.71h0.65M120.62 118.7h0.65M122.52 115.1h0.65" stroke="#222" stroke-width="0.65" fill="none"/>
<path d="M119.47 119.92h0.6M120.55 124.17h0.6M117.5 123.76h0.6M119.55 121.41h0.6M120.97 120.69h0.6M118.78 120.82h0.6M123.98 120.71h0.6M118.29 125.07h0.6M122.93 122.25h0.6M120.32 120.86h0.6M118.31 122.66h0.6M118.71 123.97h0.6M115.43 124.87h0.6M121.85 120.59h0.6M119.68 121.61h0.6M119.92 119.95h0.6M119.24 122.39h0.6M120.66 121.05h0.6M123.12 121.63h0.6M117.85 122.72h0.6M120.27 124.42h0.6M120 120.03h0.6M118.51 120.76h0.6M120.79 120.8h0.6M120.55 120.94h0.6M124.63 123.4h0.6M119.93 124.86h0.6M124.68 122.56h0.6M122.93 124.88h0.6M118.4 122.64h0.6M120.37 124.54h0.6M120.02 125.26h0.6M115.59 124.94h0.6M121.86 121.39h0.6M119.82 123.51h0.6M115.79 120.89h0.6M121.47 121.11h0.6M120.24 122.63h0.6M118.25 121.39h0.6M121.37 120.32h0.6M119 121.19h0.6M122.8 124.86h0.6M121.29 121.28h0.6M117.84 123.42h0.6M122.7 120.77h0.6M116.99 120.78h0.6M124.61 121.18h0.6M121.18 121.86h0.6M119.79 123.83h0.6M117.78 119.6h0.6M119.17 124.42h0.6M119.89 121.22h0.6M121.04 120.17h0.6M116.2 121.3h0.6M120.51 122.02h0.6M116.39 120.29h0.6M120.6 122.45h0.6M121.37 123.42h0.6M121.89 122.83h0.6M117.13 122.67h0.6M119.06 119.76h0.6M119.13 122.76h0.6M115.61 120.89h0.6M121.47 121.59h0.6M119.56 124.31h0.6M122.8 120.1h0.6M117.1 123.93h0.6M121.79 124.12h0.6M121.4 122.21h0.6M122.62 124.82h0.6M121 124.99h0.6M123.56 123.15h0.6M120.58 121.71h0.6M121.38 124.79h0.6M120.67 121.71h0.6M121.61 122.69h0.6M119.53 120.9h0.6M119.06 119.99h0.6M116.43 124.22h0.6M119.75 123.85h0.6M123.2 119.6h0.6M125.46 120.67h0.6M117.44 121.84h0.6M117.29 123.59h0.6M117.78 121.38h0.6M120.17 122.07h0.6M122.31 120.51h0.6M121.79 122.98h0.6M123.22 124.41h0.6M117.82 120.61h0.6" stroke="#222" stroke-width="0.6" fill="none"/>
<path d="M120.88 128.78h0.6M119.7 122.39h0.6M120.84 126.91h0.6M119.46 124.61h0.6M119.56 122.49h0.6M119.34 130.4h0.6M121.07 122.6h0.6M122.63 127.63h0.6M121.03 128.52h0.6M118.23 123.85h0.6M118.26 128.58h0.6M119.65 126.04h0.6M119.88 123.93h0.6M115.96 128.58h0.6M117.75 121.15h0.6M118.97 121.08h0.6M122.41 122.5h0.6M119.72 121.93h0.6M120.55 121.69h0.6M118.54 127.02h0.6M119.12 126.71h0.6M119.06 121.95h0.6M118.43 129.06h0.6M120.58 124.58h0.6M118.85 121.05h0.6M116.59 131.42h0.6M118.04 122.74h0.6M115.65 129.64h0.6M121.76 124.19h0.6M118.98 125.4h0.6M120.3 125.54h0.6M121.25 124.67h0.6M118.06 128.49h0.6M118.98 131.49h0.6M120.34 121.19h0.6M121.09 131.64h0.6M116.88 124.25h0.6M121.56 122.06h0.6M121.75 128.7h0.6M120.71 130.96h0.6M119.65 125.9h0.6M120.84 128.78h0.6M121.33 122.32h0.6M118.79 121.28h0.6M119.41 127.63h0.6M116.93 121.01h0.6M115.61 123.25h0.6M119.84 121.25h0.6M118.11 123.86h0.6M121.63 124.09h0.6M117.36 122.76h0.6M119.83 121.07h0.6M119.58 122.78h0.6M121.05 123.12h0.6M117.77 122.4h0.6M121.63 122.07h0.6M120.93 131.18h0.6M120.31 127.59h0.6M119.1 126.58h0.6M120.98 127.43h0.6M120.94 123.3h0.6M115.91 121.54h0.6M119.85 126.85h0.6M121.91 130.22h0.6M120.77 126.32h0.6M118.45 122.47h0.6M118.2 125.13h0.6M121.29 122.22h0.6M118.92 121.89h0.6M119.05 122.05h0.6" stroke="#444" stroke-width="0.6" fill="none"/>
<path d="M85.44 117.48h0.5M87.26 108.75h0.5M106.13 113.95h0.5M95.6 109.89h0.5M96.95 119.31h0.5M92.73 105.89h0.5M87.96 117.72h0.5M95.91 122.53h0.5M88.96 117.99h0.5M93.52 108.92h0.5M102.37 109.72h0.5M88.97 112.43h0.5M94.49 104.77h0.5M109.6 111.37h0.5" stroke="#aaa" stroke-width="0.5" fill="none"/>
<path d="M175.59 104.83C176.4 104.45 178.57 104.66 180.04 104.7C181.5 104.74 183.39 104.59 184.37 105.05C185.35 105.52 185.65 106.13 185.93 107.47C186.2 108.81 186.01 111.41 186.01 113.11C186.01 114.81 186.08 116.47 185.9 117.67C185.73 118.87 185.42 119.58 184.96 120.31C184.49 121.04 183.78 121.61 183.12 122.03C182.46 122.44 181.71 122.8 180.98 122.8C180.25 122.8 179.45 122.4 178.74 122.02C178.03 121.63 177.22 121.22 176.71 120.49C176.21 119.76 175.91 119.03 175.69 117.65C175.46 116.27 175.45 113.99 175.36 112.21C175.28 110.43 175.13 108.21 175.16 106.98C175.2 105.75 174.77 105.21 175.59 104.83Z" fill="#000"/>
<path d="M179.34 107.32h0.8M175.19 113.65h0.8M178 119.04h0.8M178.02 107.59h0.8M176.31 109.84h0.8M180.09 121.34h0.8M177.19 114.4h0.8M176.72 120.06h0.8M185.87 109.4h0.8M180.23 118.26h0.8M180.18 120.83h0.8M182.91 107.31h0.8M177.72 104.5h0.8M182.52 107.79h0.8M181.27 106.09h0.8M179.75 117.67h0.8M180.97 107.45h0.8M186.59 109.39h0.8M184.61 112.1h0.8M180.98 114.67h0.8M184.05 114.68h0.8M179.43 121.15h0.8M181.38 121.81h0.8M177.38 120.39h0.8M177.48 108.55h0.8M177.23 119.89h0.8M179.3 112.99h0.8M184.62 111.34h0.8M178.96 105.91h0.8M182.51 110.41h0.8M182.95 113.6h0.8M181.51 117.39h0.8M180.08 121.01h0.8M184.39 118.22h0.8M184.76 108.79h0.8M182.53 118.77h0.8M179 122.16h0.8M176.08 114.42h0.8M179.1 105.37h0.8M184 115.18h0.8M184.2 109.49h0.8M181.6 110.91h0.8M181.59 113.95h0.8M178.13 111.42h0.8M178.16 110.13h0.8M180.98 110.24h0.8M178.74 121.03h0.8M177.2 111.75h0.8M183.91 114.22h0.8M182.14 120.01h0.8M173.57 115.03h0.8M176.9 105.49h0.8M178.17 110.81h0.8M181.09 110.04h0.8M182.69 111.62h0.8M178.49 117.14h0.8M184.02 110.39h0.8M176.67 117.88h0.8M184.59 108.45h0.8M177.89 113.76h0.8M182.61 104.14h0.8M177.94 120.2h0.8M185.04 117.8h0.8M178.07 120.25h0.8M185.75 111.11h0.8M183.62 116.84h0.8M179.16 111.41h0.8M181.4 118.3h0.8M185.33 106.02h0.8M174.81 105.69h0.8M183.56 106.79h0.8M183.07 105.05h0.8M182.01 105.96h0.8M176.92 112.32h0.8M185.98 109.79h0.8M182.15 115.74h0.8M182.98 115.32h0.8M183.37 107.76h0.8M183.11 120.36h0.8M178.94 108.05h0.8M185.28 112.43h0.8M179.44 116.35h0.8M178.63 104.73h0.8M179.12 119.25h0.8M179.91 119.86h0.8M181.67 121.86h0.8M181.04 108.06h0.8M181.73 107.93h0.8M183.63 115.95h0.8M184.65 115.22h0.8M177.16 113.41h0.8M182.19 114.93h0.8M179.74 114.65h0.8M184.52 119.27h0.8M175.86 114.3h0.8M176.99 116.03h0.8M178.49 110h0.8M176.04 116.75h0.8M176.01 117.99h0.8M179.46 118.63h0.8M182.94 112h0.8M180.72 108.55h0.8M178.4 113.08h0.8M181.31 106.73h0.8M181.09 110.42h0.8M177.32 108.4h0.8M174.66 111.48h0.8M177.69 115.45h0.8M180.29 122.04h0.8M184.23 111.91h0.8M180.88 115.33h0.8M180.37 116.8h0.8M180.96 118.57h0.8M184.18 110.47h0.8M184.21 111.96h0.8M179.66 106.36h0.8M176.68 115.76h0.8M184.5 106.94h0.8M184.51 108.75h0.8M182.38 119.34h0.8M181.09 117.91h0.8M181.33 106.21h0.8M183.49 110.97h0.8M180.12 106.4h0.8M181.36 107.54h0.8M179.15 105.34h0.8M182.34 106.7h0.8M179.04 120.31h0.8M176.84 120.39h0.8M178.38 110.87h0.8M178.3 111.72h0.8M183.29 110.66h0.8M186.63 109.07h0.8M183.25 110.37h0.8M182.75 120.06h0.8M182.74 107.29h0.8M185.19 114.98h0.8M181.24 119.74h0.8M179.52 117.01h0.8M183.93 117.39h0.8M179.05 108.5h0.8M180.75 113.85h0.8M178.8 105.36h0.8M178.88 116.45h0.8M176.01 111.98h0.8M175.79 107.6h0.8M176.55 115.31h0.8M178.49 109.38h0.8M184.22 112.98h0.8M182.89 115.57h0.8M181.09 109.44h0.8M178.95 112.44h0.8M185.97 115.38h0.8M176.11 109.54h0.8M175.81 107.25h0.8M180.81 113.45h0.8M182.7 114.01h0.8M183.18 106.25h0.8M180.81 107.04h0.8M182.25 114.91h0.8M176.25 108.55h0.8M183.05 107.55h0.8M176.98 113.47h0.8M185.14 118.44h0.8M183.33 112.49h0.8M182.21 111.34h0.8M177.55 114.87h0.8M184.42 117.17h0.8M183.63 111.9h0.8M181.61 120.81h0.8M178.6 104.84h0.8M185.2 113.08h0.8M177.22 113.34h0.8M177.44 105.27h0.8M176.97 119.1h0.8M177.23 109.99h0.8M184.62 110.83h0.8M181.95 114.24h0.8M177.14 109.75h0.8M178.69 113.45h0.8M178.19 114.33h0.8M181.44 107.6h0.8M182.79 120.26h0.8M181.25 109.3h0.8M180.37 108.26h0.8M179.56 114.5h0.8M178.14 120.87h0.8M183.5 114.91h0.8M179.81 112.19h0.8M183.8 106.15h0.8M175.56 120.22h0.8M178.09 118.24h0.8M182.06 118.44h0.8M184.85 108.65h0.8M180.53 105.91h0.8M180.54 109.26h0.8M179.54 107.01h0.8M176.02 113.69h0.8M177.78 108.2h0.8M181.47 111.5h0.8M181.13 110h0.8M180.53 113.45h0.8M185.88 110.38h0.8M175.49 117.82h0.8M176.85 113.82h0.8M184.05 120.6h0.8M176.79 110.53h0.8M182.04 103.82h0.8M185.88 116.82h0.8M181.84 116.6h0.8M185.19 108.55h0.8M181.79 114.31h0.8M182.6 105.84h0.8M180.07 121.21h0.8M176.4 105.87h0.8M179.19 122.14h0.8M184.52 107.41h0.8M179.88 106.98h0.8M178.8 120.47h0.8M180.3 119.39h0.8M180.93 120.79h0.8M183.32 113.39h0.8M180.91 108.08h0.8M175.36 113.93h0.8M184.39 111.29h0.8M179.28 113.79h0.8M185.49 105.99h0.8M182.24 123.1h0.8M182.66 117.26h0.8M186.3 108.06h0.8M177.51 112.85h0.8M176.52 107.06h0.8M182.38 117.54h0.8M177.68 106.46h0.8M180.48 105.69h0.8M177.46 106.82h0.8M183.05 117.92h0.8M182.94 106.39h0.8M176.98 106.39h0.8M179.55 118.2h0.8M177.4 110.48h0.8M177.81 114.1h0.8M184.29 117.52h0.8M181.98 115.24h0.8M184.54 112.78h0.8M177.95 115.55h0.8M179.14 122.25h0.8M182.36 113.04h0.8M180.2 112.5h0.8M181.32 122.74h0.8M179.98 107.08h0.8M175.77 109.85h0.8M175.6 111.66h0.8M178.36 116.43h0.8M182.82 110.84h0.8M182.14 118.3h0.8M179.31 105.65h0.8M177.22 117.87h0.8M184.83 117.62h0.8M182.9 116.05h0.8M180.26 119.66h0.8M182.63 106.61h0.8M182.38 113.75h0.8M178.33 111.27h0.8M176.27 107.16h0.8M179.15 115.85h0.8M178.14 115.14h0.8M179.02 112.53h0.8M180.11 115.65h0.8M177.33 109.42h0.8M185.94 117.51h0.8M181.78 106.65h0.8M180.54 108.85h0.8M184.75 113.68h0.8M180.39 114.86h0.8M174.92 108.25h0.8M181.84 117.84h0.8M185.6 107.88h0.8M180.68 119.84h0.8M180.35 112.71h0.8M180.26 118.27h0.8M183.54 107.61h0.8M182.42 118.78h0.8M183.47 110.36h0.8M179.78 116.28h0.8M176.87 116.14h0.8M182.08 117.52h0.8M185.13 108.51h0.8M180.07 110.23h0.8M184.31 114.09h0.8M185.53 116.35h0.8M176.53 114.32h0.8M182.79 104.85h0.8M176.9 110.29h0.8M180.94 118.77h0.8M182.77 120.01h0.8M184.75 110.51h0.8M183.38 110.38h0.8M176.07 106.76h0.8M182.4 121.98h0.8M183.11 106.93h0.8M184.05 117.43h0.8M180.58 106.8h0.8M176.06 114.6h0.8M176.2 112.37h0.8M179.66 110.58h0.8M176.87 119.07h0.8M182.87 114.67h0.8M182.43 118.18h0.8M175.74 115.54h0.8M180.68 118.96h0.8M178.1 108.26h0.8M185.56 115.65h0.8M180.06 107.48h0.8M184.4 112.1h0.8M184.58 117.65h0.8M178.65 114.8h0.8M177.06 106.02h0.8M178 118.12h0.8M184.73 108.13h0.8M183.7 118.39h0.8M181.28 107.78h0.8M185.25 111.79h0.8M177.43 118.55h0.8M178.9 120.53h0.8M184.41 106.85h0.8M179.12 110.68h0.8M186.32 113.64h0.8M176.79 109.29h0.8M178.44 120.07h0.8M184.88 108.11h0.8M180.89 116.21h0.8M177.09 118.07h0.8M178.07 111.65h0.8M182.76 111.54h0.8M183.45 118.75h0.8M175.89 108.94h0.8M176.84 105.81h0.8M179.35 119.21h0.8M183.84 108.7h0.8M178.17 113.38h0.8M184.56 113.68h0.8M183.21 107.15h0.8M181.24 122.08h0.8M180.47 118.55h0.8M180.63 112.95h0.8M182.4 109.49h0.8M182.35 119.48h0.8M176.23 118.48h0.8M180.44 119.24h0.8M179.25 106.98h0.8M183.43 116.51h0.8M181.09 109.05h0.8M185.11 110.59h0.8M181.77 109.33h0.8M178.14 110.88h0.8M184.6 114.41h0.8M175.9 115.37h0.8M186.95 113.78h0.8M179.76 119.63h0.8M177.83 114.53h0.8M178.17 113.94h0.8M181.51 111.2h0.8M176.33 117.18h0.8M178.73 117.1h0.8M182.07 120.18h0.8M177.92 109.61h0.8M179.3 108.92h0.8M179.32 111.9h0.8M182.73 106.05h0.8M183.39 108.07h0.8M177.87 110.78h0.8M180.62 119.86h0.8M178.95 115.8h0.8M179.37 117.22h0.8M178.7 110.81h0.8M182.13 119.36h0.8M183.71 118.49h0.8M179.22 120.37h0.8M175.12 111.05h0.8M180.62 118.26h0.8M181.93 115.72h0.8M178.5 121.65h0.8M178.92 106.14h0.8M184.8 108.39h0.8M186.85 112.12h0.8M176.49 107.27h0.8M182.99 109.31h0.8M184.83 108.77h0.8M181.87 114.84h0.8M185.01 114.09h0.8M183.12 119.51h0.8M179.3 121.21h0.8M180.05 105.39h0.8M175.84 112.44h0.8M179.47 119.06h0.8M179.99 121.82h0.8M184.65 113.04h0.8M177.18 105.98h0.8M181.99 119.58h0.8M177.8 105.16h0.8M184.98 108.89h0.8M180.54 118.41h0.8M183.87 115.25h0.8M181.4 111.51h0.8M178.46 107.68h0.8M185.21 107.47h0.8M184.45 116.25h0.8M177.59 115.31h0.8M177.42 110.96h0.8M177.71 114.38h0.8M180.73 116.25h0.8M181.17 109.55h0.8M182.85 106.28h0.8M179.37 119.91h0.8M183.81 117.08h0.8M182.36 116.84h0.8M181.64 123.67h0.8M186.05 108.45h0.8M178.76 115.45h0.8M175.59 107.63h0.8M179.98 106.63h0.8M185.51 106.92h0.8M183.58 109.56h0.8M180.92 110.79h0.8M182.95 117.3h0.8M178.49 107.82h0.8M184.07 120.04h0.8M178.93 121.26h0.8M185.93 109.5h0.8M177.04 109.54h0.8M181.24 114.49h0.8M185.99 112.35h0.8M180.11 110.11h0.8M180.36 121.78h0.8M184.41 110.82h0.8M183.22 111.5h0.8M183.9 110.18h0.8M181.17 109.51h0.8M178.16 115.29h0.8M186.11 109.63h0.8M177.4 106.72h0.8M182.78 115.2h0.8M181.19 118.54h0.8M176.55 109.86h0.8M177.61 109.57h0.8M184.68 115.07h0.8M179.17 111.49h0.8M180.08 110.58h0.8M179.69 123.36h0.8M181.1 120.48h0.8M177.12 119.29h0.8M184.1 109.29h0.8M182.15 117.71h0.8M182.57 115.24h0.8M178.84 118.82h0.8M176.06 107.01h0.8M181.29 121.27h0.8M182.75 119.27h0.8M178.63 116.67h0.8M179.32 109.7h0.8M181.13 120.52h0.8M185.13 106.78h0.8M178.47 105.84h0.8M180.18 116.24h0.8M179.71 121.6h0.8M175.11 113.18h0.8M179.22 105.79h0.8M180.73 120.23h0.8M181.16 114.7h0.8M177.27 112.81h0.8M183.68 110.73h0.8M175.78 114.74h0.8M181.53 118.4h0.8M180.26 106.06h0.8M176.06 116.61h0.8M178.29 115.6h0.8M185.53 114.68h0.8M184.86 107.63h0.8M178.02 107.06h0.8M185 107.41h0.8M184.87 114.2h0.8M181.46 107.5h0.8M182.86 105.91h0.8M184.48 113.42h0.8M179.77 116.44h0.8M181.77 119.26h0.8M178.84 113.07h0.8M182.04 118.29h0.8M179.38 106.75h0.8M176.73 105.65h0.8M183.19 107.62h0.8M176.4 115.49h0.8M184.65 112.13h0.8M183.02 114.45h0.8M179.99 110.51h0.8M180.76 113.06h0.8M179.9 108.2h0.8M179.38 116.59h0.8M183.97 106.02h0.8M177.2 107.89h0.8M180.81 113.18h0.8M182.64 106.03h0.8M178.7 114.28h0.8M179.11 109.13h0.8M184.34 120.63h0.8M179.47 106.92h0.8M179.26 106.6h0.8M185.14 114.4h0.8M179.63 111.92h0.8M182.97 111.2h0.8M181.39 105.22h0.8M180.73 108.34h0.8M180.61 118.05h0.8M182.97 107.37h0.8M182.49 111.9h0.8M177.5 107.09h0.8M183.05 120.71h0.8M174.81 115.47h0.8M177.63 108.77h0.8M180.79 118.75h0.8M184.36 113.06h0.8M186.29 111.98h0.8M182.55 113.61h0.8M179.47 110.24h0.8M183.49 115.03h0.8M179.05 108.41h0.8M178.21 105.73h0.8M184.4 117.6h0.8M176.45 112.34h0.8M183.38 120.28h0.8M175.68 106.89h0.8M180.03 111.67h0.8M180.2 104.84h0.8M182.47 105.87h0.8M179.66 108.12h0.8M177.04 111.9h0.8M179.02 107.32h0.8M175.85 113.66h0.8M179.37 121.45h0.8M180.15 111.48h0.8M186.13 109.33h0.8M181.56 111.77h0.8M183.31 107.85h0.8M178.77 118.57h0.8M182.24 106.67h0.8M185.92 116.57h0.8M179.56 105.26h0.8M176.66 113.64h0.8M179.68 106.17h0.8M176.37 113.37h0.8M183.41 116.28h0.8M181.21 117.09h0.8M177.58 112h0.8M180.06 108.51h0.8M174.85 114.92h0.8M182.94 118.71h0.8M178.57 115.77h0.8M178.71 113.87h0.8M176.99 115.43h0.8M178.52 117.06h0.8M181.92 119.49h0.8M184.35 109.48h0.8M178.97 116.46h0.8M181.21 108.45h0.8M183.66 120.43h0.8M184.23 113.99h0.8M180.82 116.43h0.8M185.68 108.71h0.8M182.88 112.83h0.8M177.16 110.83h0.8M179.4 108.69h0.8M176.37 113.28h0.8M176.78 109.05h0.8M180.7 119.22h0.8M178.33 113.52h0.8M181.81 107.38h0.8M184.29 108.32h0.8M181.2 109.37h0.8M176.94 115.87h0.8M176.76 106.69h0.8M183.04 111.11h0.8M181.99 105.5h0.8M182.84 106.12h0.8M185.85 108.43h0.8M180.41 111.92h0.8M179.93 121.32h0.8M177.28 114.7h0.8M175.8 113.55h0.8M178.61 121.46h0.8M181.9 109.54h0.8M177.76 117.57h0.8M175.6 108.41h0.8M177.75 104.33h0.8M179.07 116.37h0.8M177.22 112.45h0.8M184.55 118.73h0.8M184.95 109.97h0.8M178.71 120.77h0.8M180.94 120.61h0.8M183.5 117.18h0.8M175.36 110.26h0.8M178.16 116.65h0.8M183.38 109.87h0.8M179.07 105.24h0.8M176.12 115.28h0.8M183.46 119.87h0.8M181.67 120.62h0.8M181.61 109.64h0.8M181.29 109.84h0.8M180.8 114.26h0.8M181.62 107.11h0.8M186.64 112.29h0.8M181.21 110.99h0.8M184.6 107.44h0.8M180.58 110.6h0.8M185.04 108.3h0.8M181.55 111.14h0.8M185.21 113.62h0.8M176.52 115.55h0.8M180.23 120.43h0.8M183.44 114.62h0.8M175.9 108.37h0.8M182.25 110.09h0.8M178.87 111.31h0.8M180.1 110.61h0.8M178.11 111.85h0.8M179.88 112.25h0.8M184.74 113.12h0.8M185.54 117.05h0.8M179.58 116.01h0.8M181.75 112.06h0.8M178.17 114.74h0.8M181.5 119.46h0.8M177.02 107.97h0.8M182.32 109.41h0.8M177.89 119.39h0.8M183.89 117.35h0.8M180.71 107.28h0.8M177.71 106.5h0.8M184.17 113.86h0.8M176.22 107.67h0.8M182.45 106.03h0.8M180.07 110.73h0.8M180.99 106.04h0.8M182.87 115.3h0.8M181.99 116.67h0.8M178.76 119.06h0.8M176.63 119.04h0.8M182.58 106.85h0.8M179.77 119.16h0.8M179.72 107.08h0.8M184.19 118.48h0.8M180.93 105.13h0.8M175.5 110.35h0.8M182.74 104.43h0.8M177.86 106.4h0.8M180.8 107.55h0.8M175.96 104.38h0.8M177.43 110.24h0.8M181.14 107.26h0.8M184.59 118.6h0.8M182.05 115.8h0.8M180.77 111.45h0.8M177.84 111.98h0.8M182.88 104.44h0.8M186.39 112.28h0.8M179.18 119.5h0.8M177.79 113.73h0.8M180.71 122.06h0.8M180.17 109.1h0.8M180.68 115.81h0.8" stroke="#000" stroke-width="0.8" fill="none"/>
<path d="M186.82 116.8h0.65M183.93 121.31h0.65M183.27 109.09h0.65M184.64 109.11h0.65M182.15 116.59h0.65M183.39 117.03h0.65M180.16 114.69h0.65M181.48 109.86h0.65M178.85 112.82h0.65M175.83 111.05h0.65M174.38 109h0.65M186.45 107.9h0.65M176.84 111.84h0.65M184.18 105.52h0.65M185.6 107.86h0.65M176.8 111.68h0.65M180.36 106.58h0.65M179.43 114.45h0.65M181.23 106.23h0.65M178.64 118.95h0.65M180.37 111.03h0.65M184.28 114.52h0.65M180.23 118.57h0.65M179.24 110.76h0.65M172.85 119.99h0.65M175.81 116.21h0.65M182.51 110.08h0.65M176.74 106.84h0.65M178.37 111.71h0.65M179.77 116.49h0.65M176.72 111.48h0.65M183.26 116.12h0.65M181.26 118.39h0.65M177.45 107.15h0.65M178.92 114.31h0.65M175.62 118.63h0.65M176.54 112.65h0.65M184.34 112.46h0.65M185.13 105.69h0.65M179.1 120.2h0.65M176.26 114.39h0.65M181.42 120.58h0.65M184.51 108.09h0.65M180.16 107.38h0.65M178.21 116.68h0.65M181.12 117.12h0.65M182.02 104.33h0.65M175.41 109.69h0.65M175.7 111.54h0.65M178.23 109.69h0.65M175.03 108.52h0.65M179.67 121.89h0.65M178.73 117h0.65M186.92 108.28h0.65M177.75 107.61h0.65M182.37 107.14h0.65M184.27 112.16h0.65M177.64 112.99h0.65M179.09 114.41h0.65M177.96 120.58h0.65M176.02 107.82h0.65M177.81 107.61h0.65M179.96 116.47h0.65M183.47 116.68h0.65M181.94 118.83h0.65M181.91 110.67h0.65M182.05 112.62h0.65M186.36 106.83h0.65M182.41 115.31h0.65M184.18 115.65h0.65M182.07 105.06h0.65M182.54 104.81h0.65M174.89 108.2h0.65M179.33 112.23h0.65M176.85 116.03h0.65M183.57 118.49h0.65M178.33 115.9h0.65M174.31 109.8h0.65M178.85 107.94h0.65M178.77 108.92h0.65M178.37 118.34h0.65M183.46 123.02h0.65M182.61 105.92h0.65M180.02 106.44h0.65M186.62 107.59h0.65M177.11 106.81h0.65M179.24 114.68h0.65M184.19 117.35h0.65M180.4 116.09h0.65M184.82 110.92h0.65M180.51 117.99h0.65M181.37 104.94h0.65M182.47 111.22h0.65M180.59 120.88h0.65M182.92 118.68h0.65M185.33 108.53h0.65M181.93 112.86h0.65M181.23 115.59h0.65M180.22 116.49h0.65M179.58 102.29h0.65M183.05 114.22h0.65M182.65 109.24h0.65M175.92 109.22h0.65M180.45 115.22h0.65M183.61 114.42h0.65M184.63 114.44h0.65M183.2 119.47h0.65M177.79 118.03h0.65M175.29 110.91h0.65M180.7 113.71h0.65M180.98 105.96h0.65M183.74 105.17h0.65M183.07 104.91h0.65M183.97 109.2h0.65M178.78 116.84h0.65M179.04 108.84h0.65M185.22 120.34h0.65M187.27 115.06h0.65M177.05 120.17h0.65M179.68 104.83h0.65M186.83 108.73h0.65M180.79 115.81h0.65M176.59 120.25h0.65M182.47 112.24h0.65M180.87 106.93h0.65M182.35 121.18h0.65M177.96 107.45h0.65M179.24 121.84h0.65M180.6 109.55h0.65M179.76 110.25h0.65M185.18 118.16h0.65M184.8 115.28h0.65M182.26 110.95h0.65M175.85 107.92h0.65M178.28 113.07h0.65M179.84 106.45h0.65M174.42 118.64h0.65M182.87 115.61h0.65M180.36 117.02h0.65M175.51 118.02h0.65M185.13 108.79h0.65M186.25 115.6h0.65M183.62 115.81h0.65M183.34 117.9h0.65M178.96 108.35h0.65M180.99 106.76h0.65M185.71 110.68h0.65M173.73 112.08h0.65M181.81 108.64h0.65M176.54 110.88h0.65M182.97 119.48h0.65M177.35 112.04h0.65M183.24 114.97h0.65M184.07 103.3h0.65M178.74 104.96h0.65M180.72 106.66h0.65M184.02 107.21h0.65M183.64 117.01h0.65M177 120.65h0.65M182.28 113.07h0.65M179 105.44h0.65M178.31 106.35h0.65M183.83 108.39h0.65M182.32 118.4h0.65M177.75 105.12h0.65M177.02 122.01h0.65M176.29 118.84h0.65M187.87 108.03h0.65M184.37 116.28h0.65M175.97 107.35h0.65M184.13 110.8h0.65M176.84 106.29h0.65M176.41 114.53h0.65M184.45 122.27h0.65M182.96 119.98h0.65M176.66 117.96h0.65M180 114.79h0.65M178.61 106.43h0.65M179.5 113.01h0.65M179.94 116.47h0.65M186.23 107.25h0.65M179.54 107.68h0.65M174.12 108.74h0.65M180.64 119.66h0.65M181.41 117.64h0.65M180.23 111.29h0.65M177.57 114.65h0.65M175.85 117.9h0.65M180.56 121.79h0.65M176.3 104.69h0.65M177.31 110.87h0.65M185 106.02h0.65M184.51 114.12h0.65M188.5 114.49h0.65M181.06 116.32h0.65M183.84 109.33h0.65M180.03 109.8h0.65M182.29 110.36h0.65M180.26 124.24h0.65M178.44 112.18h0.65M178.77 112.41h0.65M180.86 116.79h0.65M184.89 108.21h0.65M176.38 111.04h0.65M186.68 114.12h0.65M180.34 114.53h0.65M175.56 117.35h0.65M185.66 112.03h0.65M181.71 109.73h0.65M172.7 108.59h0.65M179.34 117.08h0.65M181.16 115.59h0.65M174.5 116.89h0.65M181.62 109.82h0.65M177.67 111.95h0.65M176.22 112.12h0.65M184.79 113.59h0.65M182.57 115.3h0.65M175.02 105.09h0.65M178.86 122.87h0.65M184.81 116.27h0.65M185.36 111.66h0.65M181.62 110.89h0.65M182.54 106.59h0.65M181.99 112.26h0.65M182.95 113.9h0.65M181.04 112.81h0.65M183.69 114.96h0.65M177.49 113.46h0.65M179.39 111.36h0.65M176.38 114.66h0.65M176.87 108.31h0.65M175.48 119.48h0.65M176.66 117.5h0.65M184.5 111.17h0.65M182.95 113.76h0.65M179.49 115.26h0.65M179.31 113.86h0.65M185.72 111.87h0.65M181.45 112.5h0.65M182.22 121.5h0.65M181.1 107.61h0.65M182.18 109.03h0.65M181.56 104.96h0.65M185.9 117.41h0.65M177.15 107.36h0.65M182.79 104.48h0.65M179.36 118.18h0.65M183.57 113.55h0.65M180.64 106.11h0.65M179.23 117.23h0.65M178.72 113.46h0.65M177.97 107.19h0.65M179.36 115.66h0.65M184.1 110.65h0.65" stroke="#222" stroke-width="0.65" fill="none"/>
<path d="M180.51 123.64h0.7M179.12 123.72h0.7M185.34 122.82h0.7M180.12 119.48h0.7M176.3 126.15h0.7M179.58 128.44h0.7M180.84 121.14h0.7M183.23 119.99h0.7M181.97 119.79h0.7M180.98 120.08h0.7M188.81 119.25h0.7M181.67 128.02h0.7M181.12 121.39h0.7M183.38 125.82h0.7M181.03 125.83h0.7M180.65 119.91h0.7M183.05 119.45h0.7M179.62 121.86h0.7M175.98 119.73h0.7M182.97 121.57h0.7M178.94 120.76h0.7M178.05 126.16h0.7M183.17 124.59h0.7M176.99 120.46h0.7M180.23 125.67h0.7M184.38 128.04h0.7M181.79 126.2h0.7M177.33 120.13h0.7M177.06 120.84h0.7M184.42 121.53h0.7M176.09 123.82h0.7M186.49 123.44h0.7M188.45 122.58h0.7M180.84 122.66h0.7M184.3 125.46h0.7M180.78 122.07h0.7M180.63 122.19h0.7M181.53 120.53h0.7M183.6 122.11h0.7M184.05 122.45h0.7M184.98 124.27h0.7M181.17 120h0.7M182.31 120.9h0.7M178.13 122.03h0.7M175.59 124.18h0.7M177.59 119.82h0.7M178.7 129.37h0.7M184.55 121.58h0.7M180.25 120.4h0.7M182.33 121.51h0.7M177.32 120.32h0.7M184.2 122.24h0.7M185.73 125.41h0.7M184.93 125.36h0.7M177.83 119.83h0.7M188.39 124.21h0.7M180.85 119.34h0.7M184.6 124.42h0.7M180.18 121.63h0.7M184.91 121.41h0.7M182.22 124.31h0.7M180.5 123.04h0.7M184.04 127.06h0.7M182.11 119.12h0.7M176.36 119.81h0.7M178.63 124.95h0.7M183.61 122.91h0.7M184.27 119.05h0.7M184.65 121.65h0.7M183 123.66h0.7M187.31 126.41h0.7M179.87 125.45h0.7M177.47 122h0.7M178.32 119.95h0.7M179.56 123.24h0.7M186.18 119.48h0.7M179.18 121.53h0.7M180.7 126.15h0.7M177.57 119.82h0.7M182.03 119.74h0.7M182.32 122.25h0.7M180.94 123.44h0.7M182.01 127.81h0.7M182.87 120.01h0.7M180.03 119.63h0.7M184.4 119.25h0.7M187.14 124.26h0.7M181.64 119.89h0.7M177.71 123.73h0.7M181.9 119.51h0.7M182.37 126.3h0.7M182.56 120.71h0.7M180.6 123.79h0.7M179.91 119.44h0.7M183.46 121.99h0.7M178.22 119.49h0.7M183.59 125.25h0.7M180.56 125.36h0.7M179.21 124.02h0.7M182.42 128.46h0.7M178.18 122.97h0.7M180.81 125.99h0.7M181.9 119.98h0.7M180.49 124.27h0.7M180.36 122.21h0.7M181.31 121.32h0.7M182.47 123.63h0.7M185.66 124.19h0.7M176.19 124.83h0.7M180.52 124.18h0.7M175.59 119.6h0.7M177.73 122.42h0.7M184.44 120.2h0.7M185.42 122.26h0.7M180.85 125.33h0.7M187.75 119.36h0.7M182.09 120.46h0.7M183.8 120.76h0.7M180.66 124.2h0.7M180.97 124.81h0.7M182.16 126.51h0.7M185.81 124.01h0.7M183.44 120.03h0.7M179.54 122.83h0.7M184.55 121.33h0.7M184.67 126.15h0.7M182.44 121.75h0.7M182.83 125.63h0.7M178.74 119.26h0.7M177.73 121.38h0.7M182.43 120.5h0.7M179.1 119.97h0.7M184.76 128.13h0.7M181.76 122.13h0.7M181.97 121.63h0.7M182.37 122.06h0.7M187.2 122.2h0.7M180.98 122.56h0.7M184.62 123.08h0.7M185.28 126.96h0.7M176.25 123.85h0.7M188.28 119.55h0.7M181.22 127.94h0.7M180.74 119.33h0.7M178.65 121.94h0.7M185.37 122.3h0.7M183.89 121.31h0.7M186.12 119.33h0.7M179.09 120.1h0.7M182.78 120.08h0.7M178.58 121.91h0.7M176.61 123.94h0.7M181.04 124.82h0.7M182.91 125.95h0.7M180.82 120.95h0.7M185.47 122.56h0.7M182.24 124.35h0.7M178.96 120.74h0.7M184.8 123.98h0.7M181.21 120.68h0.7M179.25 121.51h0.7M182.68 121.16h0.7M188.61 121.95h0.7M178.9 119.28h0.7M182.88 123.45h0.7M178.68 122.39h0.7M181.18 119.15h0.7M184.53 120.04h0.7M176.92 123.76h0.7M180.94 119.72h0.7M180.24 122.73h0.7M176.12 119.97h0.7M182.67 120.33h0.7M183.28 132.05h0.7M177.87 121.56h0.7M181.88 129.44h0.7M183.5 119.3h0.7M190.97 119.29h0.7M181.08 119.15h0.7M180.71 121.83h0.7M184.69 120.58h0.7M182.37 120.05h0.7M175.67 120.94h0.7M174.6 121.65h0.7M182.46 120.04h0.7M181.63 126.06h0.7M183.06 123.49h0.7M180.4 120.34h0.7M177.17 125.59h0.7M184.8 119.22h0.7M182.77 120.2h0.7M185.49 121.35h0.7M181.08 123.51h0.7M173.98 129.19h0.7M180.64 124.35h0.7M179.22 119.96h0.7M183.25 126.17h0.7M174.28 119.54h0.7M179.88 122.69h0.7M180.18 126.57h0.7M174.23 126.27h0.7M180.1 123.6h0.7M177.2 127.82h0.7M176.8 120.29h0.7M185 119.06h0.7M175.21 119.12h0.7M181.26 124.98h0.7M178.86 125.69h0.7M180.13 123.85h0.7M181.94 121.91h0.7M181.11 119.17h0.7M177.62 125.05h0.7M182.24 125.23h0.7M183.78 129.72h0.7M178.31 128.35h0.7M181.17 120.2h0.7M178.75 127.29h0.7M185.44 127.31h0.7M182.87 122.75h0.7M185.32 119.2h0.7M184.16 120.07h0.7M183.56 124.89h0.7M181.23 126.63h0.7M182.62 132.2h0.7M185.55 121.71h0.7M179.64 123.42h0.7M184 121.22h0.7M179.56 122.21h0.7M181.74 120.55h0.7M178.9 121.13h0.7M179.01 124.79h0.7M175.85 123.42h0.7M181.87 126.49h0.7M186.98 125.16h0.7M179.44 120.82h0.7M181.84 125.15h0.7M180 121.24h0.7M185.24 119.05h0.7M183.68 119.24h0.7M179.74 121.71h0.7M178.28 122.48h0.7M181.83 119.2h0.7M183.71 119.49h0.7M182.55 122.83h0.7M176.33 123.48h0.7M186.76 120.28h0.7M183.95 122.89h0.7M178.54 120.73h0.7M183.92 121.55h0.7M184.68 119.4h0.7M180.86 119.42h0.7M178.6 120.58h0.7M176.23 124.17h0.7M183.68 121.41h0.7M174.35 124.04h0.7M183.68 119.3h0.7M181.04 121.6h0.7M184.83 120.35h0.7M182.04 127.81h0.7M183.14 121.39h0.7M178.76 121.03h0.7M184.83 128.07h0.7M183.23 120.87h0.7M183.25 119.84h0.7M176.48 121.16h0.7M175.22 119.66h0.7M178.96 123.02h0.7M175.72 120.25h0.7M178.32 121.21h0.7M176.11 127.13h0.7M180.59 119.35h0.7M188.29 126.64h0.7M181 123.11h0.7M180.46 120.84h0.7M182.85 122.29h0.7M181.5 124.2h0.7M180.3 124.67h0.7M176.09 122.73h0.7M180.22 121.11h0.7M183.49 123.01h0.7M185.26 122.26h0.7M186.32 122.14h0.7M177.8 121.55h0.7M181.69 125.34h0.7M183.97 120.12h0.7M182.55 126.25h0.7M185.3 120.83h0.7M183.54 123.55h0.7M181.78 123.79h0.7M183.07 120.96h0.7M185.59 120.06h0.7M179.85 120.67h0.7M175.83 123.69h0.7M177.61 127.06h0.7M182.32 128.66h0.7M180.43 122.29h0.7M182.35 120.67h0.7M180.42 123.2h0.7M182.18 122.45h0.7M181.12 123.29h0.7M173.92 123.05h0.7M173.27 120.9h0.7M181.8 124.61h0.7M179.63 119.39h0.7M178.81 120.02h0.7M184.24 119.04h0.7M184.5 120.96h0.7M179.72 119.34h0.7M184.12 121.48h0.7M179.29 124.44h0.7M183.86 121.86h0.7M179.69 119.79h0.7M182.5 120.83h0.7M183.98 123.84h0.7M184.03 123.42h0.7M178.37 121.14h0.7M179.67 123.63h0.7M184.99 128.35h0.7M179.21 119.69h0.7M185.33 126.6h0.7M183.77 127.35h0.7M184.31 122.24h0.7M181.04 119.68h0.7M179.23 123.57h0.7M184.84 122.84h0.7M184.56 123.75h0.7M178.9 129.1h0.7M173.65 127.27h0.7M179.34 120.71h0.7M183.91 125.38h0.7" stroke="#0a0a0a" stroke-width="0.7" fill="none"/>
<path d="M179.55 126.71h0.6M181.21 130.23h0.6M180.34 129.98h0.6M179.33 126.26h0.6M179.26 128.47h0.6M181.56 131.62h0.6M177.77 129.17h0.6M182.89 126.49h0.6M183.18 130.24h0.6M183.29 129.24h0.6M187.89 127.42h0.6M179.46 129.12h0.6M181.48 126.5h0.6M185.32 127.31h0.6M178.83 127.39h0.6M180.77 126.21h0.6M179.44 127.04h0.6M182.5 126.04h0.6M182.08 130.5h0.6M180.14 129.98h0.6M181.46 129.71h0.6M176.59 127.37h0.6M182.77 127.16h0.6M177.52 127.8h0.6M179.98 127.84h0.6M180.19 126.26h0.6M177.73 128.76h0.6M178.77 126.1h0.6M182.86 130.4h0.6M181.71 126.01h0.6M178.76 126.4h0.6M177.72 131.28h0.6M182.31 131.21h0.6M179.95 128.38h0.6M180.08 126.41h0.6M179.43 131.65h0.6M182.08 130.55h0.6M175.5 126.85h0.6M176.93 131.58h0.6M178.81 129.72h0.6M185.99 128.56h0.6M182.39 129.15h0.6M178.63 126.51h0.6M181.01 131.93h0.6M188.79 127h0.6M182.32 131.11h0.6M180.39 126.37h0.6M180.02 131h0.6M181.44 127.56h0.6M184.28 130.9h0.6" stroke="#444" stroke-width="0.6" fill="none"/>
<path d="M146.71 107.43h0.62M145.74 106.92h0.62M144.35 111.63h0.62M144.47 109.14h0.62M145.43 108.69h0.62M143.67 104.73h0.62M150.28 110.51h0.62M147.01 107.47h0.62M143.79 108.74h0.62M154.35 109.37h0.62M143.75 107.14h0.62M147.41 106.9h0.62M151.3 107.4h0.62M146.05 109.35h0.62M146.35 108.51h0.62M150.62 106.5h0.62M146.08 107.67h0.62M146.74 111.04h0.62M141.23 110.15h0.62M144.77 109.48h0.62M149.4 107.26h0.62M142.04 111.75h0.62M146.68 110.85h0.62M149.69 107.08h0.62M146.09 107.76h0.62M146.88 107.58h0.62M149.77 107.02h0.62M145.28 111.54h0.62M147.11 106.73h0.62M147.6 106.52h0.62M147.38 108.33h0.62M148.04 106.59h0.62M146.63 105.55h0.62M147.5 107.71h0.62M146.95 109.78h0.62M148.24 106.07h0.62M149.18 107.73h0.62M150.95 111.51h0.62M145.09 107.96h0.62M146.94 108.49h0.62M144.14 106.56h0.62M145.09 110.45h0.62M149.87 110.19h0.62M148.23 106.2h0.62M144.02 107.84h0.62M147.68 106.79h0.62M145.69 110.03h0.62M149.75 107.59h0.62M145.87 107.21h0.62M148.2 105.07h0.62M145.31 106.64h0.62M145.73 107.11h0.62M146.07 114.17h0.62M144.39 109.61h0.62M148.21 109.81h0.62M152.37 107.26h0.62M145.13 106.17h0.62M143.84 102.48h0.62M147.24 106.62h0.62M147.18 109.64h0.62M145.32 106.5h0.62M146.32 111.44h0.62M147.14 111.68h0.62M146.54 107.28h0.62M149.25 109.04h0.62M148.51 107.28h0.62M144.15 105.52h0.62M146.49 104.93h0.62M148.88 106.7h0.62M146.42 107.31h0.62M144.07 107.4h0.62M151.19 105.6h0.62M143.99 109.2h0.62M148.09 105.64h0.62M143.43 103.78h0.62M146.09 107.08h0.62M144.86 109.62h0.62M148.23 105.52h0.62M147.67 106.12h0.62M146.69 104.35h0.62M144.02 111.83h0.62M147.09 107.86h0.62M147.02 108.26h0.62M145.79 109.54h0.62M147.77 106.18h0.62M143.13 108.46h0.62M146.47 109.55h0.62M147.38 110.04h0.62M146.63 105.59h0.62M149.79 109.43h0.62M148.84 107.64h0.62M148.05 110.77h0.62M148.9 111.03h0.62M144.81 106.16h0.62M150.97 106.4h0.62M145.25 110.47h0.62M152.2 107.93h0.62M147.4 106.41h0.62M149.29 107.31h0.62M147.99 104.38h0.62" stroke="#333" stroke-width="0.62" fill="none"/>
<path d="M149.53 107.2h0.58M147.4 108.33h0.58M156.19 106.85h0.58M167.28 109.43h0.58M143.49 109.11h0.58M143.4 108.57h0.58M152.76 108.15h0.58M152.83 111.94h0.58M146.27 103.01h0.58M158.08 108.33h0.58M147.72 108.62h0.58M150.52 107.41h0.58M164.62 107.77h0.58M154.87 105.73h0.58M145.19 105.94h0.58M147.5 108.23h0.58M164.06 108.39h0.58M152.18 109.99h0.58M159.11 104.7h0.58M154.87 107.82h0.58M155.37 108.08h0.58M169.19 108.42h0.58M151.67 108.66h0.58M167.39 104.59h0.58M163.49 109.56h0.58M162.93 107.02h0.58M147.72 113.69h0.58M155.23 108.28h0.58M160.03 108.39h0.58M161.48 111.33h0.58M144.81 112.52h0.58M143.87 110.35h0.58M155.77 107.97h0.58M151.59 106.68h0.58M165.5 107.43h0.58M158.75 108.93h0.58M151.76 107.88h0.58M148.54 112.75h0.58M166.15 107.75h0.58M161.46 113.67h0.58M148.02 109.51h0.58M149.37 107.24h0.58M167.82 108.93h0.58M169.64 108.06h0.58M156.81 108h0.58M169.22 108.25h0.58M146.09 108.9h0.58M150.01 106.12h0.58M170.08 110.36h0.58M147.03 105.04h0.58M158.99 110.07h0.58M169.45 110.42h0.58M159.84 109.45h0.58M158.12 106.71h0.58M154.27 106.12h0.58M151.88 105.84h0.58M156.99 108.4h0.58M151.48 106.58h0.58M163.44 109.47h0.58M162.54 107.48h0.58M149.11 109.22h0.58M147.56 108.38h0.58M171.87 109.61h0.58M155.79 108.01h0.58M166.19 109.64h0.58M146.55 103.79h0.58M153.89 106.64h0.58M150.73 106.8h0.58M154.03 105.34h0.58M163.68 112.14h0.58M153.35 106.3h0.58M161.32 107.76h0.58M166.69 106.96h0.58M162.3 109.64h0.58M144.01 107.64h0.58M157.34 109.69h0.58M154.83 108.54h0.58M162.1 109.74h0.58M159.31 112.65h0.58M144.56 110.37h0.58M151.99 109.39h0.58M146.77 110.96h0.58M145.48 110.83h0.58M144.8 109.13h0.58M159.98 105.92h0.58M159.07 106.13h0.58M147.43 110.98h0.58M143.77 107.79h0.58M163.04 110.15h0.58M156.22 109h0.58M166.62 105.27h0.58M151.4 105.83h0.58M168.07 105.42h0.58M150.44 111.16h0.58M152.14 111.7h0.58M162.84 110.62h0.58M161.98 106.67h0.58M165.17 110.18h0.58M161.61 110.11h0.58M168.1 108.94h0.58M163.26 110.42h0.58M146.15 107.99h0.58M157.92 105.87h0.58M169.93 109.34h0.58M165.09 106.65h0.58M162.6 110.88h0.58M152.3 104.52h0.58M147.76 107.75h0.58M152.72 106.18h0.58M156 110.66h0.58M143.17 108.01h0.58M160.06 114.26h0.58M152.91 108.77h0.58M143.63 108.87h0.58M160.27 105.4h0.58M152.49 108.76h0.58M169.22 107.95h0.58M148.71 107.21h0.58M154.73 108.91h0.58M145.98 107.11h0.58" stroke="#555" stroke-width="0.58" fill="none"/>
<path d="M149.37 117.64h0.5M167.32 114.29h0.5M161.8 117.52h0.5M161.28 118.58h0.5M149.21 117.41h0.5M151.1 117.97h0.5M145.62 120.57h0.5M162.14 127.82h0.5M145.09 119.17h0.5M159.69 122.74h0.5M143.17 110.46h0.5M157.6 120.07h0.5M158.21 122h0.5M145.07 113.75h0.5M153.57 115.71h0.5M171.38 125.29h0.5M165.17 121.46h0.5M166.86 124.31h0.5M151.3 116.7h0.5M165.58 127.93h0.5M163.26 127.29h0.5M163.83 121.98h0.5M145.3 127.29h0.5M158.82 117.42h0.5M149.97 117.12h0.5M145.13 122.58h0.5M162.99 127.94h0.5M160.47 125.14h0.5M167.17 122.41h0.5M145.61 122.3h0.5" stroke="#888" stroke-width="0.5" fill="none"/>
<path d="M238.5 108.12C239.45 107.7 240.8 107.77 242 107.8C243.2 107.83 244.83 107.84 245.68 108.31C246.54 108.78 246.84 109.69 247.11 110.65C247.38 111.6 247.46 112.89 247.3 114.02C247.14 115.15 246.61 116.33 246.13 117.43C245.64 118.53 245.03 119.81 244.39 120.64C243.75 121.47 242.98 122.44 242.28 122.4C241.58 122.36 240.87 121.33 240.17 120.43C239.47 119.52 238.74 118.1 238.09 116.96C237.45 115.81 236.6 114.67 236.3 113.57C236 112.46 235.93 111.25 236.3 110.34C236.66 109.43 237.55 108.54 238.5 108.12Z" fill="#000"/>
<path d="M238.44 112.97h0.8M244.35 108.8h0.8M239.73 110.24h0.8M240.46 119.78h0.8M242.51 112.59h0.8M243.51 112.59h0.8M240.69 111.1h0.8M241.77 112.14h0.8M239.93 119.08h0.8M244 117.33h0.8M237.63 110.59h0.8M247.21 114.36h0.8M239.43 116.58h0.8M245.92 108.75h0.8M246.01 115.97h0.8M237.78 110.38h0.8M240.9 119.78h0.8M237.64 110.83h0.8M245.33 108.2h0.8M242.29 113.52h0.8M241.18 119.79h0.8M237.75 116.71h0.8M242.53 120.78h0.8M244.49 114.71h0.8M242.9 112.1h0.8M238.63 110.72h0.8M244.25 110.22h0.8M236.09 111.76h0.8M240.11 120.9h0.8M239.19 115.51h0.8M245.67 119.62h0.8M247.03 114.15h0.8M239.82 109.97h0.8M244.25 111.51h0.8M244.29 116.71h0.8M242.36 115.26h0.8M246.59 116.34h0.8M243.6 122.28h0.8M239.52 111.88h0.8M243.15 118h0.8M245.23 116.76h0.8M237.93 114.82h0.8M238.96 118.41h0.8M241.03 111.12h0.8M242.62 120.22h0.8M244.82 108.47h0.8M243.14 108.93h0.8M241.81 111.84h0.8M239.07 115.79h0.8M244.3 114.39h0.8M246.55 114.75h0.8M243.3 110.53h0.8M237.99 114.55h0.8M237.51 116.03h0.8M240.74 116.93h0.8M247.06 111.33h0.8M246.69 113.19h0.8M241.32 112.33h0.8M243.38 120.55h0.8M239.76 109.3h0.8M239.66 108.77h0.8M242.43 120.49h0.8M239.19 109.27h0.8M242.27 119.48h0.8M240.31 114.98h0.8M245.31 108.55h0.8M241.95 115.73h0.8M237.49 114.17h0.8M242.27 112.26h0.8M246.99 109.72h0.8M246.46 116.92h0.8M236.89 114.48h0.8M242.8 117.82h0.8M246.21 109.18h0.8M240.52 115.1h0.8M243.19 114.95h0.8M239.64 109.62h0.8M238.88 118.67h0.8M243.12 113.36h0.8M241.29 121.19h0.8M238.6 111.82h0.8M243.75 110.15h0.8M242.27 121.04h0.8M240.34 119.99h0.8M237.62 110h0.8M241.91 107.88h0.8M245.66 117.63h0.8M237.54 113.37h0.8M246.73 116.54h0.8M245.01 110.04h0.8M245.95 110.29h0.8M238.96 115.09h0.8M243.79 115.84h0.8M239.13 117.6h0.8M238.14 110.1h0.8M244.53 114.04h0.8M241.06 111.29h0.8M244.82 114.9h0.8M240.25 119.58h0.8M246.94 111.91h0.8M238.09 112.04h0.8M246.74 117.19h0.8M243.13 118.02h0.8M242.35 113.85h0.8M241.42 115.06h0.8M242.8 114.84h0.8M243.92 109.91h0.8M237.34 110.42h0.8M243.14 108.83h0.8M245.55 110.86h0.8M243.63 120.68h0.8M244.28 117.04h0.8M240.06 110.89h0.8M239.77 111.49h0.8M244.67 112.54h0.8M242.16 109.82h0.8M236.59 113.42h0.8M247.33 113.73h0.8M241.71 115.53h0.8M240.35 112.36h0.8M242.7 113.86h0.8M239.77 115.25h0.8M241.85 118.43h0.8M238.4 112.66h0.8M244.35 112.99h0.8M238.85 117.82h0.8M244.29 111.06h0.8M242.78 108.87h0.8M236.9 111.48h0.8M241.88 116.46h0.8M236.94 115.76h0.8M237.72 113.66h0.8M238.28 111.78h0.8M244.01 117h0.8M241.83 112.43h0.8M243.73 116.21h0.8M244.62 114.28h0.8M243.42 112.59h0.8M243.67 117.93h0.8M239.36 110.73h0.8M239.35 111.83h0.8M243.56 108.84h0.8M239.96 109.67h0.8M241.12 111.41h0.8M242.91 113.69h0.8M242.14 111.15h0.8M242.47 114.76h0.8M245.25 109.15h0.8M241.65 114.8h0.8M241.05 109.98h0.8M236.43 114.53h0.8M240.9 119.52h0.8M240.72 116.9h0.8M237.43 109.35h0.8M239.02 114.88h0.8M237.41 107.83h0.8M245.9 117.22h0.8M242.1 118.41h0.8M241.26 120.3h0.8M242.89 120.79h0.8M242.41 118.97h0.8M237.81 113.93h0.8M237.81 110.79h0.8M244.6 111.45h0.8M240.6 113.05h0.8M239.94 113.07h0.8M240.12 116.67h0.8M244.83 117.74h0.8M236.37 110.09h0.8M246.03 111.06h0.8M242.76 121.35h0.8M236.74 110.17h0.8M239.61 112.91h0.8M241.36 109.04h0.8M238.29 110.6h0.8M245.84 112.18h0.8M245.49 111.11h0.8M241.3 112.69h0.8M240.5 117.95h0.8M237.43 114.37h0.8M244.1 118.09h0.8M243.88 112.57h0.8M245.29 112.65h0.8M242.61 111.29h0.8M246.24 114.63h0.8M241.5 109.02h0.8M247.68 110.23h0.8M244.66 116.82h0.8M239.91 120.25h0.8M238.79 113.63h0.8M243 111.34h0.8M238.41 117.73h0.8M242.18 113.19h0.8M241.82 117.92h0.8M239.77 115.38h0.8M242.91 108.12h0.8M241.45 119.34h0.8M241.26 117.31h0.8M241.74 109.95h0.8M241.97 120.97h0.8M240.04 115.15h0.8M244.88 110.31h0.8M242.09 116.08h0.8M237.79 113.49h0.8M243.85 111.51h0.8M241.04 114.96h0.8M241.96 113.26h0.8M244.68 117.24h0.8M239.94 118.24h0.8M244.44 110.65h0.8M244.44 111.76h0.8M241.53 113.43h0.8M243.01 120.67h0.8M244.36 118.33h0.8M240.76 114.73h0.8M247.13 111.93h0.8M244.24 114.2h0.8M242.74 115.69h0.8M238.8 112.25h0.8M247.15 110.98h0.8M244.02 118.01h0.8M244.34 113.23h0.8M244.33 108.39h0.8M240.7 114.59h0.8M241.42 110.2h0.8M240.57 108.47h0.8M238.66 109.02h0.8M238.9 109.13h0.8M242.81 113.31h0.8M246.39 111.91h0.8M243.85 111.43h0.8M243.53 116.2h0.8M241.82 114.87h0.8M242.01 114.91h0.8M245.18 115.17h0.8M241.51 108.9h0.8M240.09 109.95h0.8M242.73 109.43h0.8M237.7 113.72h0.8M241.63 111.28h0.8M243.96 109.95h0.8M240.87 109.01h0.8M245.12 116.55h0.8M245.85 110.39h0.8M237.17 111.12h0.8M241.55 117.35h0.8M239.83 113.39h0.8M241.8 109.05h0.8M241.29 111.06h0.8M244.63 110.99h0.8M243.35 108.77h0.8M243.52 116.49h0.8M246.12 115.15h0.8M245.22 107.03h0.8M243.79 119.71h0.8M238.5 113.27h0.8M241.08 112.49h0.8M245.04 117.71h0.8M244.56 111.4h0.8M241.28 115.65h0.8M246.39 110.5h0.8M239.87 116.11h0.8M244.73 111.63h0.8M244.11 113.05h0.8M239.37 118.13h0.8M245.55 109.63h0.8M244.32 114.64h0.8M244.85 109.87h0.8M240.73 112.14h0.8M244.13 107.87h0.8M239.04 113.29h0.8M241 114.49h0.8M239.46 116.45h0.8M236.18 109.15h0.8M241.62 107.31h0.8M245.57 108.33h0.8M244.7 114.81h0.8M238.64 119.09h0.8M236.28 111.34h0.8M237.71 108.6h0.8M237.26 112.96h0.8M236.78 110.87h0.8M238.08 112.66h0.8M242.36 115.28h0.8M241.12 109.27h0.8M243.06 109.73h0.8M242.25 121.03h0.8M243.79 109.19h0.8M241.2 113.85h0.8M239.02 113.72h0.8M242.23 119.49h0.8M242.56 114.94h0.8M243 118.3h0.8M242.05 112.96h0.8M240.14 110.87h0.8M240.64 118.33h0.8M243.01 117.25h0.8M241.07 112.21h0.8M239.94 115.91h0.8M243.75 116.99h0.8M239.86 112.85h0.8M240.62 110.08h0.8M245.04 111.1h0.8M238.6 110.93h0.8M242.49 115.21h0.8M242.63 119.24h0.8M242.92 117.74h0.8M240.23 118.26h0.8M246.39 115.97h0.8M239.89 117.96h0.8M242.78 113.2h0.8M245.26 112.09h0.8M236.47 109.37h0.8M247.31 112.68h0.8M240.65 110.88h0.8M243.39 114.48h0.8M241.47 113.44h0.8M241.06 115.26h0.8M241.35 112.05h0.8M237.75 114.28h0.8M240.9 108.73h0.8M245.54 112.05h0.8M245.98 116.16h0.8M243.24 109.47h0.8M245.41 117.37h0.8M240.17 111.34h0.8M239.86 118.27h0.8M243.47 109.54h0.8M245.71 112.03h0.8M241.31 109.18h0.8M241.93 107.53h0.8M241.95 120.03h0.8M237.85 117.19h0.8M241.11 120.28h0.8M245.21 111.83h0.8M241.75 108.41h0.8M244.45 109.91h0.8M243.53 112.9h0.8M238.68 115.14h0.8M243.17 109.24h0.8M242.15 120.37h0.8M241.78 118.94h0.8M243.11 112.81h0.8M238.55 112.63h0.8M239 109.83h0.8M245.75 114.41h0.8M243.11 112.98h0.8M243.5 109.74h0.8M241.79 110.03h0.8M244.6 118.23h0.8M238.81 110.41h0.8M240.3 109.38h0.8M242.58 115.18h0.8M237.49 111.89h0.8M243.32 111.2h0.8M245.3 115.13h0.8M241.68 119.08h0.8M245.63 118.11h0.8M242.13 114.07h0.8M246.22 117.06h0.8M240.87 109.61h0.8M240.73 107.66h0.8M236.33 111.86h0.8M241.8 118.07h0.8M246.12 113.17h0.8M242.5 115.36h0.8M244.89 111.18h0.8M244.49 113.34h0.8M244.15 109.2h0.8M239.8 115.57h0.8M245.12 114.67h0.8M243.16 110.59h0.8M245.92 109.21h0.8M237.23 108.77h0.8M237.35 109.73h0.8M239.64 111.07h0.8M240.87 117.35h0.8M245.13 114.44h0.8M245.73 115.58h0.8M245.61 109.47h0.8M239.99 113.42h0.8M243.55 114.68h0.8M238.61 112.07h0.8M243.43 111.79h0.8M241.19 111.23h0.8M242.93 113.36h0.8M245.68 117.21h0.8M239.41 109.41h0.8M238.71 117.13h0.8M245.03 117.93h0.8M245.85 112.66h0.8M242.65 107.39h0.8M243.22 116.91h0.8M237 112.46h0.8M239.37 110.96h0.8M241.95 110.67h0.8M240.58 117.84h0.8M242.16 110.5h0.8M237.61 114.96h0.8M243.7 108.49h0.8M242.75 115.22h0.8M242.88 109.31h0.8M241.82 109.81h0.8M245.33 113.2h0.8M240.52 111.12h0.8M243.6 116.13h0.8M237.45 109.87h0.8M242.54 110.01h0.8M245.64 113.6h0.8M242.03 116.44h0.8M244.33 115.16h0.8M238.44 111.51h0.8M244.85 115.52h0.8M247.55 115.36h0.8M243.05 116.68h0.8M238.92 113.73h0.8M241.5 108.72h0.8M240.39 115.27h0.8M243.51 111.18h0.8M240.7 114.68h0.8M236.81 110.37h0.8M243.38 108.14h0.8M240.47 112.9h0.8M247.53 113.18h0.8M241.38 119.46h0.8M244.79 116.2h0.8M246.75 116.67h0.8M238.48 109.66h0.8M236.3 113.34h0.8M245.49 113.76h0.8M238.46 113.14h0.8M247.34 111.49h0.8M239.5 115.15h0.8M247.48 111.38h0.8M243.91 111.36h0.8M238.8 114.28h0.8M242.86 115.72h0.8M239.13 116.6h0.8M245.71 115.84h0.8M245.3 113.13h0.8M243.56 115.33h0.8M246.8 110.48h0.8M241.36 111.6h0.8M240.07 110.45h0.8M236.88 112.06h0.8M239.83 117.32h0.8M245.26 109.01h0.8M244.49 111.21h0.8M244.02 114.15h0.8M237.13 113.92h0.8M239.26 112.55h0.8M244.68 117.24h0.8M243.28 120.03h0.8M246.34 112.72h0.8M244.24 108.81h0.8M243.99 119.47h0.8M243.35 112.03h0.8M246.48 116.86h0.8M246.23 111.73h0.8M247.23 114.24h0.8M238.61 110.67h0.8M244.25 109.8h0.8M246.1 112.79h0.8M241.28 119.02h0.8M245.46 116.55h0.8M244.54 121.76h0.8M245.83 112.57h0.8M240.47 109.43h0.8M246.62 111.69h0.8M245.69 112.37h0.8M238.38 113.32h0.8M242.35 114.17h0.8M242.67 108.89h0.8M240.03 112.26h0.8M243.74 114.56h0.8M238.42 110.11h0.8M240.84 118.58h0.8M238.48 112.04h0.8M237.6 116.02h0.8M241.09 111.99h0.8M236.09 110.77h0.8M237 111.81h0.8M241.72 108.83h0.8M238.89 109.93h0.8M240.46 111.03h0.8M240.39 119.48h0.8M238.55 110.67h0.8M243.49 115.57h0.8M241.43 117.65h0.8M241.39 113.56h0.8M240.22 119.34h0.8M243.01 113.71h0.8M241.97 111.11h0.8M243.09 112.64h0.8M245.06 119.42h0.8M242.26 108.32h0.8M242.62 110.65h0.8M240.84 109.92h0.8M245.89 113.6h0.8M247.5 113.55h0.8M242.48 119.51h0.8M244.75 115.53h0.8M244.16 118.52h0.8M237.2 108.88h0.8M241.47 119.86h0.8M240.88 114.97h0.8M244.76 114.57h0.8M238.09 116.57h0.8M245.31 109.84h0.8M242.18 109.06h0.8M240.99 117.74h0.8M238.24 109.49h0.8M239.27 110.22h0.8M245.86 115.97h0.8M239.84 111.71h0.8M237.59 114.23h0.8M240.1 119.17h0.8M242.09 112.84h0.8M239.4 113.88h0.8M243.13 118.29h0.8M241.52 111.54h0.8M236.73 113.71h0.8M243.64 114.76h0.8M241.64 111.28h0.8M240.48 119.6h0.8M243.39 113.78h0.8M243.57 117.89h0.8M244.13 113h0.8" stroke="#000" stroke-width="0.8" fill="none"/>
<path d="M240.64 108.54h0.65M242.15 115.65h0.65M240.02 121.09h0.65M241.69 118.64h0.65M239.73 106.8h0.65M241.86 115.56h0.65M243.53 117.35h0.65M246.21 114.46h0.65M248.81 112.85h0.65M241.21 119.51h0.65M240.4 111.46h0.65M243.38 112.59h0.65M243.35 111.83h0.65M242.44 119.75h0.65M239.58 114.7h0.65M245.43 109.22h0.65M244.5 111.49h0.65M243.74 118.88h0.65M242.34 118.43h0.65M240.24 111.53h0.65M243.46 120.15h0.65M240.64 117.76h0.65M243.71 112.5h0.65M242.08 112.83h0.65M247.02 123.52h0.65M246.2 111.06h0.65M245.67 118.33h0.65M241.72 115.65h0.65M237.41 106.1h0.65M239.42 119.72h0.65M242.66 121.01h0.65M239.07 116.47h0.65M241.15 114.63h0.65M245.95 108.02h0.65M235.44 116.7h0.65M235.21 112.51h0.65M238.81 113.36h0.65M234.88 110.08h0.65M242 110.33h0.65M243.5 114.74h0.65M241.14 116.49h0.65M239.49 110.72h0.65M241.89 119.51h0.65M243.89 116.05h0.65M247.66 109.13h0.65M241.98 109.74h0.65M237.52 113.31h0.65M238.03 107.17h0.65M243.32 118.44h0.65M243.91 114.75h0.65M240.47 109.17h0.65M238.95 111.52h0.65M242.42 120.16h0.65M242.78 117.44h0.65M241.16 105.85h0.65M239.02 114.48h0.65M245.03 118.2h0.65M239.85 115.8h0.65M248.14 112.47h0.65M238.86 115.06h0.65M244.12 110.93h0.65M239.53 106.24h0.65M243.6 121.05h0.65M245.97 109.76h0.65M242.8 118.6h0.65M241.82 107.06h0.65M241.32 111.93h0.65M241.99 114.63h0.65M238.48 109.69h0.65M242.47 111.92h0.65M237.61 116.61h0.65M240.47 115.33h0.65M242.98 111.18h0.65M242.12 107.43h0.65M242.97 107.38h0.65M239.83 111.04h0.65M244.73 115.29h0.65M241.42 109.32h0.65M238 109.03h0.65M240.96 114.74h0.65M241.16 114.05h0.65M244.58 116h0.65M235.73 106.32h0.65M237.39 112.38h0.65M245.56 110.43h0.65M245.68 113.9h0.65M240.43 111.59h0.65M238.49 112.46h0.65M240.78 111.81h0.65M241.74 109.97h0.65M240.81 112.07h0.65M240.37 113.95h0.65M243.8 113.93h0.65M238.15 107.52h0.65M243.26 107.35h0.65M247.55 108.29h0.65M240.6 117.92h0.65M243.42 121.39h0.65M241.82 118.36h0.65M235.75 109.98h0.65M248.03 112.5h0.65M245.01 112.4h0.65M241.38 116.79h0.65M243.87 118.54h0.65M243.71 105.71h0.65M237.07 109.1h0.65M241.45 121.64h0.65M241.92 115.98h0.65M243.24 107.47h0.65M245.02 116.1h0.65M244.53 117.12h0.65M248.84 114h0.65M242.47 110.08h0.65M251.25 112.76h0.65M244.31 116.21h0.65M240.59 118.15h0.65M243.8 114.94h0.65M242.79 114.67h0.65M236.72 114.88h0.65M241.63 117.57h0.65M249.6 111.03h0.65M244.97 107.31h0.65M245.12 108.67h0.65M244.13 116.19h0.65M240.87 107.9h0.65M243.87 110.6h0.65M238.13 110.11h0.65M245.6 114.29h0.65M247.17 110.77h0.65M243.63 122.57h0.65M245.7 113.05h0.65M238.86 115.17h0.65M236.66 109.38h0.65M244.52 116.72h0.65M247.15 115.27h0.65M239.9 116.64h0.65M244.6 113.86h0.65M244.84 117.24h0.65M239.85 112.85h0.65M240.64 108h0.65M235.05 111.45h0.65M244.22 117.05h0.65M247.92 119.62h0.65M240.09 111.13h0.65M245.56 110.92h0.65M245.02 116.26h0.65M237.33 119.21h0.65M245.11 112.59h0.65M246.1 110.48h0.65M242.09 118.81h0.65M238.81 111.14h0.65M248.11 116.51h0.65M237.21 118.17h0.65M238.96 112.98h0.65M244.43 114.02h0.65M243.17 111.58h0.65M238.1 113.74h0.65M246.13 114.89h0.65M247.72 115.18h0.65M242.26 113.97h0.65M243.53 108.96h0.65M242.22 111.46h0.65M243.92 120.98h0.65M242.75 120h0.65M243.05 111.01h0.65M246.25 118.11h0.65M245.01 116.59h0.65M244.64 112.43h0.65M238.53 109.86h0.65M242.83 112.34h0.65M243.49 115.78h0.65M244.2 116.3h0.65M242.78 116.02h0.65M242.72 110.8h0.65M242.55 118.06h0.65M245.6 117.2h0.65M245.48 118.42h0.65M246.34 114.26h0.65M239.19 108.73h0.65M242.36 108.59h0.65M242.55 114.74h0.65M239.72 117.53h0.65M239.72 111.69h0.65M240.96 115.32h0.65M239.57 110.87h0.65M238.91 113.02h0.65M243.99 115.41h0.65M246.59 120.24h0.65M243.26 113.76h0.65M244.67 111.29h0.65M240.35 112.89h0.65M247.63 112.94h0.65M239.04 115.35h0.65M248.06 116.43h0.65M242.07 111.79h0.65M239.62 116.97h0.65M245.25 111.41h0.65M243.42 116.09h0.65M242.92 114.78h0.65M246.44 113.54h0.65M236.98 108.46h0.65M241.62 113.14h0.65M243.67 113.7h0.65M238.73 119.29h0.65M241.11 119h0.65M242.57 111.62h0.65M243.33 118.4h0.65M243.24 111.06h0.65M243.67 117.22h0.65M244.36 112.76h0.65" stroke="#222" stroke-width="0.65" fill="none"/>
<path d="M243.71 123h0.6M240.35 124.27h0.6M240.75 122.19h0.6M244.18 121.21h0.6M239.74 119.96h0.6M242.24 122.67h0.6M241.6 123.19h0.6M243.47 124.14h0.6M240.92 120.47h0.6M238.9 121.74h0.6M242.5 123.16h0.6M243.16 120.28h0.6M243.61 121.93h0.6M240.34 124.21h0.6M240.74 123.41h0.6M246.13 123.15h0.6M243.33 121.54h0.6M240.21 123.33h0.6M243.91 120.09h0.6M245.25 124.57h0.6M243.95 121.35h0.6M241.79 123.28h0.6M244.6 121.96h0.6M241.72 122.32h0.6M245.45 123.06h0.6M244.87 123.5h0.6M242.91 121.12h0.6M241.49 123.32h0.6M243.52 122.32h0.6M244.67 121.15h0.6M244.7 120.1h0.6M243.66 123.62h0.6M243.12 123.09h0.6M241.58 122.76h0.6M241.02 120.86h0.6M241.42 124.68h0.6M242.51 120.66h0.6M241.47 121.55h0.6M241.46 124.42h0.6M242.81 123.36h0.6M241.66 120.43h0.6M244.25 120.82h0.6M242.44 122.48h0.6M246.56 119.9h0.6M243.79 119.7h0.6M241.34 123.62h0.6M242.34 120.14h0.6M238.83 124.44h0.6M243.78 124.94h0.6M244.86 123.39h0.6M240.19 122.36h0.6M244.26 123.07h0.6M238.4 123.65h0.6M240.34 121.64h0.6M242.45 120.91h0.6M239.37 123.29h0.6M241.28 122.59h0.6M241.87 122.48h0.6M238.73 123.35h0.6M241.97 124.43h0.6M244.4 124.24h0.6M245.86 119.54h0.6M238.73 121.04h0.6M244.2 124.64h0.6M245.83 124.91h0.6M243.78 122.86h0.6M239.91 121.65h0.6M242.31 121.22h0.6M242.14 122.82h0.6M240.39 119.79h0.6" stroke="#222" stroke-width="0.6" fill="none"/>
<path d="M243.9 130.88h0.6M242.14 127.28h0.6M242.55 124.79h0.6M241.15 128.41h0.6M240.35 124h0.6M240.59 121.05h0.6M242.21 124.44h0.6M241.32 123.62h0.6M243.44 124.65h0.6M245.54 122.13h0.6M241.35 124h0.6M241.98 127.99h0.6M244.22 121h0.6M245.13 126.07h0.6M244.66 126.84h0.6M240.5 127.92h0.6M245.2 121.79h0.6M241.35 123.07h0.6M242.48 127.91h0.6M245.9 126.6h0.6M244.58 121.43h0.6M240.26 123.86h0.6M238.39 127.94h0.6M243.03 121.06h0.6M241.55 121.17h0.6M240.34 124.4h0.6M239.71 122.59h0.6M237.37 123.92h0.6M240.64 127.7h0.6M243.6 124.48h0.6M242.09 128.49h0.6M242.88 127.63h0.6M244.05 129.14h0.6M241.71 121.61h0.6M242.39 121.16h0.6M244.82 122.59h0.6M241.67 123.6h0.6M240.39 122.96h0.6M242.63 121.55h0.6M242.04 124.51h0.6M244 124.4h0.6M241.46 126.11h0.6M243.14 124.44h0.6M240.21 130.19h0.6M245.62 124.88h0.6M245.51 121.22h0.6M240.52 121.08h0.6M244.44 125.68h0.6M240.25 121.2h0.6M240.37 126.61h0.6M242.03 125.3h0.6M243.01 121.32h0.6M239.69 121.4h0.6M242.76 124.72h0.6M241.68 126.32h0.6M243.38 125.27h0.6M241.62 128.37h0.6M243.2 129.67h0.6M241.34 121.29h0.6M240.82 123.64h0.6M243.2 129.35h0.6M245.8 129.7h0.6M245.73 128.51h0.6M242.14 121.17h0.6M243.7 122.63h0.6" stroke="#444" stroke-width="0.6" fill="none"/>
<path d="M204.5 110.65h0.5M209.01 110.42h0.5M205.62 108.76h0.5M206.35 109.03h0.5M208.91 109.91h0.5M203.09 110.75h0.5M205.21 109.8h0.5M204.42 109.07h0.5M207.73 111.32h0.5M206.11 109.78h0.5" stroke="#888" stroke-width="0.5" fill="none"/>
<path d="M212.99 116.18h0.5M214.08 113.04h0.5M215.8 107.82h0.5M229.75 114.33h0.5M224.64 110.53h0.5M230.73 112.16h0.5M215.72 107.55h0.5M223.53 114.15h0.5M222.4 108.41h0.5M217.14 112.01h0.5M205.75 107.32h0.5M219.16 108.2h0.5M223.36 109.45h0.5M226.6 110.54h0.5M214.87 110.91h0.5M224.69 113.58h0.5M228.67 110.46h0.5M229.44 109.43h0.5M227.79 116.1h0.5M224.06 109.57h0.5M207.3 110.62h0.5M217.21 117.69h0.5" stroke="#aaa" stroke-width="0.5" fill="none"/>
<line x1="40" y1="191.07" x2="40" y2="264.85" stroke="#000" stroke-width="1.3"/>
<line x1="36.6" y1="264.2" x2="40.1" y2="264.2" stroke="#000" stroke-width="1.3"/>
<text x="35.6" y="266.72" font-size="7px" font-weight="bold" text-anchor="end" stroke="#000" stroke-width="0.28">1</text>
<line x1="36.6" y1="252.12" x2="40.1" y2="252.12" stroke="#000" stroke-width="1.3"/>
<text x="35.6" y="254.64" font-size="7px" font-weight="bold" text-anchor="end" stroke="#000" stroke-width="0.28">2</text>
<line x1="36.6" y1="240.04" x2="40.1" y2="240.04" stroke="#000" stroke-width="1.3"/>
<text x="35.6" y="242.56" font-size="7px" font-weight="bold" text-anchor="end" stroke="#000" stroke-width="0.28">3</text>
<line x1="36.6" y1="227.96" x2="40.1" y2="227.96" stroke="#000" stroke-width="1.3"/>
<text x="35.6" y="230.48" font-size="7px" font-weight="bold" text-anchor="end" stroke="#000" stroke-width="0.28">4</text>
<line x1="36.6" y1="215.88" x2="40.1" y2="215.88" stroke="#000" stroke-width="1.3"/>
<text x="35.6" y="218.4" font-size="7px" font-weight="bold" text-anchor="end" stroke="#000" stroke-width="0.28">5</text>
<line x1="36.6" y1="203.8" x2="40.1" y2="203.8" stroke="#000" stroke-width="1.3"/>
<text x="35.6" y="206.32" font-size="7px" font-weight="bold" text-anchor="end" stroke="#000" stroke-width="0.28">6</text>
<line x1="36.6" y1="191.72" x2="40.1" y2="191.72" stroke="#000" stroke-width="1.3"/>
<text x="35.6" y="194.24" font-size="7px" font-weight="bold" text-anchor="end" stroke="#000" stroke-width="0.28">7</text>
<line x1="39.35" y1="264.2" x2="149.4" y2="264.2" stroke="#000" stroke-width="1.3"/>
<rect x="44.5" y="239.43" width="5.5" height="24.47" fill="#777" stroke="#111" stroke-width="1.2"/>
<rect x="50.6" y="257.19" width="5.7" height="6.71" fill="#fff" stroke="#111" stroke-width="1.2"/>
<rect x="66.15" y="233.39" width="5.5" height="30.51" fill="#777" stroke="#111" stroke-width="1.2"/>
<rect x="72.25" y="260.45" width="5.7" height="3.45" fill="#fff" stroke="#111" stroke-width="1.2"/>
<rect x="87.8" y="221.55" width="5.5" height="42.35" fill="#777" stroke="#111" stroke-width="1.2"/>
<rect x="109.45" y="260.45" width="5.5" height="3.45" fill="#777" stroke="#111" stroke-width="1.2"/>
<rect x="131.1" y="201.62" width="5.5" height="62.28" fill="#777" stroke="#111" stroke-width="1.2"/>
<text transform="translate(100.3 262.6) rotate(-90)" font-size="6.4px" font-style="italic" stroke="#000" stroke-width="0.25">nd</text>
<text transform="translate(15.3 228) rotate(-90)" font-size="7px" font-weight="bold" text-anchor="middle" stroke="#000" stroke-width="0.28">Fold increase in</text>
<text transform="translate(23.6 228) rotate(-90)" font-size="7px" font-weight="bold" text-anchor="middle" stroke="#000" stroke-width="0.28">CFSE<tspan font-size="4.06px" dy="-2.66">low</tspan><tspan dy="2.66"> CD8 T cells</tspan></text>
<text x="50.2" y="274" font-size="7.8px" font-weight="bold" text-anchor="middle" stroke="#000" stroke-width="0.28">1</text>
<text x="72" y="274" font-size="7.8px" font-weight="bold" text-anchor="middle" stroke="#000" stroke-width="0.28">2</text>
<text x="93.8" y="274" font-size="7.8px" font-weight="bold" text-anchor="middle" stroke="#000" stroke-width="0.28">3</text>
<text x="116.2" y="274" font-size="7.8px" font-weight="bold" text-anchor="middle" stroke="#000" stroke-width="0.28">4</text>
<text x="138" y="274" font-size="7.8px" font-weight="bold" text-anchor="middle" stroke="#000" stroke-width="0.28">4</text>
<path d="M44 274V277.6H121.3V274" fill="none" stroke="#000" stroke-width="1.4"/>
<path d="M130.2 274V277.6H144.6V274" fill="none" stroke="#000" stroke-width="1.4"/>
<text x="82.9" y="286.4" font-size="7.8px" font-weight="bold" text-anchor="middle" stroke="#000" stroke-width="0.28">1:50</text>
<text x="137.9" y="286.4" font-size="7.8px" font-weight="bold" text-anchor="middle" stroke="#000" stroke-width="0.28">1:20</text>
<line x1="43.8" y1="293" x2="146.4" y2="293" stroke="#000" stroke-width="1.3"/>
<text x="95" y="303.2" font-size="7.8px" font-weight="bold" text-anchor="middle" stroke="#000" stroke-width="0.28">SIV</text>
<line x1="191.9" y1="192.27" x2="191.9" y2="264.85" stroke="#000" stroke-width="1.3"/>
<line x1="188.5" y1="264.2" x2="192" y2="264.2" stroke="#000" stroke-width="1.3"/>
<text x="187.5" y="266.72" font-size="7px" font-weight="bold" text-anchor="end" stroke="#000" stroke-width="0.28">1</text>
<line x1="188.5" y1="252.32" x2="192" y2="252.32" stroke="#000" stroke-width="1.3"/>
<text x="187.5" y="254.84" font-size="7px" font-weight="bold" text-anchor="end" stroke="#000" stroke-width="0.28">2</text>
<line x1="188.5" y1="240.44" x2="192" y2="240.44" stroke="#000" stroke-width="1.3"/>
<text x="187.5" y="242.96" font-size="7px" font-weight="bold" text-anchor="end" stroke="#000" stroke-width="0.28">3</text>
<line x1="188.5" y1="228.56" x2="192" y2="228.56" stroke="#000" stroke-width="1.3"/>
<text x="187.5" y="231.08" font-size="7px" font-weight="bold" text-anchor="end" stroke="#000" stroke-width="0.28">4</text>
<line x1="188.5" y1="216.68" x2="192" y2="216.68" stroke="#000" stroke-width="1.3"/>
<text x="187.5" y="219.2" font-size="7px" font-weight="bold" text-anchor="end" stroke="#000" stroke-width="0.28">5</text>
<line x1="188.5" y1="204.8" x2="192" y2="204.8" stroke="#000" stroke-width="1.3"/>
<text x="187.5" y="207.32" font-size="7px" font-weight="bold" text-anchor="end" stroke="#000" stroke-width="0.28">6</text>
<line x1="188.5" y1="192.92" x2="192" y2="192.92" stroke="#000" stroke-width="1.3"/>
<text x="187.5" y="195.44" font-size="7px" font-weight="bold" text-anchor="end" stroke="#000" stroke-width="0.28">7</text>
<line x1="191.25" y1="264.2" x2="298.3" y2="264.2" stroke="#000" stroke-width="1.3"/>
<rect x="196.4" y="223.93" width="5.3" height="39.97" fill="#777" stroke="#111" stroke-width="1.2"/>
<rect x="217.75" y="237.12" width="5.3" height="26.78" fill="#777" stroke="#111" stroke-width="1.2"/>
<rect x="239.1" y="240.68" width="5.3" height="23.22" fill="#777" stroke="#111" stroke-width="1.2"/>
<rect x="260.45" y="254.35" width="5.3" height="9.55" fill="#777" stroke="#111" stroke-width="1.2"/>
<rect x="281.8" y="228.21" width="5.3" height="35.69" fill="#777" stroke="#111" stroke-width="1.2"/>
<line x1="287.6" y1="263" x2="294.4" y2="263" stroke="#000" stroke-width="0.9"/>
<text transform="translate(250 262.6) rotate(-90)" font-size="6.4px" font-style="italic" stroke="#000" stroke-width="0.25">nd</text>
<text transform="translate(167.5 228.6) rotate(-90)" font-size="7px" font-weight="bold" text-anchor="middle" stroke="#000" stroke-width="0.28">Fold increase in</text>
<text transform="translate(175.8 228.6) rotate(-90)" font-size="7px" font-weight="bold" text-anchor="middle" stroke="#000" stroke-width="0.28">CFSE<tspan font-size="4.06px" dy="-2.66">low</tspan><tspan dy="2.66"> CD4 T cells</tspan></text>
<text x="201.3" y="274" font-size="7.8px" font-weight="bold" text-anchor="middle" stroke="#000" stroke-width="0.28">1</text>
<text x="223.6" y="274" font-size="7.8px" font-weight="bold" text-anchor="middle" stroke="#000" stroke-width="0.28">2</text>
<text x="245" y="274" font-size="7.8px" font-weight="bold" text-anchor="middle" stroke="#000" stroke-width="0.28">3</text>
<text x="266.8" y="274" font-size="7.8px" font-weight="bold" text-anchor="middle" stroke="#000" stroke-width="0.28">4</text>
<text x="288" y="274" font-size="7.8px" font-weight="bold" text-anchor="middle" stroke="#000" stroke-width="0.28">4</text>
<path d="M195.6 274V277.4H271.3V274" fill="none" stroke="#000" stroke-width="1.4"/>
<path d="M280.2 274V277.4H294.6V274" fill="none" stroke="#000" stroke-width="1.4"/>
<text x="234.1" y="285.9" font-size="7.8px" font-weight="bold" text-anchor="middle" stroke="#000" stroke-width="0.28">1:50</text>
<text x="287.9" y="285.9" font-size="7.8px" font-weight="bold" text-anchor="middle" stroke="#000" stroke-width="0.28">1:20</text>
<line x1="196.2" y1="292.6" x2="296.4" y2="292.6" stroke="#000" stroke-width="1.3"/>
<text x="245.9" y="302.8" font-size="7.8px" font-weight="bold" text-anchor="middle" stroke="#000" stroke-width="0.28">SIV</text>
<rect x="272.4" y="180.8" width="12.8" height="3.2" fill="#777" stroke="#111" stroke-width="1"/>
<rect x="272.4" y="189.4" width="12.8" height="3.2" fill="#fff" stroke="#111" stroke-width="1"/>
<text x="286.5" y="184.6" font-size="6.2px" font-weight="bold" stroke="#000" stroke-width="0.28">pDC</text>
<text x="286.5" y="193.2" font-size="6.2px" font-weight="bold" stroke="#000" stroke-width="0.28">mDC</text>
<text x="10.6" y="344.3" font-size="14.6px" font-weight="bold" stroke="#000" stroke-width="0.28">B</text>
<line x1="52.3" y1="353.15" x2="52.3" y2="370.25" stroke="#000" stroke-width="1.3"/>
<line x1="48.7" y1="353.8" x2="52.3" y2="353.8" stroke="#000" stroke-width="1.3"/>
<text x="47.9" y="356.7" font-size="8px" font-weight="bold" text-anchor="end" stroke="#000" stroke-width="0.28">12</text>
<line x1="48.7" y1="361.4" x2="52.3" y2="361.4" stroke="#000" stroke-width="1.3"/>
<text x="47.9" y="364.3" font-size="8px" font-weight="bold" text-anchor="end" stroke="#000" stroke-width="0.28">10</text>
<line x1="48.7" y1="369.6" x2="55.7" y2="369.6" stroke="#000" stroke-width="1.3"/>
<text x="47.9" y="372.5" font-size="8px" font-weight="bold" text-anchor="end" stroke="#000" stroke-width="0.28">8</text>
<line x1="52.3" y1="376.9" x2="52.3" y2="434.05" stroke="#000" stroke-width="1.3"/>
<line x1="48.7" y1="433.4" x2="52.3" y2="433.4" stroke="#000" stroke-width="1.3"/>
<text x="47.9" y="436.3" font-size="8px" font-weight="bold" text-anchor="end" stroke="#000" stroke-width="0.28">1</text>
<line x1="48.7" y1="422.23" x2="52.3" y2="422.23" stroke="#000" stroke-width="1.3"/>
<text x="47.9" y="425.13" font-size="8px" font-weight="bold" text-anchor="end" stroke="#000" stroke-width="0.28">2</text>
<line x1="48.7" y1="411.06" x2="52.3" y2="411.06" stroke="#000" stroke-width="1.3"/>
<text x="47.9" y="413.96" font-size="8px" font-weight="bold" text-anchor="end" stroke="#000" stroke-width="0.28">3</text>
<line x1="48.7" y1="399.89" x2="52.3" y2="399.89" stroke="#000" stroke-width="1.3"/>
<text x="47.9" y="402.79" font-size="8px" font-weight="bold" text-anchor="end" stroke="#000" stroke-width="0.28">4</text>
<line x1="48.7" y1="388.72" x2="52.3" y2="388.72" stroke="#000" stroke-width="1.3"/>
<text x="47.9" y="391.62" font-size="8px" font-weight="bold" text-anchor="end" stroke="#000" stroke-width="0.28">5</text>
<line x1="48.7" y1="377.55" x2="55.7" y2="377.55" stroke="#000" stroke-width="1.3"/>
<text x="47.9" y="380.45" font-size="8px" font-weight="bold" text-anchor="end" stroke="#000" stroke-width="0.28">6</text>
<line x1="51.65" y1="433.4" x2="138.2" y2="433.4" stroke="#000" stroke-width="1.3"/>
<rect x="56.83" y="393.48" width="9.15" height="39.62" fill="#777" stroke="#111" stroke-width="1.25"/>
<line x1="61.4" y1="433.4" x2="61.4" y2="435.8" stroke="#000" stroke-width="1.2"/>
<rect x="73.93" y="381.3" width="9.15" height="51.8" fill="#777" stroke="#111" stroke-width="1.25"/>
<line x1="78.5" y1="433.4" x2="78.5" y2="435.8" stroke="#000" stroke-width="1.2"/>
<rect x="91.03" y="423.41" width="9.15" height="9.69" fill="#777" stroke="#111" stroke-width="1.25"/>
<line x1="95.6" y1="433.4" x2="95.6" y2="435.8" stroke="#000" stroke-width="1.2"/>
<rect x="108.12" y="377.87" width="9.15" height="55.23" fill="#777" stroke="#111" stroke-width="1.25"/>
<rect x="108.12" y="360.93" width="9.15" height="7.65" fill="#777" stroke="#111" stroke-width="1.25"/>
<line x1="112.7" y1="433.4" x2="112.7" y2="435.8" stroke="#000" stroke-width="1.2"/>
<rect x="125.23" y="377.87" width="9.15" height="55.23" fill="#777" stroke="#111" stroke-width="1.25"/>
<rect x="125.23" y="360.12" width="9.15" height="8.45" fill="#777" stroke="#111" stroke-width="1.25"/>
<line x1="129.8" y1="433.4" x2="129.8" y2="435.8" stroke="#000" stroke-width="1.2"/>
<text x="61.2" y="444.8" font-size="8.2px" font-weight="bold" text-anchor="middle" stroke="#000" stroke-width="0.28">1</text>
<text x="78.8" y="444.8" font-size="8.2px" font-weight="bold" text-anchor="middle" stroke="#000" stroke-width="0.28">1</text>
<text x="96" y="444.8" font-size="8.2px" font-weight="bold" text-anchor="middle" stroke="#000" stroke-width="0.28">2</text>
<text x="112.8" y="444.8" font-size="8.2px" font-weight="bold" text-anchor="middle" stroke="#000" stroke-width="0.28">3</text>
<text x="130" y="444.8" font-size="8.2px" font-weight="bold" text-anchor="middle" stroke="#000" stroke-width="0.28">4</text>
<path d="M54.6 446.4V449.9H67.2V446.4" fill="none" stroke="#000" stroke-width="1.4"/>
<path d="M76.6 446.4V449.9H133.4V446.4" fill="none" stroke="#000" stroke-width="1.4"/>
<text x="61.8" y="461.7" font-size="8.3px" font-weight="bold" text-anchor="middle" stroke="#000" stroke-width="0.28">1:50</text>
<text x="103.1" y="461.7" font-size="8.3px" font-weight="bold" text-anchor="middle" stroke="#000" stroke-width="0.28">1:20</text>
<line x1="55.8" y1="466.9" x2="128.9" y2="466.9" stroke="#000" stroke-width="1.3"/>
<text x="91.8" y="479.3" font-size="8.3px" font-weight="bold" text-anchor="middle" stroke="#000" stroke-width="0.28">SIV</text>
<text transform="translate(24.6 394) rotate(-90)" font-size="7.8px" font-weight="bold" text-anchor="middle" stroke="#000" stroke-width="0.28">Fold increase in</text>
<text transform="translate(33.6 394) rotate(-90)" font-size="7.8px" font-weight="bold" text-anchor="middle" stroke="#000" stroke-width="0.28">CFSE<tspan font-size="4.52px" dy="-2.96">low</tspan><tspan dy="2.96"> CD8 T cells</tspan></text>
<line x1="195.4" y1="353.25" x2="195.4" y2="370.95" stroke="#000" stroke-width="1.3"/>
<line x1="191.8" y1="353.9" x2="195.4" y2="353.9" stroke="#000" stroke-width="1.3"/>
<text x="191" y="356.8" font-size="8px" font-weight="bold" text-anchor="end" stroke="#000" stroke-width="0.28">12</text>
<line x1="191.8" y1="362.4" x2="195.4" y2="362.4" stroke="#000" stroke-width="1.3"/>
<text x="191" y="365.3" font-size="8px" font-weight="bold" text-anchor="end" stroke="#000" stroke-width="0.28">10</text>
<line x1="191.8" y1="370.3" x2="198.8" y2="370.3" stroke="#000" stroke-width="1.3"/>
<text x="191" y="373.2" font-size="8px" font-weight="bold" text-anchor="end" stroke="#000" stroke-width="0.28">8</text>
<line x1="195.4" y1="377.9" x2="195.4" y2="435.05" stroke="#000" stroke-width="1.3"/>
<line x1="191.8" y1="434.4" x2="195.4" y2="434.4" stroke="#000" stroke-width="1.3"/>
<text x="191" y="437.3" font-size="8px" font-weight="bold" text-anchor="end" stroke="#000" stroke-width="0.28">1</text>
<line x1="191.8" y1="423.23" x2="195.4" y2="423.23" stroke="#000" stroke-width="1.3"/>
<text x="191" y="426.13" font-size="8px" font-weight="bold" text-anchor="end" stroke="#000" stroke-width="0.28">2</text>
<line x1="191.8" y1="412.06" x2="195.4" y2="412.06" stroke="#000" stroke-width="1.3"/>
<text x="191" y="414.96" font-size="8px" font-weight="bold" text-anchor="end" stroke="#000" stroke-width="0.28">3</text>
<line x1="191.8" y1="400.89" x2="195.4" y2="400.89" stroke="#000" stroke-width="1.3"/>
<text x="191" y="403.79" font-size="8px" font-weight="bold" text-anchor="end" stroke="#000" stroke-width="0.28">4</text>
<line x1="191.8" y1="389.72" x2="195.4" y2="389.72" stroke="#000" stroke-width="1.3"/>
<text x="191" y="392.62" font-size="8px" font-weight="bold" text-anchor="end" stroke="#000" stroke-width="0.28">5</text>
<line x1="191.8" y1="378.55" x2="198.8" y2="378.55" stroke="#000" stroke-width="1.3"/>
<text x="191" y="381.45" font-size="8px" font-weight="bold" text-anchor="end" stroke="#000" stroke-width="0.28">6</text>
<line x1="194.75" y1="434.4" x2="281.6" y2="434.4" stroke="#000" stroke-width="1.3"/>
<rect x="199.93" y="398.16" width="8.75" height="35.94" fill="#777" stroke="#111" stroke-width="1.25"/>
<line x1="204.3" y1="434.4" x2="204.3" y2="436.8" stroke="#000" stroke-width="1.2"/>
<rect x="216.98" y="385.1" width="8.75" height="49" fill="#777" stroke="#111" stroke-width="1.25"/>
<line x1="221.35" y1="434.4" x2="221.35" y2="436.8" stroke="#000" stroke-width="1.2"/>
<rect x="234.03" y="430" width="8.75" height="4.1" fill="#777" stroke="#111" stroke-width="1.25"/>
<line x1="238.4" y1="434.4" x2="238.4" y2="436.8" stroke="#000" stroke-width="1.2"/>
<rect x="251.08" y="418.83" width="8.75" height="15.27" fill="#777" stroke="#111" stroke-width="1.25"/>
<line x1="255.45" y1="434.4" x2="255.45" y2="436.8" stroke="#000" stroke-width="1.2"/>
<rect x="268.12" y="400.96" width="8.75" height="33.14" fill="#777" stroke="#111" stroke-width="1.25"/>
<line x1="272.5" y1="434.4" x2="272.5" y2="436.8" stroke="#000" stroke-width="1.2"/>
<text x="203.8" y="445.9" font-size="8.2px" font-weight="bold" text-anchor="middle" stroke="#000" stroke-width="0.28">1</text>
<text x="221.5" y="445.9" font-size="8.2px" font-weight="bold" text-anchor="middle" stroke="#000" stroke-width="0.28">1</text>
<text x="238.9" y="445.9" font-size="8.2px" font-weight="bold" text-anchor="middle" stroke="#000" stroke-width="0.28">2</text>
<text x="255.2" y="445.9" font-size="8.2px" font-weight="bold" text-anchor="middle" stroke="#000" stroke-width="0.28">3</text>
<text x="273" y="445.9" font-size="8.2px" font-weight="bold" text-anchor="middle" stroke="#000" stroke-width="0.28">4</text>
<path d="M197.4 447.4V450.9H210V447.4" fill="none" stroke="#000" stroke-width="1.4"/>
<path d="M218.8 447.4V450.9H275.8V447.4" fill="none" stroke="#000" stroke-width="1.4"/>
<text x="205" y="462.7" font-size="8.3px" font-weight="bold" text-anchor="middle" stroke="#000" stroke-width="0.28">1:50</text>
<text x="245.6" y="462.7" font-size="8.3px" font-weight="bold" text-anchor="middle" stroke="#000" stroke-width="0.28">1:20</text>
<line x1="198.5" y1="467.7" x2="272" y2="467.7" stroke="#000" stroke-width="1.3"/>
<text x="234.7" y="480.2" font-size="8.3px" font-weight="bold" text-anchor="middle" stroke="#000" stroke-width="0.28">SIV</text>
<text transform="translate(167.6 394.6) rotate(-90)" font-size="7.8px" font-weight="bold" text-anchor="middle" stroke="#000" stroke-width="0.28">Fold increase in</text>
<text transform="translate(176.8 394.6) rotate(-90)" font-size="7.8px" font-weight="bold" text-anchor="middle" stroke="#000" stroke-width="0.28">CFSE<tspan font-size="4.52px" dy="-2.96">low</tspan><tspan dy="2.96"> CD4 T cells</tspan></text>
<text x="317.2" y="18.4" font-size="15.4px" font-weight="bold" stroke="#000" stroke-width="0.28">C</text>
<text x="372.5" y="20.7" font-size="9.3px" font-weight="bold" text-anchor="middle" stroke="#000" stroke-width="0.28">No DC</text>
<text x="425.7" y="20.1" font-size="9.3px" font-weight="bold" text-anchor="middle" stroke="#000" stroke-width="0.28">+pDC</text>
<text x="486.6" y="20.1" font-size="9.3px" font-weight="bold" text-anchor="middle" stroke="#000" stroke-width="0.28">+mDC</text>
<text transform="translate(330.2 56) rotate(-90)" font-size="9.2px" text-anchor="middle" stroke="#000" stroke-width="0.14">IFN-γ</text>
<text x="421.5" y="98.3" font-size="9px" text-anchor="middle" stroke="#000" stroke-width="0.14">CD3</text>
<line x1="338" y1="86.5" x2="338" y2="35" stroke="#000" stroke-width="1.9"/>
<path d="M338 31.4L336 36.5L340 36.5Z" fill="#000"/>
<line x1="340.5" y1="86.4" x2="512.5" y2="86.4" stroke="#000" stroke-width="1.7"/>
<path d="M516 86.4L511.6 84.4L511.6 88.4Z" fill="#000"/>
<rect x="341.2" y="29.6" width="54.5" height="53.4" fill="none" stroke="#959595" stroke-width="0.85"/>
<line x1="341.8" y1="82.9" x2="395.1" y2="82.9" stroke="#4a4a4a" stroke-width="0.8" stroke-dasharray="1.2 1.1 0.5 0.9 0.4 1.3 1.6 1.2 0.5 0.8"/>
<line x1="342" y1="75" x2="342" y2="41.6" stroke="#888" stroke-width="0.7" stroke-dasharray="0.5 4.3 0.5 2.2 0.5 1.3"/>
<line x1="341.4" y1="82.7" x2="341.4" y2="76.2" stroke="#444" stroke-width="0.8" stroke-dasharray="2.2 0.6 1.2 0.7 0.6 0.8"/>
<line x1="395.5" y1="82.7" x2="395.5" y2="78" stroke="#777" stroke-width="0.7" stroke-dasharray="1.6 0.8 0.8 1.0"/>
<rect x="370.3" y="31.2" width="24.6" height="25" fill="none" stroke="#858585" stroke-width="0.9"/>
<text x="382.6" y="36.3" font-size="6.5px" text-anchor="middle" fill="#1c1c1c" stroke="#1c1c1c" stroke-width="0.08">10.4</text>
<rect x="399.6" y="29.6" width="54.8" height="53.4" fill="none" stroke="#959595" stroke-width="0.85"/>
<line x1="400.2" y1="82.9" x2="453.8" y2="82.9" stroke="#4a4a4a" stroke-width="0.8" stroke-dasharray="1.2 1.1 0.5 0.9 0.4 1.3 1.6 1.2 0.5 0.8"/>
<line x1="400.4" y1="75" x2="400.4" y2="41.6" stroke="#888" stroke-width="0.7" stroke-dasharray="0.5 4.3 0.5 2.2 0.5 1.3"/>
<line x1="399.8" y1="82.7" x2="399.8" y2="76.2" stroke="#444" stroke-width="0.8" stroke-dasharray="2.2 0.6 1.2 0.7 0.6 0.8"/>
<line x1="454.2" y1="82.7" x2="454.2" y2="78" stroke="#777" stroke-width="0.7" stroke-dasharray="1.6 0.8 0.8 1.0"/>
<rect x="428.3" y="31.2" width="24.7" height="25.1" fill="none" stroke="#858585" stroke-width="0.9"/>
<text x="440.4" y="36.3" font-size="6.5px" text-anchor="middle" fill="#1c1c1c" stroke="#1c1c1c" stroke-width="0.08">29.9</text>
<rect x="456.9" y="30.2" width="53.9" height="53.2" fill="none" stroke="#959595" stroke-width="0.85"/>
<line x1="457.5" y1="83.3" x2="510.2" y2="83.3" stroke="#4a4a4a" stroke-width="0.8" stroke-dasharray="1.2 1.1 0.5 0.9 0.4 1.3 1.6 1.2 0.5 0.8"/>
<line x1="457.7" y1="75.4" x2="457.7" y2="42.2" stroke="#888" stroke-width="0.7" stroke-dasharray="0.5 4.3 0.5 2.2 0.5 1.3"/>
<line x1="457.1" y1="83.1" x2="457.1" y2="76.6" stroke="#444" stroke-width="0.8" stroke-dasharray="2.2 0.6 1.2 0.7 0.6 0.8"/>
<line x1="510.6" y1="83.1" x2="510.6" y2="78.4" stroke="#777" stroke-width="0.7" stroke-dasharray="1.6 0.8 0.8 1.0"/>
<rect x="484.7" y="32.2" width="24.7" height="24.8" fill="none" stroke="#858585" stroke-width="0.9"/>
<text x="496.9" y="37.4" font-size="6.5px" text-anchor="middle" fill="#1c1c1c" stroke="#1c1c1c" stroke-width="0.08">4.68</text>
<path d="M385.9 65.99h0.7M384.86 73.98h0.7M385.43 65.62h0.7M386.87 72.12h0.7M384.12 66.02h0.7M386.09 72.94h0.7M386.73 75.92h0.7M385.16 70.03h0.7M385.14 79.65h0.7M384.21 67.57h0.7M385.68 70.74h0.7M385.43 69.16h0.7M386.37 71.38h0.7M385.76 74.35h0.7M386.19 63.96h0.7M385.32 65.29h0.7M385.5 65.09h0.7M385.74 67.6h0.7M385.44 82.28h0.7M383.85 73.43h0.7M386.3 69.36h0.7M385.96 70.07h0.7M384.24 70.77h0.7M384.48 72.43h0.7M384.87 77.14h0.7M385.5 72.87h0.7M384.75 73.83h0.7M385.35 74h0.7M386.28 74.95h0.7M384.52 70.91h0.7M386.09 73.16h0.7M385.03 76.31h0.7M386.13 72.4h0.7M385.76 71.42h0.7M384.75 71.06h0.7M385.06 66.75h0.7M387.39 72.53h0.7M386.82 73.92h0.7M386.37 73.2h0.7M386.46 71.06h0.7M385.09 76.79h0.7M387.75 67.9h0.7M386.71 71.28h0.7M384.08 73.55h0.7M387.72 79.16h0.7M386.44 71.04h0.7M384.39 70.86h0.7M385.96 70h0.7M386.39 74.42h0.7M387.19 70.61h0.7M386.4 67.66h0.7M385.13 74.4h0.7M384.61 63.95h0.7M386.16 71.25h0.7M384.24 75.97h0.7M386.31 70.41h0.7M382.59 69.83h0.7M388.39 73.3h0.7M384.35 74.02h0.7M385.76 68.92h0.7M386.27 79.36h0.7M387.45 70.81h0.7M387.8 70.11h0.7M384.96 67.93h0.7M387.28 73h0.7M385.88 72.75h0.7M384.8 63.84h0.7M384.88 68.2h0.7M385.08 72.51h0.7M385.6 73.24h0.7M385.64 69.2h0.7M386.57 71.94h0.7M385.23 68.68h0.7M387.18 65.49h0.7M385.28 75.63h0.7M384.04 68.68h0.7M385.76 71.01h0.7M385.81 78.25h0.7M382.73 67.6h0.7M385.74 75.47h0.7M385.68 64.61h0.7M389.01 64.61h0.7M386.22 74.43h0.7M382.88 69.77h0.7M383.59 69.94h0.7M382.83 72.55h0.7M386.86 67.13h0.7M384.02 76.32h0.7M386.4 64.88h0.7M384.27 73.47h0.7M384.7 67.9h0.7M384.77 66.12h0.7M386.36 74.9h0.7M385.39 77.8h0.7M384.29 69.91h0.7M383.88 69.95h0.7M386.19 64h0.7M386.55 75.58h0.7M385.82 75.2h0.7M385.6 67.81h0.7M384.17 69.05h0.7M384.02 64.31h0.7M385.69 70.38h0.7M387.18 68.69h0.7M386.23 71.04h0.7M384.47 74.79h0.7M386.22 63.31h0.7M387 67.92h0.7M386.76 71.62h0.7M382.9 73.15h0.7M384.66 72.99h0.7M385.01 67.68h0.7M386.61 73.17h0.7M383.43 74.04h0.7M382.74 68.27h0.7M386.24 70.03h0.7M385.78 67.65h0.7M386.76 71.23h0.7M384.57 67.44h0.7M387.49 67.65h0.7M385.35 74.33h0.7M385.64 71.21h0.7M385.24 71.13h0.7M383.99 69.2h0.7M387.4 68.09h0.7M385.58 72.33h0.7M385.58 69.63h0.7M384.69 71.67h0.7M385.8 71.11h0.7M384.6 67.71h0.7M384.33 66.8h0.7M382.55 73.6h0.7M384.76 69.44h0.7M385.61 68.17h0.7M385.6 74.46h0.7M384.75 69.9h0.7M386.62 69.94h0.7M384.13 68.98h0.7M384.33 65.85h0.7M386.64 65.4h0.7M385.2 71.68h0.7M384.68 75.65h0.7M386.5 73.11h0.7M383.91 64.83h0.7M386.51 67.06h0.7M383.97 75.07h0.7M385.02 74.17h0.7M384.84 68.98h0.7M383.32 69.23h0.7M384.14 66.8h0.7M388.11 72.17h0.7M385.08 80.23h0.7M385.1 64.2h0.7M387.7 67.02h0.7M384.59 72.46h0.7M386.17 73.77h0.7M384.97 64.55h0.7M385.52 69.54h0.7M385.08 70.88h0.7M384.77 71.08h0.7M387.19 67.17h0.7M386.05 71.7h0.7M385.33 64.66h0.7M383.89 73.35h0.7M385.01 74.35h0.7M385.33 71.85h0.7M387 71.19h0.7M387.36 68.95h0.7M384.44 67.58h0.7M384.17 72.96h0.7M386.58 69.07h0.7M383.28 74.76h0.7M387.85 72.22h0.7M385.2 74.7h0.7M385.16 68.24h0.7M385.22 66.25h0.7M385.32 69.73h0.7M385.21 74.66h0.7M386.58 65.15h0.7M385.01 66.54h0.7M385.08 69.92h0.7M385.23 66.79h0.7M384.74 78.26h0.7M386.88 69.91h0.7M386.45 73.08h0.7M383.04 73.5h0.7M385.64 67.29h0.7M387.12 72.2h0.7M385.2 72.09h0.7M385.24 70.54h0.7M386.34 71.29h0.7M384.52 69.18h0.7M386.73 67.32h0.7M386.74 75.01h0.7M386.54 73.48h0.7M386.33 70.39h0.7M385.28 66.61h0.7M386.33 67.76h0.7M385.37 68.31h0.7M387.19 71.84h0.7M384.44 67.55h0.7M384.12 73.34h0.7M384.79 72.03h0.7M383.25 70.02h0.7M384.87 72.97h0.7M387.82 67.16h0.7M389.89 72.96h0.7M385.06 71.87h0.7M387.51 70.79h0.7M386.06 70.3h0.7M384.36 72.26h0.7M384.87 70.86h0.7M386.43 65.92h0.7M385.59 72.8h0.7M383.27 67.13h0.7M385.38 72.15h0.7M385.44 64.34h0.7M385.47 64.92h0.7M385.94 70.91h0.7M385.71 71.18h0.7M385.09 66.3h0.7M385.22 68.56h0.7M386.27 71.37h0.7M382.29 76.29h0.7M385.25 71.84h0.7M386.67 78.59h0.7M385.9 64.45h0.7M386.66 68.53h0.7M385.39 66.6h0.7M385.38 69.93h0.7M383.36 68.3h0.7M386.75 72.06h0.7M384.24 70.15h0.7M386.21 71.13h0.7M385.48 69.77h0.7M384.1 75.47h0.7M383.28 68.39h0.7M384.65 67.88h0.7M384.73 66.94h0.7M385.25 76.87h0.7M388.21 69.99h0.7M383.35 70.18h0.7M384.33 71.85h0.7M383.94 76.3h0.7M383.63 68.31h0.7M384.23 70.75h0.7M385.03 70.16h0.7M386.59 68.19h0.7M385.58 73.77h0.7M384.31 67.16h0.7M388.49 71.37h0.7M384.57 68.76h0.7M384.25 67.89h0.7M385.27 66.9h0.7M385.5 75.56h0.7M383.61 68.56h0.7M385.47 71.17h0.7M384.34 65.98h0.7M386.76 70.25h0.7M385.76 72.66h0.7M385.89 69.24h0.7M388.21 70.36h0.7M385.1 66.32h0.7M385.17 74.97h0.7M385.45 75.53h0.7M385.04 70.92h0.7M384.49 65.43h0.7M386.31 78.37h0.7M386.69 72.58h0.7M386.78 72.45h0.7M385.23 69.44h0.7M385.06 73.94h0.7M385.26 65.61h0.7M386.22 68.44h0.7M384.29 67.81h0.7M387.36 69.2h0.7M385.7 70.23h0.7M385.87 70.43h0.7M387.24 73.74h0.7M386.87 64.48h0.7M385.1 70.39h0.7M385.29 79.03h0.7M386.71 77.4h0.7M386.04 66.69h0.7M385.34 73.05h0.7M385.19 62.02h0.7M384.15 69.71h0.7M385.19 76.97h0.7M385.14 68.98h0.7M384.62 67.58h0.7M385.89 70.74h0.7M385.39 68.57h0.7M386.04 65.4h0.7M385.74 67.7h0.7M384.93 67.14h0.7M383.99 71.17h0.7M385.45 79.29h0.7M384.59 70.14h0.7M387.23 76.14h0.7M383.79 71.48h0.7M386.22 68.58h0.7M384.11 68.56h0.7M384.67 66.12h0.7M384.69 70.45h0.7M388.99 70.47h0.7M384.2 76.78h0.7M385.61 71.64h0.7M386.78 69.9h0.7M385.11 69.2h0.7M385.38 69.05h0.7M386.47 75.03h0.7M385.04 65.57h0.7M386.42 67.53h0.7M386.61 71.21h0.7M383.13 70.18h0.7M385.78 72.02h0.7M383.87 72.23h0.7M384.64 70.69h0.7M385.91 67.93h0.7M384.38 71.67h0.7M383.04 64.24h0.7M386.81 68.33h0.7M382.7 70.2h0.7M385.97 67.29h0.7M386.96 76.42h0.7M385.75 71.72h0.7M385.01 66.59h0.7M384.57 69.2h0.7M385.01 70.63h0.7M387.29 71.61h0.7M386.02 73.07h0.7M383.65 69.53h0.7M386.17 69.99h0.7M386.88 66.77h0.7M385.95 69.2h0.7M383.99 69.22h0.7M384.05 77.84h0.7M384.81 73.71h0.7M384.49 71.4h0.7M386.59 68.9h0.7M384.44 77.4h0.7M386.68 70.44h0.7M386.32 68.13h0.7M386.18 67.57h0.7M387.01 71.97h0.7M384.01 71.71h0.7M384.12 72.79h0.7M387.39 73.1h0.7M384.81 72.54h0.7M385.71 74.69h0.7M385.12 65.92h0.7M385.12 75.51h0.7M385.07 70.84h0.7M384.99 64.33h0.7M385.76 71.68h0.7M382.89 69.77h0.7M386.4 74.8h0.7M387.13 74.08h0.7M384.78 68.8h0.7M387.59 71.53h0.7M385.27 64.33h0.7M386.14 67.83h0.7M385.13 75.67h0.7M385.55 65.93h0.7M383.64 69.37h0.7M384.85 73.59h0.7M383.86 72.86h0.7M383.7 74.35h0.7M383.24 74.19h0.7M385.03 75.37h0.7M385.26 64.8h0.7M384.26 71.61h0.7M385.82 68.62h0.7M381.75 69.79h0.7M386.01 68.85h0.7M386.76 71.47h0.7M388.43 67.91h0.7M385.89 73.28h0.7M386.69 74.31h0.7M384.72 70.77h0.7M386.03 74.09h0.7M384.43 63.59h0.7M385.64 72.08h0.7M386.3 71.41h0.7M387.48 70.92h0.7M385.04 68.28h0.7M386.43 71.56h0.7M387.36 73.24h0.7M386.88 68.68h0.7M384.2 72.08h0.7M388.06 69.91h0.7M384.91 73.23h0.7M384.85 61.77h0.7M385.59 67.87h0.7M386.43 78.72h0.7M384.33 71.53h0.7M385.28 66.13h0.7M389.05 68.72h0.7M384.77 68.94h0.7M385.6 74.46h0.7" stroke="#000" stroke-width="0.7" fill="none"/>
<path d="M388.02 64.62h0.6M382.79 68.86h0.6M386.67 71.71h0.6M387.07 68.75h0.6M383.66 73.91h0.6M381.64 60.84h0.6M388.26 69.71h0.6M388.66 74.71h0.6M385.64 78.47h0.6M382.24 74.95h0.6M386.46 73.33h0.6M384.64 69.87h0.6M385.87 65.17h0.6M384.79 75.92h0.6M384.14 72.64h0.6M383.38 71.42h0.6M385.12 71.96h0.6M384.27 71.69h0.6M384.98 64.89h0.6M389.07 74.86h0.6M387.29 68.81h0.6M386.46 73.64h0.6M386.18 63.16h0.6M387.89 65.84h0.6M386.96 73.77h0.6M386.55 58.63h0.6M382.79 73.38h0.6M385.77 74.57h0.6M384.07 69.46h0.6M384.76 65.62h0.6M386.05 83.88h0.6M384.17 71.22h0.6M384.48 67.46h0.6M387.32 66.22h0.6M387.44 69.06h0.6M387.36 64.99h0.6M387.06 70.18h0.6M383.67 69.82h0.6M384.64 75.63h0.6M383.69 69.62h0.6M384.74 71.2h0.6M386.36 71.54h0.6M382.75 67.13h0.6M387.62 72.2h0.6M383.08 73.36h0.6M386.45 72.96h0.6M386.54 71.55h0.6M386.05 68.81h0.6M384.49 74.38h0.6M385.41 63.68h0.6M381.54 71.16h0.6M386.79 67.19h0.6M385.8 69.61h0.6M387.29 64.51h0.6M385.16 78.02h0.6M383.28 66.93h0.6M385.83 74.22h0.6M388.02 66.65h0.6M386.93 73.66h0.6M385.42 62.21h0.6M382.91 73.05h0.6M388.75 74.39h0.6M384.01 74.85h0.6M387.5 67.04h0.6M388.3 74.67h0.6M385.38 75.58h0.6M381.72 68.41h0.6M390.61 73.75h0.6M384.61 68.17h0.6M386.42 73.16h0.6M384.29 64h0.6M389.46 65.25h0.6M387.32 67h0.6M389.77 78.74h0.6M389.19 76.57h0.6M384.95 64.62h0.6M385.02 66.95h0.6M381.91 81.83h0.6M382.88 72.76h0.6M388.46 76.19h0.6M389.87 67.95h0.6M388.47 70.63h0.6M384.37 71.67h0.6M385.35 68.55h0.6M385.88 73.02h0.6M385.18 80.69h0.6M384.11 68.15h0.6M382.73 66.73h0.6M387.36 65.77h0.6M385.22 70.57h0.6M387.95 71.84h0.6M387.3 73.01h0.6M385.06 67.73h0.6M385.41 66.73h0.6M384.86 66.54h0.6M385.13 69.5h0.6M384.55 69.07h0.6M384.85 76.06h0.6M385.97 65.65h0.6M383.55 65.29h0.6M381.93 70.67h0.6M385.99 55.49h0.6M381.92 74.85h0.6M386.73 66.17h0.6M384.14 61.16h0.6M385.23 64.76h0.6M387.1 61.23h0.6M386.25 69.64h0.6M381.12 68.79h0.6M382.7 69.6h0.6M383.72 70.34h0.6M385.15 68.84h0.6M387.29 73.7h0.6M385.57 65.68h0.6M386.69 76.72h0.6M385.36 66.95h0.6M387.58 68.7h0.6M386.43 70.45h0.6M382.57 80.03h0.6M382.25 65.64h0.6M387.13 62.97h0.6M389.19 71.59h0.6M384.12 61.22h0.6M387.86 76.65h0.6M387.52 74.19h0.6M385.58 70.44h0.6M387.45 70.44h0.6M386.29 69.55h0.6M383.12 76.7h0.6M386.73 66.85h0.6M385.27 69.09h0.6M386.51 79.53h0.6M387.89 68.38h0.6M383.16 81.38h0.6M385.84 67.22h0.6M390.01 67.37h0.6M384.72 72.61h0.6M383.85 72.46h0.6M385.82 67.52h0.6M380.65 80.81h0.6M388.57 72.15h0.6M389.83 73.56h0.6M385.92 72.28h0.6M383.75 69.7h0.6M383 77.5h0.6M384.46 69.73h0.6M381.17 66.69h0.6M385.89 68.54h0.6M387.46 70.93h0.6M384.22 69.55h0.6" stroke="#333" stroke-width="0.6" fill="none"/>
<path d="M388.72 43.16h0.6M390 44.42h0.6M387.71 54.29h0.6M388.02 57.18h0.6M387.91 47.57h0.6M389.29 54.23h0.6M385.86 59.34h0.6M389.22 52.57h0.6M390.75 44.27h0.6M387.35 45.92h0.6M387.55 60.32h0.6M385.9 54.34h0.6M386.91 45.37h0.6M387.56 53.72h0.6M387.06 41.07h0.6M384.68 61.61h0.6M387.23 49.13h0.6M387.57 51.15h0.6M387.85 51.21h0.6M389.33 40.04h0.6M383.35 52.79h0.6M390.47 45.54h0.6M387.19 44.77h0.6M385.17 57.47h0.6M387 41h0.6M388.44 45.56h0.6M388.69 56.38h0.6M386.79 44.66h0.6M387.85 45.42h0.6M383.79 51.61h0.6M388 43.29h0.6M386.43 59.63h0.6M385.63 61.72h0.6M389.71 39.77h0.6M391.03 49.62h0.6M389.03 56.26h0.6M385.73 47.85h0.6M389.83 60.37h0.6M386.51 50.5h0.6M387.57 43.14h0.6M385.91 51.79h0.6M387.97 53.83h0.6M388.57 47.27h0.6M387.3 54.14h0.6M386.38 57.01h0.6M386.89 50.88h0.6M386.36 50.63h0.6M388.77 58.44h0.6M385.86 54.74h0.6M386.87 50.97h0.6M386.15 60.89h0.6M386.09 43h0.6M386.35 56.93h0.6M384.6 42.8h0.6M387.92 52.99h0.6M388.71 44.41h0.6M386.66 49.13h0.6M390.09 56.78h0.6M385.1 57.09h0.6M387.97 57.2h0.6M388.58 44.43h0.6M386.1 50.25h0.6M387.09 44.09h0.6M388.96 52.34h0.6M387.34 50.48h0.6M388.44 39.81h0.6M390 52.73h0.6M387.37 55.44h0.6M383.61 52.17h0.6M385.16 59.08h0.6M389.4 43.14h0.6M387.42 42.49h0.6M385.62 39.41h0.6M383.08 50.41h0.6M387.98 49h0.6M390.43 49.16h0.6M384.92 45.05h0.6M382.27 57.37h0.6M388.84 40.67h0.6M385.52 59.87h0.6M386.5 52.08h0.6M386.48 51.49h0.6M384.92 57.21h0.6M388.49 44.47h0.6M389.62 42.36h0.6M388.23 46.15h0.6M386.68 39.97h0.6M389.64 46.23h0.6M386.81 53.29h0.6M388.39 51.09h0.6M385.58 45.09h0.6M388.46 52.54h0.6M389.33 41.03h0.6M389.46 57.87h0.6M387.72 42.95h0.6M388.47 44.86h0.6M386.48 42.68h0.6M388.79 54.89h0.6M388.37 58.11h0.6M389.07 57.09h0.6M387.01 40.41h0.6M384.79 48.44h0.6M387.26 47.38h0.6M387.17 43.98h0.6M385.01 61.32h0.6M389.1 39.97h0.6M389.2 50.26h0.6M387.67 56.51h0.6M388.85 61.68h0.6M388.53 42.33h0.6M385.24 49.47h0.6M385.66 56.13h0.6M387.11 39.9h0.6M389 44.53h0.6M388.59 59.47h0.6M387.99 42.26h0.6M389.47 48.04h0.6M385.78 45.86h0.6M387.08 48.76h0.6M390.9 40.76h0.6M388.78 39.79h0.6M388.7 61.91h0.6M382.93 56.56h0.6M383.43 55.88h0.6M385.79 44.29h0.6M389.64 44.82h0.6M390.51 51.69h0.6M386.29 44.56h0.6M385.23 49.62h0.6M384.52 60.45h0.6M385.55 47.37h0.6M388.59 46.75h0.6M385.9 61.57h0.6M390.95 53.05h0.6M389.34 39.91h0.6M385.93 48.27h0.6M387.5 53.95h0.6M387.5 40.35h0.6M389.07 46.89h0.6M388.82 54.98h0.6M385.99 58.88h0.6M388.94 52.59h0.6M387.86 59.39h0.6M387.09 49.64h0.6M387.89 48.04h0.6M388.15 58.39h0.6M386.72 47.77h0.6M385.43 56.97h0.6M390.23 43.95h0.6M387.44 46.99h0.6" stroke="#4a4a4a" stroke-width="0.6" fill="none"/>
<path d="M377.65 66.39h0.55M379.7 71.82h0.55M378.89 61.45h0.55M381.15 61.48h0.55M382.25 63.69h0.55M381.59 69.99h0.55M377.01 64.36h0.55M379.99 58.47h0.55M382.21 67.33h0.55M379.47 63.37h0.55M378.43 61.58h0.55M376.79 64.13h0.55M380.49 62.41h0.55M376.49 65.22h0.55M377.1 68.63h0.55M375.51 71.4h0.55M375.01 68.11h0.55M380.14 66.97h0.55M375.4 57.8h0.55M378.35 68.58h0.55M375.8 72.74h0.55M374.93 58.48h0.55M376.53 57.09h0.55M377.64 65.58h0.55M380.23 65.91h0.55M377.11 73.93h0.55M377.17 66.56h0.55M381.13 56.4h0.55M379.04 59.12h0.55M379.48 69.75h0.55M381.15 66.82h0.55M377.52 63.55h0.55M379.85 66.38h0.55M374.61 69.17h0.55" stroke="#666" stroke-width="0.55" fill="none"/>
<path d="M442.26 61.85h0.7M443.37 70.84h0.7M442.26 67.61h0.7M442.58 66.61h0.7M441.86 78.59h0.7M444.14 74.28h0.7M443.77 69.76h0.7M445.54 67.73h0.7M443.47 70.77h0.7M443.77 68.61h0.7M443.14 65.12h0.7M444.27 66.89h0.7M441.05 71.09h0.7M444.78 68.27h0.7M442.18 64.6h0.7M443.34 72.45h0.7M441.99 67.49h0.7M442.78 69.61h0.7M444.07 69.76h0.7M443.08 71.43h0.7M443.55 67.23h0.7M443.74 68.69h0.7M443.22 67.22h0.7M442.79 67.02h0.7M445.03 69.56h0.7M444.23 67.19h0.7M443.66 70.21h0.7M442.77 71.35h0.7M443.91 70.96h0.7M443.78 57.08h0.7M446.09 71.08h0.7M443.62 65.4h0.7M442.23 70.23h0.7M444.1 73.14h0.7M442.07 66.3h0.7M446.49 67.6h0.7M440.24 76.42h0.7M444.2 62.79h0.7M442.68 68.66h0.7M443.64 71.1h0.7M443.86 70.01h0.7M445.03 65.3h0.7M444.93 67.45h0.7M443.56 71.4h0.7M443.45 69.5h0.7M443.17 62.71h0.7M441.38 70.5h0.7M444.69 63.91h0.7M441.46 71.8h0.7M443.45 70.61h0.7M443.08 72.38h0.7M442.54 68.26h0.7M443.34 69.64h0.7M443.08 66.77h0.7M444.26 66.43h0.7M441.69 65.48h0.7M444.78 65.71h0.7M444.32 67.28h0.7M442.83 71.55h0.7M444.18 71.62h0.7M442.58 68.87h0.7M441.82 68.81h0.7M442.76 68.07h0.7M443.96 70.53h0.7M444.57 66.81h0.7M443.59 73.13h0.7M444.12 66.47h0.7M442.95 60.6h0.7M446.17 71.03h0.7M445.36 66.47h0.7M446.02 77.05h0.7M444.56 60.88h0.7M444.86 69.68h0.7M442.7 68.4h0.7M445.46 68.23h0.7M443.12 71.92h0.7M444.66 70.34h0.7M443.45 70.98h0.7M442.59 66.74h0.7M442.8 67.5h0.7M441.97 63.55h0.7M442.01 72.05h0.7M443.46 64.47h0.7M445.19 74.03h0.7M442.19 67.58h0.7M442.36 67.15h0.7M444.11 67.11h0.7M442.59 65.32h0.7M443.47 68.11h0.7M442.54 66.35h0.7M442.63 65.08h0.7M443.18 70.83h0.7M444.02 58.21h0.7M442.34 68.77h0.7M439.56 68.12h0.7M444.76 63.25h0.7M446.43 76.44h0.7M443.55 66.45h0.7M441.85 71.72h0.7M442.53 75.08h0.7M441.96 70.24h0.7M443.48 70.28h0.7M441.95 72.78h0.7M445.95 68.97h0.7M443.91 64.84h0.7M442.83 70.53h0.7M445.35 68.07h0.7M444.27 72.99h0.7M441.97 69.94h0.7M445.92 69.32h0.7M441.67 72.68h0.7M442.83 61.76h0.7M442.76 69.58h0.7M443.95 67.93h0.7M443.79 72.14h0.7M441.58 73.38h0.7M444.08 70.64h0.7M444.89 63.79h0.7M441.92 63.41h0.7M445.25 78.35h0.7M445.33 70.32h0.7M441.98 73.03h0.7M445.4 70.7h0.7M443.6 68.44h0.7M444.44 67.37h0.7M442.76 67.06h0.7M442.43 64.7h0.7M444.14 69.77h0.7M442.15 67.64h0.7M443.99 70.2h0.7M442.83 73.48h0.7M444.16 67.55h0.7M443.43 74.37h0.7M442.24 68.71h0.7M444.73 67.67h0.7M445.02 72h0.7M444.41 63.23h0.7M444.22 65.75h0.7M443.41 60.66h0.7M445.05 65.89h0.7M445.27 69.43h0.7M446.03 67.46h0.7M445.94 67.44h0.7M442.25 67.29h0.7M442.96 72.17h0.7M441.68 68.8h0.7M443.65 67.79h0.7M443.99 66.51h0.7M444.38 60.89h0.7M445.41 67.56h0.7M442.65 67.77h0.7M443.86 67.42h0.7M442.87 71.11h0.7M444.03 66.19h0.7M441.12 71.92h0.7M442.7 65.3h0.7M445.18 75.05h0.7M444.18 71.83h0.7M444.83 65.05h0.7M442.48 67.44h0.7M441.52 75.86h0.7M443.78 73.9h0.7M443.72 65.75h0.7M443.73 66.02h0.7M442.01 66.72h0.7M442.82 78.42h0.7M443.44 72.51h0.7M441.78 71.41h0.7M439.59 65.32h0.7M444.11 72.56h0.7M444.48 64.84h0.7M447.5 71.11h0.7M444.76 69.85h0.7M444.56 71.18h0.7M442.94 68.92h0.7M445.19 71.53h0.7M442.17 64.88h0.7M445.95 68.86h0.7M441.24 68.27h0.7M444.54 71.87h0.7M443.77 75.9h0.7M442.52 76h0.7M443.69 72.22h0.7M443.18 64.79h0.7M445.03 73.73h0.7M444.95 67.67h0.7M444.73 72.21h0.7M443.92 70.03h0.7M443.42 66.09h0.7M442.5 69.45h0.7M443.72 68h0.7M444.95 69.77h0.7M443.03 65.37h0.7M442.99 69.97h0.7M442.87 70.19h0.7M443.19 73.2h0.7M444.39 64.99h0.7M440.87 74.91h0.7M443.6 68.56h0.7M445.55 72.68h0.7M441.42 68.46h0.7M444.88 71.39h0.7M443.62 70.66h0.7M446.51 66.14h0.7M441.75 64.77h0.7M443.9 72.48h0.7M444 71.4h0.7M445.45 74.99h0.7M444.79 67.07h0.7M441.51 64.86h0.7M442.92 73.28h0.7M443.49 61.43h0.7M444.15 66.67h0.7M442.47 68.82h0.7M444.46 66.5h0.7M443.66 65.74h0.7M444.05 65.53h0.7M444.29 75.33h0.7M444.13 72.97h0.7M443.15 65.62h0.7M444.11 69.27h0.7M444.28 66.89h0.7M443.59 66.48h0.7M441.94 68.99h0.7M443.58 72.57h0.7M443.47 69.41h0.7M442.08 61.58h0.7M444.72 65.86h0.7M444.28 66.99h0.7M442.5 65.39h0.7M444.87 67.37h0.7M443.32 63.17h0.7M443.69 70.46h0.7M444.57 68.97h0.7M442.14 70.04h0.7M442.44 71.26h0.7M445.41 67.82h0.7M445.49 77.66h0.7M442.45 70.53h0.7M445.57 66.34h0.7M441.62 70.2h0.7M444.3 74.57h0.7M444.06 73.68h0.7M442.76 61.41h0.7M443.28 68.52h0.7M442.59 74.36h0.7M443.43 68.68h0.7M442.11 68.7h0.7M440.51 64.7h0.7M443.23 70.2h0.7M442.07 69.74h0.7M442.18 69.03h0.7M443.91 65.45h0.7M444.3 71.27h0.7M442.98 68.87h0.7M445.2 73.95h0.7M442.14 66.78h0.7M443.94 70.33h0.7M446.27 65.8h0.7M442.66 61.65h0.7M444.86 69.88h0.7M443.05 62.48h0.7M445.42 74.09h0.7M443.56 68.13h0.7M443.99 65.9h0.7M441.09 65.32h0.7M443.57 63.65h0.7M444.78 64.37h0.7M444.87 73.55h0.7M445.05 71.33h0.7M444.69 69.96h0.7M444.57 70.67h0.7M442.72 65.44h0.7M444.5 65.5h0.7M442.44 70.81h0.7M442.82 65.54h0.7M443.35 72.1h0.7M442.59 68.17h0.7M445.65 68.6h0.7M443.07 66.6h0.7M444.49 75.01h0.7M444.79 65.01h0.7M444.15 64.57h0.7M442.56 60.11h0.7M442.7 72.26h0.7M443.57 66.47h0.7M442.87 69.03h0.7M445.76 66.64h0.7M443.96 74.29h0.7M442.89 64.97h0.7M444.15 68h0.7M442.8 74.67h0.7M442.93 69.54h0.7M442.57 69.52h0.7M445.09 70.36h0.7M443.08 67.63h0.7M441.72 69.43h0.7M441.69 75.41h0.7M442.36 67.76h0.7M442.85 74.31h0.7M445.92 67.24h0.7M442.47 68.6h0.7M443.77 69h0.7M443.28 66.4h0.7M444.47 68.29h0.7M444.64 71.73h0.7M444.58 68.59h0.7M445.05 68.28h0.7M442.93 70.45h0.7M441.45 73.37h0.7M442.55 65.61h0.7M441.86 68.56h0.7M441.31 64.79h0.7M442.47 69.43h0.7M444.56 76.75h0.7M445.06 65h0.7M444.97 69.4h0.7M444.87 65.11h0.7M442.94 72.9h0.7M443.05 66.03h0.7M446.78 69.96h0.7M445.55 75.4h0.7M443.08 68.26h0.7M443.14 70.32h0.7M443.24 67.38h0.7M443.42 72h0.7M443.15 69.87h0.7M443.07 68.34h0.7M443.83 73.47h0.7M443.28 74.29h0.7M441.63 72.77h0.7M443.43 67.61h0.7M443.37 66.8h0.7M443.31 65.77h0.7M443.51 66.68h0.7M442.2 67.99h0.7M443.55 67.59h0.7M443.62 64.55h0.7M443.2 73.43h0.7M444.36 70.96h0.7M445.13 66.21h0.7M442.12 77.86h0.7M442.55 76.58h0.7M441.05 74.16h0.7M443.7 73.03h0.7M442.56 64.52h0.7M442.44 65.34h0.7M443.27 70.36h0.7M443.21 60.2h0.7M443.63 70.67h0.7M441.02 74.98h0.7M443.55 69.88h0.7M441.69 71.57h0.7M443.31 64.42h0.7M441.05 69.29h0.7M443.5 70.31h0.7M439.97 71.61h0.7M442.3 70.79h0.7M444.51 67.35h0.7M443.72 74.98h0.7M445.26 68.64h0.7M443.32 65.88h0.7M442.25 67.25h0.7M446.28 69.71h0.7M444.19 69.9h0.7M445.04 68.91h0.7M442.31 69.66h0.7M445.46 69.38h0.7M445.12 68.73h0.7M446.24 68.78h0.7M444.4 70.02h0.7M444.61 68h0.7M441.55 68.23h0.7M441.87 70.09h0.7M444.59 74.23h0.7M444.45 69.09h0.7M444.94 59.9h0.7M444.35 66.74h0.7M441.32 78.05h0.7M443.95 67.57h0.7M441.22 70.51h0.7M445.3 65.75h0.7M444.21 66.91h0.7M442.47 64.2h0.7M443.79 62.61h0.7M443.64 73.1h0.7M443.83 68.06h0.7M443.12 70.67h0.7M446.16 70.98h0.7M442.73 76.86h0.7M445.72 64.58h0.7M445.16 72.49h0.7M443.2 71.16h0.7M445.03 72.47h0.7M442.04 73.17h0.7M443.03 72.66h0.7M443.97 67.77h0.7M446.53 67.81h0.7M443.88 71.01h0.7M443.84 68.36h0.7M444.28 68.22h0.7M444.65 72.07h0.7M443.13 64.61h0.7M441.85 69.33h0.7M443.32 70.36h0.7M444.03 69.24h0.7M445.47 66.84h0.7M442.77 72.68h0.7M444.52 70.67h0.7M443.07 66.34h0.7M440.01 71.49h0.7M443.89 64.39h0.7M442.26 71.22h0.7M446.52 72.06h0.7M443.46 69.77h0.7M442.14 69.28h0.7M443.76 70.98h0.7M445.45 71.66h0.7M443.76 69.17h0.7M445.88 70.19h0.7" stroke="#000" stroke-width="0.7" fill="none"/>
<path d="M443.61 62.31h0.6M443.89 66.15h0.6M443.79 72.73h0.6M444.06 72.3h0.6M442.23 65.76h0.6M444.05 62.66h0.6M445.48 67.23h0.6M441.58 73.33h0.6M444.84 64.03h0.6M444.06 64.99h0.6M442.73 71.75h0.6M441.83 76.93h0.6M442.67 70.93h0.6M443.36 55.74h0.6M444.94 68.32h0.6M441.96 68.44h0.6M442.97 66.67h0.6M442.99 72.4h0.6M445.61 74.5h0.6M445.8 65.63h0.6M443.67 58.6h0.6M443.42 64.53h0.6M443.63 74.15h0.6M446.53 68.28h0.6M441.88 65.54h0.6M445.04 73.36h0.6M443.91 62.46h0.6M443.25 72.5h0.6M443.92 67.19h0.6M442 69.99h0.6M439.98 72.75h0.6M448.53 68.71h0.6M443.55 64.15h0.6M442.23 58.55h0.6M443.74 63.73h0.6M447.62 66.77h0.6M443.56 64.79h0.6M445.11 70.01h0.6M440.02 73h0.6M442.91 78.73h0.6M440.15 65.74h0.6M439.74 67h0.6M442.24 69.87h0.6M441.8 70.48h0.6M448.76 69.37h0.6M443.99 74.21h0.6M446.6 64.5h0.6M441.02 61.22h0.6M442.24 74.77h0.6M444.95 75h0.6M447.74 78.65h0.6M442.17 71.62h0.6M446.86 71.65h0.6M436.94 69.65h0.6M442.81 67.29h0.6M442.81 68.77h0.6M440.69 74.07h0.6M439.04 70.97h0.6M441.89 59h0.6M441.73 65.57h0.6M444.91 65.79h0.6M443.8 71.58h0.6M442.01 69.9h0.6M440.72 64.48h0.6M441.13 67.11h0.6M445.22 67.52h0.6M446.67 71.44h0.6M439.11 64.72h0.6M447.59 63.89h0.6M442.59 72.1h0.6M442.65 74.84h0.6M442.68 76.38h0.6M445.13 67.14h0.6M443.28 63.73h0.6M444.61 77.55h0.6M443.1 63.92h0.6M441.86 68.88h0.6M446.48 70.82h0.6M445.65 69.21h0.6M443.92 70.3h0.6M445.62 65.54h0.6M442.56 74.97h0.6M444.68 64.96h0.6M446.2 69.46h0.6M443.3 71.17h0.6M444.79 62.61h0.6M440.68 69.44h0.6M440.14 62.14h0.6M442.59 71.74h0.6M442.38 53.69h0.6M443.36 66.06h0.6M442.82 69.15h0.6M445.96 72.27h0.6M447.13 67.96h0.6M441.63 68.41h0.6M440.3 69.68h0.6M441.24 67.61h0.6M444.03 67.01h0.6M444.23 57.7h0.6M443.1 70.14h0.6M444.39 72.14h0.6M441.38 67.31h0.6M445.34 72.22h0.6M442.21 62.19h0.6M445.23 63.54h0.6M440.91 66.34h0.6M444.64 75.64h0.6M444.16 70.02h0.6M443.67 68.16h0.6M444.61 72.93h0.6M443.8 66.87h0.6M442.31 77.24h0.6M443.82 62.9h0.6M448.81 63.71h0.6M444.94 71.73h0.6M448.13 70.6h0.6M443.49 64.28h0.6M445.88 61.27h0.6M447.63 68.62h0.6M441.26 67.69h0.6M445.28 65.72h0.6M444.12 65.17h0.6M442.08 65.63h0.6M447.08 66.38h0.6M444.23 63.99h0.6M441.86 72.52h0.6M446.42 62.01h0.6M443 76.64h0.6M445.3 63.41h0.6M441.69 68.78h0.6M438.31 67.17h0.6M441.05 65.18h0.6M444.71 62.85h0.6M447.5 70.13h0.6M442.54 56.52h0.6M446.33 65.05h0.6M443.85 73.54h0.6M441.83 69.35h0.6M442.6 66.54h0.6M446.63 57.25h0.6M448.4 72.2h0.6M444.72 74.41h0.6M439.65 72.63h0.6M445.3 64.23h0.6M440 67.16h0.6M440.59 68.87h0.6M447.19 68.93h0.6M442.67 63.66h0.6M443.5 71.38h0.6M441.6 69.75h0.6M438.27 67.35h0.6M446.47 68.09h0.6M443.19 63.71h0.6M446.4 72.07h0.6M441.49 74.09h0.6M447.43 66.97h0.6M444.18 66.74h0.6M442.19 64.98h0.6M442.76 55.1h0.6M441.84 58.67h0.6" stroke="#333" stroke-width="0.6" fill="none"/>
<path d="M448.26 43.05h0.68M447.14 49.81h0.68M444.73 44.78h0.68M445.39 48.65h0.68M447.88 46.28h0.68M446.53 46h0.68M447.87 42.98h0.68M447.57 48.85h0.68M444.26 53.29h0.68M447.48 46.8h0.68M447 48.05h0.68M444.39 48.59h0.68M448.2 46.41h0.68M446.29 46.5h0.68M444.08 50.12h0.68M448.72 48.3h0.68M445.44 45.75h0.68M445.92 48.83h0.68M446.78 43.63h0.68M447.33 40.48h0.68M445.9 42.21h0.68M446.52 49.63h0.68M448.52 47.75h0.68M449.53 52.86h0.68M447.78 44.64h0.68M447.48 40.5h0.68M445.53 51.98h0.68M447.75 48.58h0.68M445.68 46.1h0.68M444.69 52.81h0.68M447.92 47.36h0.68M448.81 47.65h0.68M447.23 52.7h0.68M447.63 53.89h0.68M446.18 42.08h0.68M446.84 47.79h0.68M449.15 40.34h0.68M445.28 40.84h0.68M446.85 48.51h0.68M446.88 52.93h0.68M447.6 48.22h0.68M444.9 43.96h0.68M447.93 44.97h0.68M448.28 45.65h0.68M447.57 44.64h0.68M447.76 46.82h0.68M446.85 46.75h0.68M448.24 44.96h0.68M447.28 46.59h0.68M445.3 49.35h0.68M446.52 43.61h0.68M445.07 51.88h0.68M445.35 42.9h0.68M445.13 45.26h0.68M447.25 43.66h0.68M446.56 42.64h0.68M446.33 42.31h0.68M443.73 48.83h0.68M446.89 46.94h0.68M446.93 46.5h0.68M444.73 48.4h0.68M447.47 46.27h0.68M444.64 51.96h0.68M444.78 44.5h0.68M445.07 46.66h0.68M447.54 43.05h0.68M443.65 55.81h0.68M445.27 53.39h0.68M447.08 49.49h0.68M446.28 51.73h0.68M446.5 43.63h0.68M445.31 49.92h0.68M446.57 48.38h0.68M446.59 47.46h0.68M447.72 49.17h0.68M446.1 45.65h0.68M445.67 38.71h0.68M447.36 41.04h0.68M445.72 42.7h0.68M447.98 48.87h0.68M445.37 51.65h0.68M448.09 47.7h0.68M446.29 43.57h0.68M445.81 42.18h0.68M446.71 49.6h0.68M445.83 45.38h0.68M447.65 52.88h0.68M449.18 42.12h0.68M446.38 45.21h0.68M445.82 44.92h0.68M444.53 49.33h0.68M446.12 46.87h0.68M447.13 53.79h0.68M447.33 48.51h0.68M446.76 49.15h0.68M447.01 37.61h0.68M447.54 45.56h0.68M445.81 48h0.68M445.31 43.42h0.68M446.43 47.9h0.68M446.13 43.45h0.68M445.64 48.16h0.68M445.74 46.28h0.68M446.68 37.08h0.68M447.73 47h0.68M445.56 52.01h0.68M446.96 49.15h0.68M447.75 47.07h0.68M444.8 50.28h0.68M446.34 52.71h0.68M445.69 44.27h0.68M445.05 45.92h0.68M447.19 51.14h0.68M447.62 43.4h0.68M446.7 47.71h0.68M446.46 50.63h0.68M447.27 45.79h0.68M445.27 39.94h0.68M448.09 48.8h0.68M446.6 40.5h0.68M446.22 44.29h0.68M448.69 49.18h0.68M447.92 53.86h0.68M446.79 49.34h0.68M447.02 39.81h0.68M445.25 42.33h0.68M444.36 47.24h0.68M447.43 53.88h0.68M447.27 48.23h0.68M446.68 47.73h0.68M445.64 49.6h0.68M446.82 47.86h0.68M445.04 49.89h0.68M446.41 47.75h0.68M447.35 49.3h0.68M447.24 47.51h0.68M448.51 48.55h0.68M447.34 48h0.68M446.33 43.3h0.68M448.07 49.86h0.68M446.54 43.14h0.68M446.66 45.76h0.68M446.03 44.98h0.68M446.76 46.54h0.68M445.39 50.85h0.68M447.57 43.2h0.68M446.33 48.78h0.68M447.86 42.48h0.68M447.97 42.78h0.68M446.38 47.77h0.68M447.71 46.14h0.68M444.15 46.81h0.68M443.83 44.17h0.68M447.89 48.37h0.68M444.7 50.9h0.68M449.14 55.29h0.68M443.84 46.36h0.68M447.9 43.53h0.68M445.83 55.06h0.68M445.54 39.92h0.68M446.58 54.45h0.68M444.15 41.56h0.68M447.72 49.32h0.68M446.33 44.99h0.68M446.11 47.08h0.68M445.83 44.73h0.68M448.19 44.57h0.68M448.02 48.37h0.68M443.38 54.14h0.68M447.92 46.52h0.68M445.77 45.97h0.68M445.84 48.35h0.68M446.2 43.64h0.68M446.6 46.98h0.68M446.62 50.37h0.68M450.61 45h0.68M446.22 45.92h0.68M445.62 46.23h0.68M446.81 40.91h0.68M444.03 52.61h0.68M447.13 43.96h0.68M447.27 44.24h0.68M445.05 46.58h0.68M445.88 45.96h0.68M443.02 48.94h0.68M448.45 48.41h0.68M446.92 47.36h0.68M447.03 44.78h0.68M444.82 46.22h0.68M443.8 42.37h0.68M446.83 48.5h0.68M446.95 51.13h0.68M444.7 49.54h0.68M445.97 39.84h0.68M447.07 45.54h0.68M446.36 46.27h0.68M446.94 46.93h0.68M447.03 47.57h0.68M446.46 44.9h0.68M445.3 41.31h0.68M447.17 45.75h0.68M444.79 43.96h0.68M445.41 50.59h0.68M445.51 40.38h0.68M443.68 42.36h0.68M448.84 45.33h0.68M445.54 44.01h0.68M446.71 51.34h0.68M448.47 46.38h0.68M446.51 42.39h0.68M446.87 48.78h0.68M445.47 42.42h0.68M446.45 53.88h0.68M448.05 45.78h0.68M446.53 40.12h0.68M448.13 40.23h0.68M446.72 43.09h0.68M446.75 43.35h0.68M446.6 48.03h0.68M446.92 45.58h0.68M445.9 45.87h0.68M447.78 49.29h0.68M445.41 41.76h0.68M446.96 43.89h0.68M448.4 41.57h0.68M446.81 46.94h0.68M445.54 50.26h0.68M447.16 48.26h0.68M445.12 51.94h0.68M447.43 52.31h0.68M448.08 47.78h0.68M446.33 45.86h0.68M446.1 50.12h0.68M448.52 51.11h0.68M446.84 47.65h0.68M445.41 44.39h0.68M445.15 52.54h0.68M447.01 47.13h0.68M445.75 43.48h0.68M449.31 44.19h0.68M448.54 48.28h0.68M448.01 54.92h0.68M445.99 52.06h0.68M448.46 44.26h0.68M445.18 52.65h0.68M447.02 51.38h0.68M447.96 50.01h0.68M445.73 54.41h0.68M448.37 46.84h0.68M447.35 45.88h0.68M444.26 46.55h0.68M447.77 44.8h0.68M444.6 44.83h0.68M446.75 44.99h0.68M447.08 48.81h0.68M445.15 48.96h0.68M445.62 44.63h0.68M447.21 45.24h0.68M446.3 52.19h0.68M448.18 51.1h0.68M445.64 42.63h0.68M444.7 47.48h0.68M444.01 54.35h0.68M447.56 42.34h0.68M447.53 44.12h0.68M447.93 43.24h0.68M447.57 44.73h0.68M444.54 50.9h0.68M444.44 43.61h0.68M447.75 42.79h0.68M447.82 46.77h0.68M448.08 52.58h0.68M446.04 49.79h0.68M447.06 45.47h0.68M448.16 50.37h0.68M446.23 48.1h0.68M448.95 46.62h0.68M449.44 48.04h0.68M447.76 44.28h0.68M447.71 47.79h0.68" stroke="#111" stroke-width="0.68" fill="none"/>
<path d="M447.14 43.7h0.6M445.86 46.85h0.6M443.79 41.67h0.6M447.63 45.62h0.6M447 48.35h0.6M443.51 48.64h0.6M446.63 52.03h0.6M445.37 43.72h0.6M446.9 51.69h0.6M450.17 39.54h0.6M449.58 40.38h0.6M444.28 51.06h0.6M449.24 52.87h0.6M447.91 51.95h0.6M446.96 48.66h0.6M447.04 44.73h0.6M446.25 53.03h0.6M443.08 56.2h0.6M443.23 47.33h0.6M446.91 39.14h0.6M445.31 45.69h0.6M446.03 42.33h0.6M446.13 39.76h0.6M443.9 44.77h0.6M442.41 49.07h0.6M447.08 49.15h0.6M446.78 49.6h0.6M445.92 50.83h0.6M447.21 42.23h0.6M445.76 43.58h0.6M444.46 47.74h0.6M443.13 51.69h0.6M446.42 52.79h0.6M448.92 54.96h0.6M447.13 50.29h0.6M443.48 47.72h0.6M444.55 44.63h0.6M446.22 43.92h0.6M446.76 43.55h0.6M445.49 46.01h0.6M447.51 48.98h0.6M445.9 41.06h0.6M446.52 60.57h0.6M444.55 49.3h0.6M449.86 51.66h0.6M446.2 49.85h0.6M442.34 47.32h0.6M445.82 49.91h0.6M447.31 49h0.6M451.09 48.16h0.6M445.06 51.4h0.6M447.87 49.98h0.6M449.58 47.37h0.6M442.81 45.51h0.6M447.22 42.31h0.6M446.78 42.67h0.6M447.17 40.28h0.6M444.55 46.02h0.6M445.93 44.65h0.6M447.01 51.37h0.6M446.83 46.25h0.6M447.51 51.25h0.6M444.91 55.2h0.6M446.76 50.94h0.6M447.7 44.31h0.6M448.63 51h0.6M444.57 49.39h0.6M447.33 47.97h0.6M446.76 54.8h0.6M449.9 47.89h0.6M445.51 47.49h0.6M448.18 48.5h0.6M442.83 47.89h0.6M448.58 45.36h0.6M448.2 43.81h0.6M444.75 47.97h0.6M441.81 50.84h0.6M443.91 37.63h0.6M445.89 49.61h0.6M446.32 50.07h0.6M445.35 47.79h0.6M448.55 45.38h0.6M443.58 50.69h0.6M450.9 49.81h0.6M444.43 50.64h0.6M446.96 50.58h0.6M448.54 45.74h0.6M445.36 52.79h0.6M445.63 47.75h0.6M449.97 47.21h0.6" stroke="#333" stroke-width="0.6" fill="none"/>
<path d="M446.18 57.73h0.6M445.41 59.1h0.6M446.17 56.36h0.6M446.33 56.41h0.6M445.5 58.41h0.6M443.9 57.67h0.6M445.28 56.55h0.6M445.75 58.42h0.6M446.53 58.01h0.6M445.48 58.87h0.6M445.24 58.11h0.6M444.09 59.87h0.6M445.82 56.21h0.6M445.32 59.41h0.6M443.09 59.06h0.6M445.26 56.67h0.6M443.19 58.52h0.6M442.08 59.5h0.6M443.51 61.03h0.6M443.62 57.48h0.6M444.81 55.93h0.6M444.81 54.85h0.6M444.77 58.91h0.6M442.85 58.54h0.6M443.51 54.94h0.6M445.79 60.66h0.6M447.52 55.05h0.6M447.08 59.82h0.6M447.44 60.56h0.6M445.35 55.25h0.6M448.21 57.05h0.6M445.25 59.93h0.6M441.82 58.07h0.6M443.86 58.77h0.6M446.5 61.25h0.6M444.61 58.42h0.6M444.37 60.75h0.6M445.61 60.74h0.6M445.86 58.01h0.6M442.58 62.01h0.6M446.5 60.04h0.6M447.65 58.06h0.6M446.17 59.89h0.6M446.11 56.59h0.6M445.97 56.03h0.6M443.76 62.81h0.6M443.44 61.64h0.6M446.46 58.7h0.6M445.71 55.72h0.6M444.31 57.04h0.6M445.12 60.23h0.6M445.29 59.37h0.6M447.87 59.32h0.6M444.78 58.82h0.6M446.46 58.62h0.6M441.67 59.47h0.6M445.98 58.42h0.6M444.26 63.72h0.6M443.37 58.03h0.6M442.31 58.43h0.6M445.13 56.91h0.6M444.87 55.59h0.6M447.2 57.21h0.6M448.8 61.71h0.6M446.38 58.84h0.6M444.17 63.24h0.6M443.72 61.92h0.6M442.63 60.65h0.6M444.94 57.78h0.6M442.07 58.06h0.6" stroke="#333" stroke-width="0.6" fill="none"/>
<path d="M439.62 41.65h0.55M433.02 67.76h0.55M436.65 73.96h0.55M440.92 56.98h0.55M438.24 65.27h0.55M438.4 53.97h0.55M437.94 42.58h0.55M440.15 67.49h0.55M439.32 57.57h0.55M434.24 57.15h0.55M438.28 60.83h0.55M433.42 40.14h0.55M435.88 49.3h0.55M434.43 48.42h0.55M436.03 66.42h0.55M440.26 65.71h0.55M432.68 72.97h0.55M437.68 67.81h0.55M437.72 53.46h0.55M435.38 42.71h0.55M438.14 42.05h0.55M438.29 74.62h0.55M438.18 63.04h0.55M439.37 76.47h0.55M439.41 77.62h0.55M436.41 40.56h0.55M437.72 64.26h0.55M439.84 63.26h0.55M435.59 40.18h0.55M439.56 63.74h0.55M440.88 62.55h0.55M439.75 69.35h0.55M440.92 57.57h0.55M440.13 55.08h0.55M432.6 52.38h0.55M435.49 77.71h0.55M435.86 50.44h0.55M438.37 43.7h0.55M435.1 55.01h0.55M433.56 62.72h0.55M436.1 70.48h0.55M435.39 77.14h0.55M434.16 60.17h0.55M434.42 40.54h0.55M435.06 74.03h0.55M434.98 58.56h0.55M436.95 50.11h0.55M437.05 42.49h0.55M435.47 50.81h0.55M439.43 69.26h0.55M438.46 62.61h0.55M439.87 68.16h0.55M432.97 44.96h0.55M438.86 71.92h0.55M440.91 69.46h0.55M433.84 61.55h0.55M437.81 62.98h0.55M433.64 76.8h0.55M436.84 50.21h0.55M440.84 54.62h0.55" stroke="#666" stroke-width="0.55" fill="none"/>
<path d="M500.52 75.48h0.7M500.61 70.34h0.7M501.38 68.86h0.7M501.39 68.18h0.7M497.11 79.89h0.7M497.5 76.9h0.7M502.29 70.36h0.7M500.62 74.63h0.7M499.9 72h0.7M499.36 72.33h0.7M497.92 69.57h0.7M499.62 77.07h0.7M500.73 77.67h0.7M498.06 72.31h0.7M499.71 69.67h0.7M499.21 70.18h0.7M499.21 62.18h0.7M498.97 69.7h0.7M497.46 69.46h0.7M501.57 67.46h0.7M498.97 67.14h0.7M499.43 67.57h0.7M502.38 68.71h0.7M501.38 66.78h0.7M500.26 68.89h0.7M499.63 80.02h0.7M495.49 70.61h0.7M499.33 69.37h0.7M499.99 71.11h0.7M498.46 66.57h0.7M499.27 73.48h0.7M500.62 70.77h0.7M499.88 71.04h0.7M499.65 66.64h0.7M501.7 64.36h0.7M501.88 67.8h0.7M499.47 68.81h0.7M499.97 75.49h0.7M499.27 71.34h0.7M498.62 69.7h0.7M497.29 67.81h0.7M498.54 70.1h0.7M502.75 75.88h0.7M497.94 77.74h0.7M499.48 69.34h0.7M501.52 64.99h0.7M500.1 73.33h0.7M500.38 77.86h0.7M500.06 69.57h0.7M500.33 68.96h0.7M500.29 65.82h0.7M499.07 69.59h0.7M499.5 69.27h0.7M500.35 64.23h0.7M502.24 69.96h0.7M501.05 70.64h0.7M499.48 70.58h0.7M499.08 66.17h0.7M496.38 68.53h0.7M498.66 69.6h0.7M501.18 71.84h0.7M501.35 69.58h0.7M500.79 75.31h0.7M499.82 69.47h0.7M501.93 76.79h0.7M497.17 74.96h0.7M501.56 62.29h0.7M501.65 73.37h0.7M499.25 72.86h0.7M499.62 72.42h0.7M500.91 76.28h0.7M498.69 67.19h0.7M500.97 74.49h0.7M500.19 71.79h0.7M498.61 66.08h0.7M497.02 72.68h0.7M500.54 72.55h0.7M500.92 73.16h0.7M500.12 77.82h0.7M497.42 67.7h0.7M499.77 62.36h0.7M497.25 74.04h0.7M498.65 71.39h0.7M500 69.79h0.7M497.96 70.88h0.7M499.5 73.55h0.7M500.55 63.76h0.7M499.13 76.6h0.7M497.39 76.71h0.7M501.54 69.81h0.7M500.45 75.62h0.7M499.09 74.7h0.7M501.09 73.42h0.7M500.25 74.27h0.7M500.33 73.87h0.7M497.43 73.01h0.7M498.32 72.98h0.7M499.77 69.34h0.7M497.77 71.67h0.7M500.02 68.76h0.7M499.73 69.21h0.7M500 71.6h0.7M499.94 68.71h0.7M497.84 72.87h0.7M498.23 73.65h0.7M500.58 72.1h0.7M497.97 73.12h0.7M498.14 67.32h0.7M499.89 72.86h0.7M500.52 64.02h0.7M498.93 75.14h0.7M500.05 70.43h0.7M499.12 66.96h0.7M499.18 72.78h0.7M499.85 70.69h0.7M500.07 77.11h0.7M498.99 71.98h0.7M499.78 75.33h0.7M501.6 70.61h0.7M498.33 75.72h0.7M501.49 69.55h0.7M501.85 68.96h0.7M502.49 70.12h0.7M497.15 67.1h0.7M502.07 65.3h0.7M499.09 68.02h0.7M498.67 68.57h0.7M499.87 71.3h0.7M498.96 68.38h0.7M501.08 75.68h0.7M501.49 74.39h0.7M500.94 69.99h0.7M498.48 76.83h0.7M496.1 75.76h0.7M498 63.61h0.7M498.42 66.99h0.7M500.8 68.88h0.7M499.17 67.98h0.7M497.68 65.86h0.7M498.6 70.01h0.7M499.84 73.98h0.7M500.49 63.94h0.7M499.16 66.22h0.7M498.6 66.8h0.7M498.04 68.44h0.7M499.28 67.93h0.7M500.69 73.34h0.7M497.3 77.28h0.7M501.35 69.2h0.7M499.44 66.46h0.7M501.9 73.34h0.7M500.13 72.79h0.7M500.55 70.05h0.7M500.15 71.03h0.7M499.48 68.25h0.7M498.22 67.37h0.7M498.54 67.5h0.7M498.87 68.14h0.7M500.01 64.99h0.7M501.9 71.8h0.7M498.15 61.88h0.7M498.52 67.02h0.7M498.41 70.85h0.7M500.61 67.76h0.7M497.34 69.93h0.7M502.9 74.13h0.7M499.41 74.8h0.7M499.54 75.65h0.7M499.99 69.32h0.7M499.81 75.42h0.7M497.7 69.49h0.7M498.08 71.31h0.7M497.65 70.25h0.7M498.37 67.4h0.7M498.11 68.14h0.7M500.77 75.17h0.7M498.19 69.38h0.7M499.29 74.66h0.7M501.1 72.72h0.7M500.25 69.1h0.7M499.02 72.27h0.7M498.75 69.97h0.7M499.29 58.04h0.7M501.12 76.71h0.7M499.75 80.68h0.7M498.74 73.89h0.7M498.48 67.84h0.7M500.76 72.29h0.7M500.42 63.53h0.7M500.79 73.97h0.7M499.88 65.88h0.7M497.71 71.81h0.7M502.4 66.41h0.7M498.98 68.11h0.7M498.94 63.39h0.7M500.2 75.62h0.7M499.68 67.46h0.7M500.49 71.95h0.7M500.11 66.92h0.7M498.97 68.14h0.7M498.59 67.45h0.7M497.09 72.39h0.7M503.57 71.32h0.7M499.26 67.3h0.7M501.88 70.33h0.7M500.31 65.32h0.7M502.45 70.23h0.7M502.45 69.82h0.7M500.09 67.03h0.7M498.88 66.52h0.7M499.13 65.97h0.7M498.86 76.3h0.7M501.96 79.69h0.7M499.65 71.71h0.7M498.54 71.74h0.7M499.77 72.76h0.7M499.66 63.37h0.7M499.71 72.71h0.7M499.64 71.72h0.7M501.06 68.79h0.7M499.19 75.74h0.7M498.07 73.52h0.7M498.44 75.18h0.7M501 70.72h0.7M499.68 68.73h0.7M498.84 74.28h0.7M501.2 71.82h0.7M498.51 71.51h0.7M499.28 69.12h0.7M500.53 70.63h0.7M499.54 64.86h0.7M501.79 71.3h0.7M498.57 65.21h0.7M499.56 73.83h0.7M499.56 74.58h0.7M499.55 68.19h0.7M500.66 75.09h0.7M499.83 71.29h0.7M500.51 74.49h0.7M500.67 71.46h0.7M498.03 70.93h0.7M501.35 73.86h0.7M499.53 75.66h0.7M500.12 66.17h0.7M497.13 68.43h0.7M498.53 71.12h0.7M498.93 70.83h0.7M500.85 73.55h0.7M501.31 72.4h0.7M502.79 68.62h0.7M500.47 64.29h0.7M499.06 74.32h0.7M497.92 71h0.7M500.02 68.96h0.7M497.26 65.96h0.7M498.48 69.27h0.7M499.41 67.07h0.7M500.92 65.56h0.7M499.67 74.74h0.7M499.54 68.42h0.7M498.51 70.18h0.7M500.18 68.21h0.7M498.81 67.29h0.7M498.28 68.93h0.7M497.81 71.48h0.7M500.63 73.9h0.7M500.82 70.44h0.7M499.07 74.51h0.7M498.76 70.35h0.7M499.09 69.23h0.7M500.35 70.84h0.7M500.09 78.47h0.7M499.29 73.96h0.7M499.79 76.5h0.7M499.23 69.91h0.7M499.06 70.64h0.7M502.1 71.18h0.7M498.55 70.79h0.7M499.49 63.87h0.7M498.65 66.91h0.7M500.1 71.05h0.7M501.24 72.22h0.7M498.79 67.12h0.7M498.33 67.37h0.7M498.51 68.18h0.7M498.1 72.99h0.7M496.71 78.39h0.7M497.4 73.49h0.7M497.99 68.77h0.7M500.27 70.53h0.7M498.72 69.02h0.7M498.55 66.95h0.7M498.74 67.44h0.7M500.83 70.71h0.7M496.98 67.97h0.7M500.69 69.15h0.7M500.04 66.79h0.7M498.04 66.31h0.7M496.98 71.25h0.7M495.96 68.98h0.7M500.04 66.68h0.7M498.64 68.64h0.7M498.28 72.34h0.7M499.07 66.3h0.7M499.76 70.15h0.7M501.18 69.76h0.7M499.36 72.42h0.7M497.37 78.64h0.7M498.46 71.27h0.7M499.96 78.07h0.7M500.11 73.33h0.7M498.79 75.63h0.7M497.14 73.63h0.7M501.15 72.41h0.7M500.39 73.49h0.7M499.65 63.68h0.7M501.59 69.16h0.7M500.46 72.3h0.7M500.29 75.05h0.7M498.61 65.49h0.7M500.84 62.89h0.7M497.8 69.67h0.7M498.95 72.13h0.7M501.3 69.27h0.7M498 63.01h0.7M499.2 70.01h0.7M499.04 74.4h0.7M501.96 72.23h0.7M497.88 65.47h0.7M499.28 67.8h0.7M499.86 66.43h0.7M500.99 67.58h0.7M500.49 72.17h0.7M499.83 71.14h0.7M499.3 64.52h0.7M501.02 63.97h0.7M498.44 66.29h0.7M502.45 68.71h0.7M501.58 66.38h0.7M503.17 70.84h0.7M498.8 69.55h0.7M498.77 70.25h0.7M500.45 67.79h0.7M500.72 68.72h0.7M500.84 72.49h0.7M501.03 75.99h0.7M501.21 66.96h0.7M500.82 61.48h0.7M498.04 74.71h0.7M496.9 74.93h0.7M498.97 73.96h0.7M499.31 69.33h0.7M500.5 68.33h0.7M499.48 70.17h0.7M499.03 70.54h0.7M500.28 66.73h0.7M497.88 73.36h0.7M501.32 73.79h0.7M501.6 70.98h0.7M500.99 62.59h0.7M499.93 67.7h0.7M502.61 67.07h0.7M500.44 68.9h0.7M499.21 65.12h0.7M499.38 71.9h0.7M501.45 67.66h0.7M499.65 64.83h0.7M499.05 69.76h0.7M499.88 72.7h0.7M500.45 69.72h0.7M500.29 70.08h0.7M499.89 74.95h0.7M498.75 70.61h0.7M500.91 75.46h0.7M499.98 72.28h0.7M499.66 67.4h0.7M497.92 71.46h0.7M499.42 66.96h0.7M500.07 77.26h0.7M501.04 65.17h0.7M500.55 73.6h0.7M499.41 68.42h0.7M501.13 78.24h0.7M496.99 86.85h0.7M499.07 64.72h0.7M498.73 67.11h0.7M501.43 73h0.7M500.23 65.28h0.7M499.92 73.48h0.7M501.2 75.27h0.7M499.74 67.49h0.7M497.88 71.38h0.7M500.96 69.57h0.7M499.61 71.81h0.7M500.45 79.7h0.7M498.34 73.85h0.7M498.95 74.79h0.7M498.99 69.77h0.7M500.26 65.82h0.7M500.57 65.97h0.7M501.19 67.51h0.7M501.22 71.62h0.7M500.27 66.43h0.7M499.97 73.09h0.7M498.76 70.02h0.7M500.03 58.7h0.7M498.33 65.85h0.7M495.82 71.77h0.7M500.46 67.67h0.7M499.27 70.53h0.7M499.8 67.61h0.7M498.93 64.87h0.7M498.28 73.33h0.7M499.06 69.96h0.7M497.2 65.92h0.7M498.6 67.28h0.7M499.51 66.7h0.7M500.47 71.56h0.7M497.92 71.73h0.7M500.08 75.46h0.7M497.76 73.11h0.7M502.83 74.37h0.7M501.17 72.33h0.7M499.8 68.34h0.7M500.52 70.25h0.7M499.97 71.03h0.7M498.08 67.15h0.7M503.16 70.41h0.7M500.25 66.88h0.7M498.67 75.31h0.7M500.01 64.51h0.7M498.37 70.31h0.7M500.6 75.94h0.7M497.64 70.44h0.7M501.21 75.03h0.7M501.91 73.49h0.7M498.35 66.7h0.7M500.23 73.64h0.7M498.9 70.31h0.7M499.96 74.21h0.7M497.97 73.64h0.7M500.19 70.69h0.7M497.22 74.19h0.7M498.68 69.74h0.7M499.4 70.5h0.7M500.73 72.02h0.7M499.5 71.46h0.7M501.6 73.7h0.7M498.46 70.73h0.7M500.91 76.94h0.7M499.01 78.45h0.7M499.36 69.07h0.7M497.53 70.17h0.7M497.47 73.56h0.7M499.55 60.36h0.7M499.93 66.59h0.7M497.93 66.26h0.7M498.23 63h0.7M502.55 69.44h0.7M498.67 72.96h0.7M499.95 75.44h0.7M497.65 63.65h0.7M498.92 64.95h0.7M498.72 70.63h0.7M498.34 68.52h0.7M500.74 71.13h0.7M501.17 66.58h0.7M499.23 67.42h0.7M500.47 76.62h0.7M496.84 70.67h0.7" stroke="#000" stroke-width="0.7" fill="none"/>
<path d="M498.82 70.88h0.6M502.36 69.46h0.6M503.87 67.9h0.6M500.11 70.72h0.6M499.93 69.03h0.6M500.31 76.68h0.6M498.02 65.74h0.6M501.07 75.83h0.6M499.43 66.45h0.6M501.13 70.95h0.6M499.92 65.94h0.6M498.08 64.32h0.6M502.98 69.43h0.6M503.79 70.08h0.6M502.92 72.26h0.6M495.32 69.76h0.6M498.91 60.11h0.6M499.32 78.63h0.6M501.14 68.11h0.6M498.81 68.74h0.6M500.7 71.41h0.6M497.83 67.73h0.6M497.55 77.84h0.6M499.3 66.21h0.6M500.43 69.83h0.6M502.95 77.65h0.6M500.01 70.32h0.6M499.4 74.96h0.6M496.99 71.28h0.6M499.5 72.35h0.6M500.2 63.67h0.6M500.55 80.65h0.6M502.59 66.69h0.6M500.18 72.14h0.6M501.98 77.44h0.6M497.72 80.07h0.6M499.5 68.44h0.6M496.77 71.43h0.6M496.23 71.82h0.6M499.12 67.81h0.6M500.51 71.68h0.6M500.48 66.89h0.6M499.48 71.9h0.6M498.44 70.63h0.6M503.12 78.8h0.6M503 71.67h0.6M498.55 66.33h0.6M500.77 68.95h0.6M497.52 68.95h0.6M497.45 63.35h0.6M500.9 74.79h0.6M503.55 63.79h0.6M498.62 68.2h0.6M499.81 69.71h0.6M499.62 68.68h0.6M501.97 74.05h0.6M499.32 67.27h0.6M498.72 66.91h0.6M498.93 70.04h0.6M497.41 73.23h0.6M501.53 72.28h0.6M498.93 69.01h0.6M498.77 73.27h0.6M500.2 68.92h0.6M500.92 58.71h0.6M501.14 71.61h0.6M498.83 63.93h0.6M501.08 72.51h0.6M498.65 67.68h0.6M500.37 77.48h0.6M496.37 76.15h0.6M498.34 72.45h0.6M502.66 68.11h0.6M497.66 65.47h0.6M499.15 67.19h0.6M500.75 70.64h0.6M500.87 76.18h0.6M502.34 78.56h0.6M499.34 73h0.6M498.96 76.79h0.6M499.79 75.02h0.6M501.24 67.85h0.6M500.46 73.63h0.6M500 75.49h0.6M499.89 67.04h0.6M497.31 79.02h0.6M499.71 61.87h0.6M502.62 65.65h0.6M497.41 71.25h0.6M497.39 70.23h0.6M502.01 72.73h0.6M502.31 76.03h0.6M502.63 70.44h0.6M496.55 72.74h0.6M497.52 76.72h0.6M496.12 67.72h0.6M495 66.58h0.6M497.94 64.65h0.6M498.88 64.86h0.6M498.94 74.12h0.6M502.44 72.49h0.6M503.1 67.63h0.6M499.58 70.3h0.6M503.06 72.13h0.6M501.66 64.74h0.6M499.92 68.21h0.6M494.19 65.71h0.6M501.59 75.83h0.6M497.73 65.5h0.6M499.61 64.8h0.6M499.36 79.81h0.6M501.16 62.44h0.6M496.19 66.2h0.6M499.69 72.27h0.6M501.47 71.29h0.6M494.54 74.86h0.6M502.55 71.29h0.6M497.14 76.16h0.6M497.55 61.82h0.6M499.2 72.28h0.6M499.26 74.23h0.6M497.36 64.46h0.6M501.7 69.38h0.6M497.22 77.25h0.6M499.54 72.52h0.6M497.18 64.98h0.6M498.61 77.62h0.6M500.82 70.08h0.6M501.41 72.15h0.6M498.84 66.67h0.6M500.56 71.67h0.6M495.85 67.03h0.6M501.8 74.44h0.6M499.41 74.82h0.6M498.93 61.95h0.6M500.45 79.74h0.6M495.67 71.64h0.6M501.94 67.42h0.6M499.38 72.02h0.6M501.46 76.22h0.6M499.28 73h0.6M502.27 72.42h0.6M496.58 71.94h0.6M499.03 69.66h0.6M502.85 72.41h0.6M498.63 70.17h0.6M500.87 73.87h0.6M500.74 66.79h0.6M500.56 71.37h0.6M495.69 63.23h0.6M496.26 63.33h0.6M502.17 74.95h0.6M502.78 64.35h0.6M497.97 65.11h0.6M496.51 80.37h0.6M501.74 73.71h0.6M501.34 75.57h0.6M503.52 71.65h0.6M499.94 70.13h0.6M498.86 72.33h0.6M502.66 69.82h0.6M501.21 77.91h0.6M498.49 70h0.6M498.84 68.67h0.6M499.5 68.41h0.6M502.31 69.46h0.6M498.86 63.78h0.6M498.7 74.23h0.6M501.02 68.57h0.6M497.34 70.14h0.6" stroke="#333" stroke-width="0.6" fill="none"/>
<path d="M501.08 45.24h0.55M501.56 44.84h0.55M499 49.41h0.55M500.43 57.73h0.55M505.19 49.76h0.55M496.11 57.27h0.55M501.55 50.43h0.55M499.78 52.63h0.55M503.47 46.11h0.55M500.76 49.19h0.55M502.19 55.49h0.55M501.29 42.69h0.55M504.1 50.08h0.55M500.18 46.06h0.55M500.84 46.82h0.55M498.35 47.76h0.55M505.19 44.96h0.55M501.61 52.53h0.55M500.08 41.81h0.55M503.95 45.76h0.55M498.98 46.27h0.55M500.49 44.62h0.55M497.02 57.69h0.55M500.34 54.73h0.55M501.92 58.76h0.55M499.45 43.66h0.55M501.67 44.76h0.55M500.11 47.27h0.55M500.08 51.17h0.55M502.29 57.68h0.55M502.74 57.69h0.55M501.53 58.2h0.55M505.74 41.35h0.55M501.06 41.55h0.55M501.85 47.73h0.55M499.13 49.57h0.55M502.3 41.13h0.55M501.53 48.01h0.55M501.21 43.56h0.55M499.51 58.48h0.55M502.57 45.21h0.55M502.06 47.37h0.55M500.17 44.5h0.55M500.56 57.97h0.55M499.36 43.25h0.55M502.6 49.79h0.55M500.94 45.41h0.55M499.16 45.92h0.55M502.38 60.89h0.55M500.92 55.29h0.55M501 55.73h0.55M500.27 48.1h0.55M502.95 60.55h0.55M499.85 60.3h0.55M502.54 53.71h0.55" stroke="#666" stroke-width="0.55" fill="none"/>
<path d="M495.18 75.76h0.55M489.91 77.21h0.55M491.49 55.79h0.55M494.53 64.56h0.55M491.71 58.37h0.55M491.19 70.22h0.55M495.62 56.4h0.55M489.48 57.51h0.55M490.52 62h0.55M489.15 74.2h0.55M493.99 59.52h0.55M491.33 55.84h0.55M489.65 70.15h0.55M494.06 64.23h0.55M495.67 59.55h0.55M493.42 68.94h0.55M491.86 63.37h0.55M491.05 55.95h0.55M495.94 66.1h0.55M495.37 75.84h0.55M494.14 52.95h0.55M494.16 71.16h0.55M492.42 69.32h0.55M489.74 70.72h0.55M490.7 62.64h0.55M489.57 60.71h0.55M495.64 64.75h0.55M493.44 62.82h0.55M489.34 67.5h0.55M493.82 60.65h0.55M492.54 61.46h0.55M491.87 67.69h0.55" stroke="#777" stroke-width="0.55" fill="none"/>
<line x1="389.9" y1="132.95" x2="389.9" y2="220.95" stroke="#000" stroke-width="1.6"/>
<line x1="386.7" y1="220.3" x2="389.9" y2="220.3" stroke="#000" stroke-width="1.3"/>
<text x="386.6" y="222.8" font-size="7px" font-weight="bold" text-anchor="end" stroke="#000" stroke-width="0.28">0</text>
<line x1="386.7" y1="202.96" x2="389.9" y2="202.96" stroke="#000" stroke-width="1.3"/>
<text x="386.6" y="205.46" font-size="7px" font-weight="bold" text-anchor="end" stroke="#000" stroke-width="0.28">100</text>
<line x1="386.7" y1="185.62" x2="389.9" y2="185.62" stroke="#000" stroke-width="1.3"/>
<text x="386.6" y="188.12" font-size="7px" font-weight="bold" text-anchor="end" stroke="#000" stroke-width="0.28">200</text>
<line x1="386.7" y1="168.28" x2="389.9" y2="168.28" stroke="#000" stroke-width="1.3"/>
<text x="386.6" y="170.78" font-size="7px" font-weight="bold" text-anchor="end" stroke="#000" stroke-width="0.28">300</text>
<line x1="386.7" y1="150.94" x2="389.9" y2="150.94" stroke="#000" stroke-width="1.3"/>
<text x="386.6" y="153.44" font-size="7px" font-weight="bold" text-anchor="end" stroke="#000" stroke-width="0.28">400</text>
<line x1="386.7" y1="133.6" x2="389.9" y2="133.6" stroke="#000" stroke-width="1.3"/>
<text x="386.6" y="136.1" font-size="7px" font-weight="bold" text-anchor="end" stroke="#000" stroke-width="0.28">500</text>
<line x1="389.1" y1="220.3" x2="477.8" y2="220.3" stroke="#000" stroke-width="1.8"/>
<rect x="394.8" y="142.87" width="5.8" height="77.13" fill="#505050" stroke="#111" stroke-width="1.2"/>
<rect x="401.2" y="149.81" width="6.5" height="70.19" fill="#fff" stroke="#111" stroke-width="1.2"/>
<rect x="416.5" y="158.48" width="5.8" height="61.52" fill="#505050" stroke="#111" stroke-width="1.2"/>
<rect x="422.3" y="219.09" width="7.7" height="0.91" fill="#111" stroke="none" stroke-width="0"/>
<rect x="438.2" y="156.57" width="5.8" height="63.43" fill="#505050" stroke="#111" stroke-width="1.2"/>
<rect x="444" y="219.09" width="7.7" height="0.91" fill="#111" stroke="none" stroke-width="0"/>
<rect x="459.9" y="168.88" width="5.8" height="51.12" fill="#505050" stroke="#111" stroke-width="1.2"/>
<rect x="465.7" y="219.09" width="7.7" height="0.91" fill="#111" stroke="none" stroke-width="0"/>
<text x="400.4" y="232" font-size="8.4px" text-anchor="middle" stroke="#000" stroke-width="0.14">1</text>
<text x="421.3" y="232" font-size="8.4px" text-anchor="middle" stroke="#000" stroke-width="0.14">2</text>
<text x="442.9" y="232" font-size="8.4px" text-anchor="middle" stroke="#000" stroke-width="0.14">3</text>
<text x="464.4" y="232" font-size="8.4px" text-anchor="middle" stroke="#000" stroke-width="0.14">4</text>
<text transform="translate(357 177.3) rotate(-90)" font-size="7px" font-weight="bold" text-anchor="middle" stroke="#000" stroke-width="0.28">No. of IFNγ+ CD8 T cells</text>
<text transform="translate(366.8 177.8) rotate(-90)" font-size="7px" font-weight="bold" text-anchor="middle" stroke="#000" stroke-width="0.28">- no DC control</text>
<line x1="391" y1="244.75" x2="391" y2="331.65" stroke="#000" stroke-width="1.6"/>
<line x1="387.8" y1="331" x2="391" y2="331" stroke="#000" stroke-width="1.3"/>
<text x="387.7" y="333.5" font-size="7px" font-weight="bold" text-anchor="end" stroke="#000" stroke-width="0.28">0</text>
<line x1="387.8" y1="313.88" x2="391" y2="313.88" stroke="#000" stroke-width="1.3"/>
<text x="387.7" y="316.38" font-size="7px" font-weight="bold" text-anchor="end" stroke="#000" stroke-width="0.28">100</text>
<line x1="387.8" y1="296.76" x2="391" y2="296.76" stroke="#000" stroke-width="1.3"/>
<text x="387.7" y="299.26" font-size="7px" font-weight="bold" text-anchor="end" stroke="#000" stroke-width="0.28">200</text>
<line x1="387.8" y1="279.64" x2="391" y2="279.64" stroke="#000" stroke-width="1.3"/>
<text x="387.7" y="282.14" font-size="7px" font-weight="bold" text-anchor="end" stroke="#000" stroke-width="0.28">300</text>
<line x1="387.8" y1="262.52" x2="391" y2="262.52" stroke="#000" stroke-width="1.3"/>
<text x="387.7" y="265.02" font-size="7px" font-weight="bold" text-anchor="end" stroke="#000" stroke-width="0.28">400</text>
<line x1="387.8" y1="245.4" x2="391" y2="245.4" stroke="#000" stroke-width="1.3"/>
<text x="387.7" y="247.9" font-size="7px" font-weight="bold" text-anchor="end" stroke="#000" stroke-width="0.28">500</text>
<line x1="390.2" y1="331" x2="477.8" y2="331" stroke="#000" stroke-width="1.8"/>
<rect x="395.6" y="316.71" width="5.7" height="13.99" fill="#505050" stroke="#111" stroke-width="1.2"/>
<rect x="401.9" y="303.87" width="6.4" height="26.83" fill="#fff" stroke="#111" stroke-width="1.2"/>
<rect x="416.6" y="329.63" width="6.9" height="1.07" fill="#111" stroke="none" stroke-width="0"/>
<rect x="422.9" y="329.63" width="7.6" height="1.07" fill="#111" stroke="none" stroke-width="0"/>
<rect x="438.8" y="325.61" width="5.7" height="5.09" fill="#505050" stroke="#111" stroke-width="1.2"/>
<rect x="444.5" y="329.63" width="7.6" height="1.07" fill="#111" stroke="none" stroke-width="0"/>
<rect x="460.4" y="328.86" width="5.7" height="1.84" fill="#505050" stroke="#111" stroke-width="1.2"/>
<rect x="466.1" y="329.63" width="7.6" height="1.07" fill="#111" stroke="none" stroke-width="0"/>
<text x="402.6" y="343.1" font-size="8.4px" text-anchor="middle" stroke="#000" stroke-width="0.14">1</text>
<text x="422.9" y="343.1" font-size="8.4px" text-anchor="middle" stroke="#000" stroke-width="0.14">2</text>
<text x="444.2" y="343.1" font-size="8.4px" text-anchor="middle" stroke="#000" stroke-width="0.14">3</text>
<text x="464.9" y="343.1" font-size="8.4px" text-anchor="middle" stroke="#000" stroke-width="0.14">4</text>
<text transform="translate(359 288.8) rotate(-90)" font-size="6.65px" font-weight="bold" text-anchor="middle" stroke="#000" stroke-width="0.28">No. of IFNγ+ CD4 T cells</text>
<text transform="translate(367.4 289.3) rotate(-90)" font-size="6.65px" font-weight="bold" text-anchor="middle" stroke="#000" stroke-width="0.28">- no DC control</text>
<rect x="487.7" y="135.2" width="12.8" height="3.1" fill="#505050" stroke="#111" stroke-width="1"/>
<rect x="487.7" y="143.8" width="12.8" height="2.9" fill="#fff" stroke="#111" stroke-width="1"/>
<text x="502.6" y="138.9" font-size="5.9px" font-weight="bold" stroke="#000" stroke-width="0.28">pDC</text>
<text x="502.6" y="147.4" font-size="5.9px" font-weight="bold" stroke="#000" stroke-width="0.28">mDC</text>
</svg>
</body>
</html>
